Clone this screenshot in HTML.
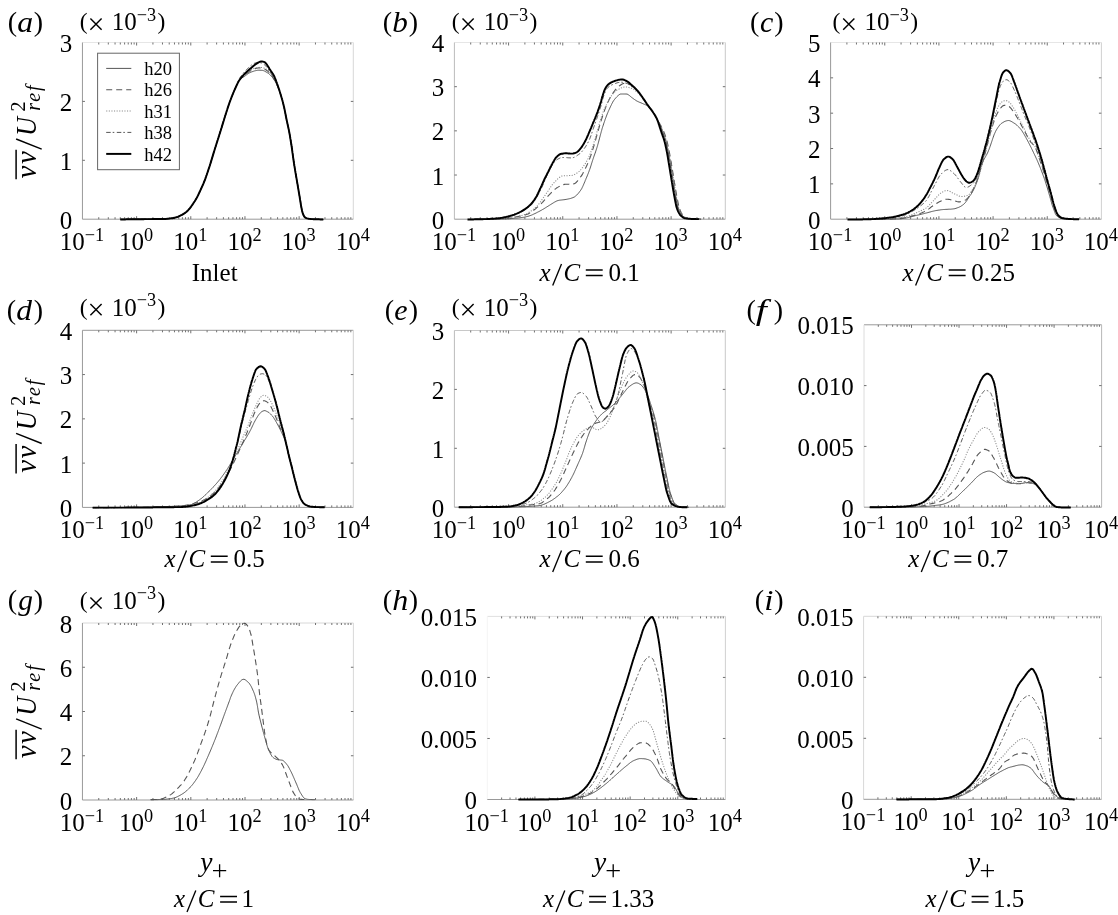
<!DOCTYPE html>
<html><head><meta charset="utf-8"><style>
html,body{margin:0;padding:0;background:#fff;width:1118px;height:915px;overflow:hidden}
svg{display:block;filter:grayscale(100%)}
</style></head><body>
<svg width="1118" height="915" viewBox="0 0 1118 915" font-family="Liberation Serif, serif">
<rect width="1118" height="915" fill="#fff"/>
<line x1="82.45" y1="42.5" x2="353.3" y2="42.5" stroke="#e6e6e6" stroke-width="1"/>
<line x1="353.3" y1="42.5" x2="353.3" y2="219.2" stroke="#d8d8d8" stroke-width="1"/>
<line x1="82.45" y1="42.5" x2="82.45" y2="219.2" stroke="#999" stroke-width="1"/>
<line x1="82.45" y1="219.2" x2="353.3" y2="219.2" stroke="#999" stroke-width="1"/>
<path d="M98.76 219.20v-2.0M98.76 42.50v2.0M108.30 219.20v-2.0M108.30 42.50v2.0M115.06 219.20v-2.0M115.06 42.50v2.0M120.31 219.20v-2.0M120.31 42.50v2.0M124.60 219.20v-2.0M124.60 42.50v2.0M128.23 219.20v-2.0M128.23 42.50v2.0M131.37 219.20v-2.0M131.37 42.50v2.0M134.14 219.20v-2.0M134.14 42.50v2.0M136.62 219.20v-3.0M136.62 42.50v3.0M152.93 219.20v-2.0M152.93 42.50v2.0M162.47 219.20v-2.0M162.47 42.50v2.0M169.23 219.20v-2.0M169.23 42.50v2.0M174.48 219.20v-2.0M174.48 42.50v2.0M178.77 219.20v-2.0M178.77 42.50v2.0M182.40 219.20v-2.0M182.40 42.50v2.0M185.54 219.20v-2.0M185.54 42.50v2.0M188.31 219.20v-2.0M188.31 42.50v2.0M190.79 219.20v-3.0M190.79 42.50v3.0M207.10 219.20v-2.0M207.10 42.50v2.0M216.64 219.20v-2.0M216.64 42.50v2.0M223.40 219.20v-2.0M223.40 42.50v2.0M228.65 219.20v-2.0M228.65 42.50v2.0M232.94 219.20v-2.0M232.94 42.50v2.0M236.57 219.20v-2.0M236.57 42.50v2.0M239.71 219.20v-2.0M239.71 42.50v2.0M242.48 219.20v-2.0M242.48 42.50v2.0M244.96 219.20v-3.0M244.96 42.50v3.0M261.27 219.20v-2.0M261.27 42.50v2.0M270.81 219.20v-2.0M270.81 42.50v2.0M277.57 219.20v-2.0M277.57 42.50v2.0M282.82 219.20v-2.0M282.82 42.50v2.0M287.11 219.20v-2.0M287.11 42.50v2.0M290.74 219.20v-2.0M290.74 42.50v2.0M293.88 219.20v-2.0M293.88 42.50v2.0M296.65 219.20v-2.0M296.65 42.50v2.0M299.13 219.20v-3.0M299.13 42.50v3.0M315.44 219.20v-2.0M315.44 42.50v2.0M324.98 219.20v-2.0M324.98 42.50v2.0M331.74 219.20v-2.0M331.74 42.50v2.0M336.99 219.20v-2.0M336.99 42.50v2.0M341.28 219.20v-2.0M341.28 42.50v2.0M344.91 219.20v-2.0M344.91 42.50v2.0M348.05 219.20v-2.0M348.05 42.50v2.0M350.82 219.20v-2.0M350.82 42.50v2.0M82.45 160.30h2.5M353.30 160.30h-2.5M82.45 101.40h2.5M353.30 101.40h-2.5" stroke="#707070" stroke-width="1" fill="none"/>
<line x1="454.4" y1="42.5" x2="725.3" y2="42.5" stroke="#e6e6e6" stroke-width="1"/>
<line x1="725.3" y1="42.5" x2="725.3" y2="219.2" stroke="#c8c8c8" stroke-width="1"/>
<line x1="454.4" y1="42.5" x2="454.4" y2="219.2" stroke="#bbb" stroke-width="1"/>
<line x1="454.4" y1="219.2" x2="725.3" y2="219.2" stroke="#999" stroke-width="1"/>
<path d="M470.71 219.20v-2.0M470.71 42.50v2.0M480.25 219.20v-2.0M480.25 42.50v2.0M487.02 219.20v-2.0M487.02 42.50v2.0M492.27 219.20v-2.0M492.27 42.50v2.0M496.56 219.20v-2.0M496.56 42.50v2.0M500.19 219.20v-2.0M500.19 42.50v2.0M503.33 219.20v-2.0M503.33 42.50v2.0M506.10 219.20v-2.0M506.10 42.50v2.0M508.58 219.20v-3.0M508.58 42.50v3.0M524.89 219.20v-2.0M524.89 42.50v2.0M534.43 219.20v-2.0M534.43 42.50v2.0M541.20 219.20v-2.0M541.20 42.50v2.0M546.45 219.20v-2.0M546.45 42.50v2.0M550.74 219.20v-2.0M550.74 42.50v2.0M554.37 219.20v-2.0M554.37 42.50v2.0M557.51 219.20v-2.0M557.51 42.50v2.0M560.28 219.20v-2.0M560.28 42.50v2.0M562.76 219.20v-3.0M562.76 42.50v3.0M579.07 219.20v-2.0M579.07 42.50v2.0M588.61 219.20v-2.0M588.61 42.50v2.0M595.38 219.20v-2.0M595.38 42.50v2.0M600.63 219.20v-2.0M600.63 42.50v2.0M604.92 219.20v-2.0M604.92 42.50v2.0M608.55 219.20v-2.0M608.55 42.50v2.0M611.69 219.20v-2.0M611.69 42.50v2.0M614.46 219.20v-2.0M614.46 42.50v2.0M616.94 219.20v-3.0M616.94 42.50v3.0M633.25 219.20v-2.0M633.25 42.50v2.0M642.79 219.20v-2.0M642.79 42.50v2.0M649.56 219.20v-2.0M649.56 42.50v2.0M654.81 219.20v-2.0M654.81 42.50v2.0M659.10 219.20v-2.0M659.10 42.50v2.0M662.73 219.20v-2.0M662.73 42.50v2.0M665.87 219.20v-2.0M665.87 42.50v2.0M668.64 219.20v-2.0M668.64 42.50v2.0M671.12 219.20v-3.0M671.12 42.50v3.0M687.43 219.20v-2.0M687.43 42.50v2.0M696.97 219.20v-2.0M696.97 42.50v2.0M703.74 219.20v-2.0M703.74 42.50v2.0M708.99 219.20v-2.0M708.99 42.50v2.0M713.28 219.20v-2.0M713.28 42.50v2.0M716.91 219.20v-2.0M716.91 42.50v2.0M720.05 219.20v-2.0M720.05 42.50v2.0M722.82 219.20v-2.0M722.82 42.50v2.0M454.40 175.02h2.5M725.30 175.02h-2.5M454.40 130.85h2.5M725.30 130.85h-2.5M454.40 86.68h2.5M725.30 86.68h-2.5" stroke="#707070" stroke-width="1" fill="none"/>
<line x1="830.6" y1="42.5" x2="1101.4" y2="42.5" stroke="#e6e6e6" stroke-width="1"/>
<line x1="1101.4" y1="42.5" x2="1101.4" y2="219.2" stroke="#d0d0d0" stroke-width="1"/>
<line x1="830.6" y1="42.5" x2="830.6" y2="219.2" stroke="#999" stroke-width="1"/>
<line x1="830.6" y1="219.2" x2="1101.4" y2="219.2" stroke="#999" stroke-width="1"/>
<path d="M846.90 219.20v-2.0M846.90 42.50v2.0M856.44 219.20v-2.0M856.44 42.50v2.0M863.21 219.20v-2.0M863.21 42.50v2.0M868.46 219.20v-2.0M868.46 42.50v2.0M872.74 219.20v-2.0M872.74 42.50v2.0M876.37 219.20v-2.0M876.37 42.50v2.0M879.51 219.20v-2.0M879.51 42.50v2.0M882.28 219.20v-2.0M882.28 42.50v2.0M884.76 219.20v-3.0M884.76 42.50v3.0M901.06 219.20v-2.0M901.06 42.50v2.0M910.60 219.20v-2.0M910.60 42.50v2.0M917.37 219.20v-2.0M917.37 42.50v2.0M922.62 219.20v-2.0M922.62 42.50v2.0M926.90 219.20v-2.0M926.90 42.50v2.0M930.53 219.20v-2.0M930.53 42.50v2.0M933.67 219.20v-2.0M933.67 42.50v2.0M936.44 219.20v-2.0M936.44 42.50v2.0M938.92 219.20v-3.0M938.92 42.50v3.0M955.22 219.20v-2.0M955.22 42.50v2.0M964.76 219.20v-2.0M964.76 42.50v2.0M971.53 219.20v-2.0M971.53 42.50v2.0M976.78 219.20v-2.0M976.78 42.50v2.0M981.06 219.20v-2.0M981.06 42.50v2.0M984.69 219.20v-2.0M984.69 42.50v2.0M987.83 219.20v-2.0M987.83 42.50v2.0M990.60 219.20v-2.0M990.60 42.50v2.0M993.08 219.20v-3.0M993.08 42.50v3.0M1009.38 219.20v-2.0M1009.38 42.50v2.0M1018.92 219.20v-2.0M1018.92 42.50v2.0M1025.69 219.20v-2.0M1025.69 42.50v2.0M1030.94 219.20v-2.0M1030.94 42.50v2.0M1035.22 219.20v-2.0M1035.22 42.50v2.0M1038.85 219.20v-2.0M1038.85 42.50v2.0M1041.99 219.20v-2.0M1041.99 42.50v2.0M1044.76 219.20v-2.0M1044.76 42.50v2.0M1047.24 219.20v-3.0M1047.24 42.50v3.0M1063.54 219.20v-2.0M1063.54 42.50v2.0M1073.08 219.20v-2.0M1073.08 42.50v2.0M1079.85 219.20v-2.0M1079.85 42.50v2.0M1085.10 219.20v-2.0M1085.10 42.50v2.0M1089.38 219.20v-2.0M1089.38 42.50v2.0M1093.01 219.20v-2.0M1093.01 42.50v2.0M1096.15 219.20v-2.0M1096.15 42.50v2.0M1098.92 219.20v-2.0M1098.92 42.50v2.0M830.60 183.86h2.5M1101.40 183.86h-2.5M830.60 148.52h2.5M1101.40 148.52h-2.5M830.60 113.18h2.5M1101.40 113.18h-2.5M830.60 77.84h2.5M1101.40 77.84h-2.5" stroke="#707070" stroke-width="1" fill="none"/>
<line x1="82.45" y1="330.3" x2="353.3" y2="330.3" stroke="#999" stroke-width="1"/>
<line x1="353.3" y1="330.3" x2="353.3" y2="507.4" stroke="#d0d0d0" stroke-width="1"/>
<line x1="82.45" y1="330.3" x2="82.45" y2="507.4" stroke="#999" stroke-width="1"/>
<line x1="82.45" y1="507.4" x2="353.3" y2="507.4" stroke="#999" stroke-width="1"/>
<path d="M98.76 507.40v-2.0M98.76 330.30v2.0M108.30 507.40v-2.0M108.30 330.30v2.0M115.06 507.40v-2.0M115.06 330.30v2.0M120.31 507.40v-2.0M120.31 330.30v2.0M124.60 507.40v-2.0M124.60 330.30v2.0M128.23 507.40v-2.0M128.23 330.30v2.0M131.37 507.40v-2.0M131.37 330.30v2.0M134.14 507.40v-2.0M134.14 330.30v2.0M136.62 507.40v-3.0M136.62 330.30v3.0M152.93 507.40v-2.0M152.93 330.30v2.0M162.47 507.40v-2.0M162.47 330.30v2.0M169.23 507.40v-2.0M169.23 330.30v2.0M174.48 507.40v-2.0M174.48 330.30v2.0M178.77 507.40v-2.0M178.77 330.30v2.0M182.40 507.40v-2.0M182.40 330.30v2.0M185.54 507.40v-2.0M185.54 330.30v2.0M188.31 507.40v-2.0M188.31 330.30v2.0M190.79 507.40v-3.0M190.79 330.30v3.0M207.10 507.40v-2.0M207.10 330.30v2.0M216.64 507.40v-2.0M216.64 330.30v2.0M223.40 507.40v-2.0M223.40 330.30v2.0M228.65 507.40v-2.0M228.65 330.30v2.0M232.94 507.40v-2.0M232.94 330.30v2.0M236.57 507.40v-2.0M236.57 330.30v2.0M239.71 507.40v-2.0M239.71 330.30v2.0M242.48 507.40v-2.0M242.48 330.30v2.0M244.96 507.40v-3.0M244.96 330.30v3.0M261.27 507.40v-2.0M261.27 330.30v2.0M270.81 507.40v-2.0M270.81 330.30v2.0M277.57 507.40v-2.0M277.57 330.30v2.0M282.82 507.40v-2.0M282.82 330.30v2.0M287.11 507.40v-2.0M287.11 330.30v2.0M290.74 507.40v-2.0M290.74 330.30v2.0M293.88 507.40v-2.0M293.88 330.30v2.0M296.65 507.40v-2.0M296.65 330.30v2.0M299.13 507.40v-3.0M299.13 330.30v3.0M315.44 507.40v-2.0M315.44 330.30v2.0M324.98 507.40v-2.0M324.98 330.30v2.0M331.74 507.40v-2.0M331.74 330.30v2.0M336.99 507.40v-2.0M336.99 330.30v2.0M341.28 507.40v-2.0M341.28 330.30v2.0M344.91 507.40v-2.0M344.91 330.30v2.0M348.05 507.40v-2.0M348.05 330.30v2.0M350.82 507.40v-2.0M350.82 330.30v2.0M82.45 463.12h2.5M353.30 463.12h-2.5M82.45 418.85h2.5M353.30 418.85h-2.5M82.45 374.57h2.5M353.30 374.57h-2.5" stroke="#707070" stroke-width="1" fill="none"/>
<line x1="454.4" y1="330.5" x2="725.3" y2="330.5" stroke="#c8c8c8" stroke-width="1"/>
<line x1="725.3" y1="330.5" x2="725.3" y2="507.2" stroke="#c8c8c8" stroke-width="1"/>
<line x1="454.4" y1="330.5" x2="454.4" y2="507.2" stroke="#bbb" stroke-width="1"/>
<line x1="454.4" y1="507.2" x2="725.3" y2="507.2" stroke="#999" stroke-width="1"/>
<path d="M470.71 507.20v-2.0M470.71 330.50v2.0M480.25 507.20v-2.0M480.25 330.50v2.0M487.02 507.20v-2.0M487.02 330.50v2.0M492.27 507.20v-2.0M492.27 330.50v2.0M496.56 507.20v-2.0M496.56 330.50v2.0M500.19 507.20v-2.0M500.19 330.50v2.0M503.33 507.20v-2.0M503.33 330.50v2.0M506.10 507.20v-2.0M506.10 330.50v2.0M508.58 507.20v-3.0M508.58 330.50v3.0M524.89 507.20v-2.0M524.89 330.50v2.0M534.43 507.20v-2.0M534.43 330.50v2.0M541.20 507.20v-2.0M541.20 330.50v2.0M546.45 507.20v-2.0M546.45 330.50v2.0M550.74 507.20v-2.0M550.74 330.50v2.0M554.37 507.20v-2.0M554.37 330.50v2.0M557.51 507.20v-2.0M557.51 330.50v2.0M560.28 507.20v-2.0M560.28 330.50v2.0M562.76 507.20v-3.0M562.76 330.50v3.0M579.07 507.20v-2.0M579.07 330.50v2.0M588.61 507.20v-2.0M588.61 330.50v2.0M595.38 507.20v-2.0M595.38 330.50v2.0M600.63 507.20v-2.0M600.63 330.50v2.0M604.92 507.20v-2.0M604.92 330.50v2.0M608.55 507.20v-2.0M608.55 330.50v2.0M611.69 507.20v-2.0M611.69 330.50v2.0M614.46 507.20v-2.0M614.46 330.50v2.0M616.94 507.20v-3.0M616.94 330.50v3.0M633.25 507.20v-2.0M633.25 330.50v2.0M642.79 507.20v-2.0M642.79 330.50v2.0M649.56 507.20v-2.0M649.56 330.50v2.0M654.81 507.20v-2.0M654.81 330.50v2.0M659.10 507.20v-2.0M659.10 330.50v2.0M662.73 507.20v-2.0M662.73 330.50v2.0M665.87 507.20v-2.0M665.87 330.50v2.0M668.64 507.20v-2.0M668.64 330.50v2.0M671.12 507.20v-3.0M671.12 330.50v3.0M687.43 507.20v-2.0M687.43 330.50v2.0M696.97 507.20v-2.0M696.97 330.50v2.0M703.74 507.20v-2.0M703.74 330.50v2.0M708.99 507.20v-2.0M708.99 330.50v2.0M713.28 507.20v-2.0M713.28 330.50v2.0M716.91 507.20v-2.0M716.91 330.50v2.0M720.05 507.20v-2.0M720.05 330.50v2.0M722.82 507.20v-2.0M722.82 330.50v2.0M454.40 448.30h2.5M725.30 448.30h-2.5M454.40 389.40h2.5M725.30 389.40h-2.5" stroke="#707070" stroke-width="1" fill="none"/>
<line x1="864.0" y1="324.8" x2="1101.6" y2="324.8" stroke="#999" stroke-width="1"/>
<line x1="1101.6" y1="324.8" x2="1101.6" y2="507.2" stroke="#b8b8b8" stroke-width="1"/>
<line x1="864.0" y1="324.8" x2="864.0" y2="507.2" stroke="#dcdcdc" stroke-width="1"/>
<line x1="864.0" y1="507.2" x2="1101.6" y2="507.2" stroke="#999" stroke-width="1"/>
<path d="M878.30 507.20v-2.0M878.30 324.80v2.0M886.67 507.20v-2.0M886.67 324.80v2.0M892.61 507.20v-2.0M892.61 324.80v2.0M897.22 507.20v-2.0M897.22 324.80v2.0M900.98 507.20v-2.0M900.98 324.80v2.0M904.16 507.20v-2.0M904.16 324.80v2.0M906.91 507.20v-2.0M906.91 324.80v2.0M909.35 507.20v-2.0M909.35 324.80v2.0M911.52 507.20v-3.0M911.52 324.80v3.0M925.82 507.20v-2.0M925.82 324.80v2.0M934.19 507.20v-2.0M934.19 324.80v2.0M940.13 507.20v-2.0M940.13 324.80v2.0M944.74 507.20v-2.0M944.74 324.80v2.0M948.50 507.20v-2.0M948.50 324.80v2.0M951.68 507.20v-2.0M951.68 324.80v2.0M954.43 507.20v-2.0M954.43 324.80v2.0M956.87 507.20v-2.0M956.87 324.80v2.0M959.04 507.20v-3.0M959.04 324.80v3.0M973.34 507.20v-2.0M973.34 324.80v2.0M981.71 507.20v-2.0M981.71 324.80v2.0M987.65 507.20v-2.0M987.65 324.80v2.0M992.26 507.20v-2.0M992.26 324.80v2.0M996.02 507.20v-2.0M996.02 324.80v2.0M999.20 507.20v-2.0M999.20 324.80v2.0M1001.95 507.20v-2.0M1001.95 324.80v2.0M1004.39 507.20v-2.0M1004.39 324.80v2.0M1006.56 507.20v-3.0M1006.56 324.80v3.0M1020.86 507.20v-2.0M1020.86 324.80v2.0M1029.23 507.20v-2.0M1029.23 324.80v2.0M1035.17 507.20v-2.0M1035.17 324.80v2.0M1039.78 507.20v-2.0M1039.78 324.80v2.0M1043.54 507.20v-2.0M1043.54 324.80v2.0M1046.72 507.20v-2.0M1046.72 324.80v2.0M1049.47 507.20v-2.0M1049.47 324.80v2.0M1051.91 507.20v-2.0M1051.91 324.80v2.0M1054.08 507.20v-3.0M1054.08 324.80v3.0M1068.38 507.20v-2.0M1068.38 324.80v2.0M1076.75 507.20v-2.0M1076.75 324.80v2.0M1082.69 507.20v-2.0M1082.69 324.80v2.0M1087.30 507.20v-2.0M1087.30 324.80v2.0M1091.06 507.20v-2.0M1091.06 324.80v2.0M1094.24 507.20v-2.0M1094.24 324.80v2.0M1096.99 507.20v-2.0M1096.99 324.80v2.0M1099.43 507.20v-2.0M1099.43 324.80v2.0M864.00 446.40h2.5M1101.60 446.40h-2.5M864.00 385.60h2.5M1101.60 385.60h-2.5" stroke="#707070" stroke-width="1" fill="none"/>
<line x1="82.45" y1="623.0" x2="353.4" y2="623.0" stroke="#d8d8d8" stroke-width="1"/>
<line x1="353.4" y1="623.0" x2="353.4" y2="800.0" stroke="#d8d8d8" stroke-width="1"/>
<line x1="82.45" y1="623.0" x2="82.45" y2="800.0" stroke="#999" stroke-width="1"/>
<line x1="82.45" y1="800.0" x2="353.4" y2="800.0" stroke="#999" stroke-width="1"/>
<path d="M98.76 800.00v-2.0M98.76 623.00v2.0M108.31 800.00v-2.0M108.31 623.00v2.0M115.08 800.00v-2.0M115.08 623.00v2.0M120.33 800.00v-2.0M120.33 623.00v2.0M124.62 800.00v-2.0M124.62 623.00v2.0M128.25 800.00v-2.0M128.25 623.00v2.0M131.39 800.00v-2.0M131.39 623.00v2.0M134.16 800.00v-2.0M134.16 623.00v2.0M136.64 800.00v-3.0M136.64 623.00v3.0M152.95 800.00v-2.0M152.95 623.00v2.0M162.50 800.00v-2.0M162.50 623.00v2.0M169.27 800.00v-2.0M169.27 623.00v2.0M174.52 800.00v-2.0M174.52 623.00v2.0M178.81 800.00v-2.0M178.81 623.00v2.0M182.44 800.00v-2.0M182.44 623.00v2.0M185.58 800.00v-2.0M185.58 623.00v2.0M188.35 800.00v-2.0M188.35 623.00v2.0M190.83 800.00v-3.0M190.83 623.00v3.0M207.14 800.00v-2.0M207.14 623.00v2.0M216.69 800.00v-2.0M216.69 623.00v2.0M223.46 800.00v-2.0M223.46 623.00v2.0M228.71 800.00v-2.0M228.71 623.00v2.0M233.00 800.00v-2.0M233.00 623.00v2.0M236.63 800.00v-2.0M236.63 623.00v2.0M239.77 800.00v-2.0M239.77 623.00v2.0M242.54 800.00v-2.0M242.54 623.00v2.0M245.02 800.00v-3.0M245.02 623.00v3.0M261.33 800.00v-2.0M261.33 623.00v2.0M270.88 800.00v-2.0M270.88 623.00v2.0M277.65 800.00v-2.0M277.65 623.00v2.0M282.90 800.00v-2.0M282.90 623.00v2.0M287.19 800.00v-2.0M287.19 623.00v2.0M290.82 800.00v-2.0M290.82 623.00v2.0M293.96 800.00v-2.0M293.96 623.00v2.0M296.73 800.00v-2.0M296.73 623.00v2.0M299.21 800.00v-3.0M299.21 623.00v3.0M315.52 800.00v-2.0M315.52 623.00v2.0M325.07 800.00v-2.0M325.07 623.00v2.0M331.84 800.00v-2.0M331.84 623.00v2.0M337.09 800.00v-2.0M337.09 623.00v2.0M341.38 800.00v-2.0M341.38 623.00v2.0M345.01 800.00v-2.0M345.01 623.00v2.0M348.15 800.00v-2.0M348.15 623.00v2.0M350.92 800.00v-2.0M350.92 623.00v2.0M82.45 755.75h2.5M353.40 755.75h-2.5M82.45 711.50h2.5M353.40 711.50h-2.5M82.45 667.25h2.5M353.40 667.25h-2.5" stroke="#707070" stroke-width="1" fill="none"/>
<line x1="487.3" y1="616.4" x2="725.4" y2="616.4" stroke="#e0e0e0" stroke-width="1"/>
<line x1="725.4" y1="616.4" x2="725.4" y2="799.5" stroke="#d0d0d0" stroke-width="1"/>
<line x1="487.3" y1="616.4" x2="487.3" y2="799.5" stroke="#f4f4f4" stroke-width="1"/>
<line x1="487.3" y1="799.5" x2="725.4" y2="799.5" stroke="#999" stroke-width="1"/>
<path d="M501.64 799.50v-2.0M501.64 616.40v2.0M510.02 799.50v-2.0M510.02 616.40v2.0M515.97 799.50v-2.0M515.97 616.40v2.0M520.58 799.50v-2.0M520.58 616.40v2.0M524.36 799.50v-2.0M524.36 616.40v2.0M527.54 799.50v-2.0M527.54 616.40v2.0M530.31 799.50v-2.0M530.31 616.40v2.0M532.74 799.50v-2.0M532.74 616.40v2.0M534.92 799.50v-3.0M534.92 616.40v3.0M549.26 799.50v-2.0M549.26 616.40v2.0M557.64 799.50v-2.0M557.64 616.40v2.0M563.59 799.50v-2.0M563.59 616.40v2.0M568.20 799.50v-2.0M568.20 616.40v2.0M571.98 799.50v-2.0M571.98 616.40v2.0M575.16 799.50v-2.0M575.16 616.40v2.0M577.93 799.50v-2.0M577.93 616.40v2.0M580.36 799.50v-2.0M580.36 616.40v2.0M582.54 799.50v-3.0M582.54 616.40v3.0M596.88 799.50v-2.0M596.88 616.40v2.0M605.26 799.50v-2.0M605.26 616.40v2.0M611.21 799.50v-2.0M611.21 616.40v2.0M615.82 799.50v-2.0M615.82 616.40v2.0M619.60 799.50v-2.0M619.60 616.40v2.0M622.78 799.50v-2.0M622.78 616.40v2.0M625.55 799.50v-2.0M625.55 616.40v2.0M627.98 799.50v-2.0M627.98 616.40v2.0M630.16 799.50v-3.0M630.16 616.40v3.0M644.50 799.50v-2.0M644.50 616.40v2.0M652.88 799.50v-2.0M652.88 616.40v2.0M658.83 799.50v-2.0M658.83 616.40v2.0M663.44 799.50v-2.0M663.44 616.40v2.0M667.22 799.50v-2.0M667.22 616.40v2.0M670.40 799.50v-2.0M670.40 616.40v2.0M673.17 799.50v-2.0M673.17 616.40v2.0M675.60 799.50v-2.0M675.60 616.40v2.0M677.78 799.50v-3.0M677.78 616.40v3.0M692.12 799.50v-2.0M692.12 616.40v2.0M700.50 799.50v-2.0M700.50 616.40v2.0M706.45 799.50v-2.0M706.45 616.40v2.0M711.06 799.50v-2.0M711.06 616.40v2.0M714.84 799.50v-2.0M714.84 616.40v2.0M718.02 799.50v-2.0M718.02 616.40v2.0M720.79 799.50v-2.0M720.79 616.40v2.0M723.22 799.50v-2.0M723.22 616.40v2.0M487.30 738.47h2.5M725.40 738.47h-2.5M487.30 677.43h2.5M725.40 677.43h-2.5" stroke="#707070" stroke-width="1" fill="none"/>
<line x1="863.6" y1="616.3" x2="1101.5" y2="616.3" stroke="#d8d8d8" stroke-width="1"/>
<line x1="1101.5" y1="616.3" x2="1101.5" y2="799.3" stroke="#d0d0d0" stroke-width="1"/>
<line x1="863.6" y1="616.3" x2="863.6" y2="799.3" stroke="#d8d8d8" stroke-width="1"/>
<line x1="863.6" y1="799.3" x2="1101.5" y2="799.3" stroke="#999" stroke-width="1"/>
<path d="M877.92 799.30v-2.0M877.92 616.30v2.0M886.30 799.30v-2.0M886.30 616.30v2.0M892.25 799.30v-2.0M892.25 616.30v2.0M896.86 799.30v-2.0M896.86 616.30v2.0M900.62 799.30v-2.0M900.62 616.30v2.0M903.81 799.30v-2.0M903.81 616.30v2.0M906.57 799.30v-2.0M906.57 616.30v2.0M909.00 799.30v-2.0M909.00 616.30v2.0M911.18 799.30v-3.0M911.18 616.30v3.0M925.50 799.30v-2.0M925.50 616.30v2.0M933.88 799.30v-2.0M933.88 616.30v2.0M939.83 799.30v-2.0M939.83 616.30v2.0M944.44 799.30v-2.0M944.44 616.30v2.0M948.20 799.30v-2.0M948.20 616.30v2.0M951.39 799.30v-2.0M951.39 616.30v2.0M954.15 799.30v-2.0M954.15 616.30v2.0M956.58 799.30v-2.0M956.58 616.30v2.0M958.76 799.30v-3.0M958.76 616.30v3.0M973.08 799.30v-2.0M973.08 616.30v2.0M981.46 799.30v-2.0M981.46 616.30v2.0M987.41 799.30v-2.0M987.41 616.30v2.0M992.02 799.30v-2.0M992.02 616.30v2.0M995.78 799.30v-2.0M995.78 616.30v2.0M998.97 799.30v-2.0M998.97 616.30v2.0M1001.73 799.30v-2.0M1001.73 616.30v2.0M1004.16 799.30v-2.0M1004.16 616.30v2.0M1006.34 799.30v-3.0M1006.34 616.30v3.0M1020.66 799.30v-2.0M1020.66 616.30v2.0M1029.04 799.30v-2.0M1029.04 616.30v2.0M1034.99 799.30v-2.0M1034.99 616.30v2.0M1039.60 799.30v-2.0M1039.60 616.30v2.0M1043.36 799.30v-2.0M1043.36 616.30v2.0M1046.55 799.30v-2.0M1046.55 616.30v2.0M1049.31 799.30v-2.0M1049.31 616.30v2.0M1051.74 799.30v-2.0M1051.74 616.30v2.0M1053.92 799.30v-3.0M1053.92 616.30v3.0M1068.24 799.30v-2.0M1068.24 616.30v2.0M1076.62 799.30v-2.0M1076.62 616.30v2.0M1082.57 799.30v-2.0M1082.57 616.30v2.0M1087.18 799.30v-2.0M1087.18 616.30v2.0M1090.94 799.30v-2.0M1090.94 616.30v2.0M1094.13 799.30v-2.0M1094.13 616.30v2.0M1096.89 799.30v-2.0M1096.89 616.30v2.0M1099.32 799.30v-2.0M1099.32 616.30v2.0M863.60 738.30h2.5M1101.50 738.30h-2.5M863.60 677.30h2.5M1101.50 677.30h-2.5" stroke="#707070" stroke-width="1" fill="none"/>
<path d="M120.3 219.4L121.2 219.4L122.1 219.4L123.0 219.4L123.9 219.4L124.8 219.4L125.7 219.4L126.6 219.3L127.5 219.3L128.4 219.3L129.3 219.3L130.2 219.3L131.1 219.3L132.0 219.3L132.9 219.3L133.8 219.3L134.7 219.3L135.6 219.2L136.5 219.2L137.4 219.2L138.3 219.2L139.2 219.2L140.1 219.2L141.0 219.2L141.9 219.2L142.8 219.2L143.7 219.2L144.6 219.1L145.5 219.1L146.4 219.1L147.3 219.1L148.2 219.1L149.1 219.1L150.0 219.1L150.9 219.1L151.8 219.1L152.7 219.0L153.6 219.0L154.5 219.0L155.4 219.0L156.3 219.0L157.2 219.0L158.1 219.0L159.0 219.0L159.9 219.0L160.8 219.0L161.7 218.9L162.6 218.9L163.5 218.9L164.4 218.9L165.3 218.9L166.2 218.9L167.1 218.8L168.0 218.7L168.9 218.6L169.8 218.5L170.7 218.4L171.6 218.3L172.5 218.2L173.4 218.0L174.3 217.8L175.2 217.6L176.1 217.3L177.0 217.1L177.9 216.8L178.7 216.4L179.6 216.0L180.4 215.6L181.2 215.2L182.0 214.8L182.8 214.3L183.6 213.8L184.4 213.3L185.2 212.8L185.9 212.2L186.6 211.7L187.3 211.0L188.0 210.4L188.6 209.7L189.2 209.0L189.8 208.3L190.4 207.5L191.0 206.8L191.5 206.0L192.1 205.2L192.6 204.4L193.2 203.6L193.7 202.8L194.2 202.0L194.7 201.3L195.2 200.5L195.7 199.6L196.2 198.9L196.6 198.1L197.1 197.2L197.5 196.4L198.0 195.5L198.4 194.6L198.8 193.8L199.2 192.9L199.6 192.0L200.0 191.2L200.4 190.3L200.8 189.4L201.2 188.5L201.6 187.6L202.0 186.8L202.4 185.9L202.8 185.0L203.2 184.1L203.6 183.1L204.0 182.3L204.3 181.4L204.7 180.5L205.0 179.6L205.4 178.6L205.7 177.6L206.0 176.8L206.3 175.9L206.6 175.1L206.9 174.2L207.2 173.3L207.5 172.5L207.8 171.6L208.1 170.7L208.4 169.8L208.7 168.9L209.0 168.0L209.3 167.1L209.6 166.2L209.9 165.3L210.2 164.3L210.5 163.4L210.8 162.4L211.1 161.4L211.4 160.4L211.7 159.4L212.0 158.4L212.3 157.4L212.6 156.4L212.9 155.4L213.2 154.4L213.5 153.4L213.8 152.4L214.1 151.4L214.4 150.5L214.7 149.5L215.0 148.5L215.3 147.5L215.6 146.6L215.9 145.6L216.2 144.7L216.5 143.7L216.8 142.8L217.1 141.9L217.4 140.9L217.7 140.0L218.0 139.0L218.3 138.1L218.6 137.1L218.9 136.2L219.2 135.3L219.5 134.3L219.8 133.4L220.1 132.4L220.4 131.4L220.7 130.5L221.0 129.5L221.3 128.5L221.6 127.6L221.9 126.6L222.2 125.6L222.5 124.6L222.8 123.6L223.1 122.6L223.4 121.6L223.7 120.7L224.0 119.7L224.3 118.7L224.6 117.7L224.9 116.8L225.2 115.8L225.5 114.9L225.8 113.9L226.1 113.0L226.4 112.0L226.7 111.1L227.0 110.2L227.3 109.3L227.6 108.3L227.9 107.4L228.2 106.5L228.5 105.6L228.8 104.7L229.1 103.9L229.4 103.0L229.7 102.1L230.1 101.2L230.4 100.2L230.8 99.3L231.1 98.3L231.5 97.4L231.8 96.5L232.2 95.6L232.5 94.7L232.9 93.9L233.2 93.0L233.6 92.2L234.0 91.2L234.4 90.3L234.8 89.4L235.2 88.5L235.6 87.6L236.0 86.6L236.4 85.7L236.8 84.8L237.2 83.9L237.6 83.1L238.0 82.2L238.5 81.5L239.0 80.7L239.6 80.0L240.2 79.3L240.9 78.7L241.7 78.2L242.4 77.6L243.2 77.1L244.0 76.6L244.8 76.1L245.5 75.6L246.3 75.0L247.0 74.4L247.8 73.9L248.6 73.4L249.4 72.9L250.2 72.5L251.1 72.1L251.9 71.8L252.8 71.5L253.7 71.2L254.6 70.9L255.5 70.7L256.4 70.5L257.3 70.3L258.2 70.2L259.1 70.2L260.0 70.2L260.9 70.3L261.8 70.3L262.7 70.4L263.6 70.7L264.4 71.0L265.2 71.5L266.0 71.9L266.8 72.4L267.6 72.9L268.4 73.4L269.1 74.0L269.8 74.6L270.5 75.2L271.2 75.9L271.8 76.6L272.4 77.3L273.0 78.1L273.5 78.8L274.1 79.6L274.6 80.4L275.1 81.3L275.5 82.1L276.0 82.9L276.4 83.8L276.9 84.7L277.3 85.5L277.7 86.4L278.1 87.4L278.4 88.2L278.8 89.1L279.1 90.0L279.5 90.9L279.8 91.9L280.1 92.8L280.4 93.6L280.7 94.6L281.0 95.5L281.3 96.5L281.6 97.6L281.9 98.5L282.1 99.4L282.4 100.3L282.6 101.3L282.9 102.3L283.1 103.2L283.4 104.3L283.6 105.3L283.9 106.4L284.1 107.2L284.3 108.2L284.5 109.1L284.7 110.1L284.9 111.1L285.1 112.1L285.3 113.1L285.5 114.2L285.7 115.2L285.9 116.2L286.1 117.2L286.3 118.2L286.5 119.2L286.7 120.2L286.9 121.1L287.1 122.0L287.3 122.9L287.5 123.9L287.7 124.8L287.9 125.7L288.1 126.6L288.3 127.5L288.5 128.5L288.7 129.4L288.9 130.4L289.1 131.4L289.3 132.5L289.5 133.5L289.7 134.6L289.9 135.7L290.1 136.9L290.3 138.1L290.4 138.9L290.6 139.8L290.7 140.8L290.9 141.7L291.0 142.6L291.2 143.6L291.3 144.5L291.5 145.5L291.6 146.5L291.8 147.5L291.9 148.5L292.1 149.6L292.2 150.6L292.4 151.8L292.5 152.9L292.7 154.0L292.8 155.1L293.0 156.2L293.1 157.3L293.3 158.4L293.4 159.5L293.6 160.5L293.7 161.5L293.9 162.5L294.0 163.4L294.2 164.4L294.3 165.4L294.5 166.3L294.6 167.2L294.8 168.1L294.9 169.1L295.1 170.0L295.2 170.9L295.4 171.8L295.5 172.7L295.7 173.6L295.8 174.5L296.0 175.4L296.1 176.3L296.3 177.2L296.5 178.4L296.7 179.5L296.9 180.7L297.1 181.9L297.3 183.1L297.5 184.2L297.7 185.4L297.9 186.6L298.1 187.8L298.3 188.9L298.5 190.1L298.7 191.3L298.9 192.5L299.1 193.7L299.3 194.8L299.5 196.0L299.7 197.2L299.8 198.1L300.0 199.0L300.1 199.9L300.3 200.9L300.4 201.8L300.6 202.7L300.7 203.6L300.9 204.8L301.1 205.9L301.3 207.0L301.5 208.0L301.7 209.0L301.9 210.0L302.1 210.9L302.4 212.0L302.6 212.9L303.0 213.8L303.3 214.7L303.7 215.5L304.2 216.4L304.7 217.1L305.5 217.7L306.3 218.1L307.2 218.4L308.1 218.6L309.0 218.8L309.9 218.9L310.8 219.0L311.7 219.1L312.6 219.1L313.5 219.2L314.4 219.2L315.3 219.2L316.2 219.3L317.1 219.3L318.0 219.3L318.9 219.3L319.8 219.4L320.7 219.4L321.6 219.4L322.5 219.4L323.3 219.4" fill="none" stroke="#555" stroke-width="1" stroke-linejoin="round"/>
<path d="M120.3 219.4L121.2 219.4L122.1 219.4L123.0 219.4L123.9 219.4L124.8 219.4L125.7 219.4L126.6 219.3L127.5 219.3L128.4 219.3L129.3 219.3L130.2 219.3L131.1 219.3L132.0 219.3L132.9 219.3L133.8 219.3L134.7 219.3L135.6 219.2L136.5 219.2L137.4 219.2L138.3 219.2L139.2 219.2L140.1 219.2L141.0 219.2L141.9 219.2L142.8 219.2L143.7 219.2L144.6 219.1L145.5 219.1L146.4 219.1L147.3 219.1L148.2 219.1L149.1 219.1L150.0 219.1L150.9 219.1L151.8 219.1L152.7 219.0L153.6 219.0L154.5 219.0L155.4 219.0L156.3 219.0L157.2 219.0L158.1 219.0L159.0 219.0L159.9 219.0L160.8 219.0L161.7 218.9L162.6 218.9L163.5 218.9L164.4 218.9L165.3 218.9L166.2 218.9L167.1 218.8L168.0 218.7L168.9 218.6L169.8 218.5L170.7 218.4L171.6 218.3L172.5 218.2L173.4 218.0L174.3 217.8L175.2 217.6L176.1 217.3L177.0 217.1L177.9 216.8L178.7 216.4L179.6 216.0L180.4 215.6L181.2 215.2L182.0 214.8L182.8 214.3L183.6 213.8L184.4 213.3L185.2 212.8L185.9 212.2L186.6 211.7L187.3 211.0L188.0 210.4L188.6 209.7L189.2 209.0L189.8 208.3L190.4 207.5L191.0 206.8L191.5 206.0L192.1 205.2L192.6 204.4L193.2 203.6L193.7 202.8L194.2 202.0L194.7 201.3L195.2 200.5L195.7 199.6L196.2 198.9L196.6 198.1L197.1 197.2L197.5 196.4L198.0 195.5L198.4 194.6L198.8 193.8L199.2 192.9L199.6 192.0L200.0 191.2L200.4 190.3L200.8 189.4L201.2 188.5L201.6 187.6L202.0 186.8L202.4 185.9L202.8 185.0L203.2 184.1L203.6 183.1L204.0 182.3L204.3 181.4L204.7 180.5L205.0 179.6L205.4 178.6L205.7 177.6L206.0 176.8L206.3 175.9L206.6 175.1L206.9 174.2L207.2 173.3L207.5 172.5L207.8 171.6L208.1 170.7L208.4 169.8L208.7 168.9L209.0 168.0L209.3 167.1L209.6 166.2L209.9 165.3L210.2 164.3L210.5 163.4L210.8 162.4L211.1 161.4L211.4 160.4L211.7 159.4L212.0 158.4L212.3 157.4L212.6 156.4L212.9 155.4L213.2 154.4L213.5 153.4L213.8 152.4L214.1 151.4L214.4 150.5L214.7 149.5L215.0 148.5L215.3 147.5L215.6 146.6L215.9 145.6L216.2 144.7L216.5 143.7L216.8 142.8L217.1 141.9L217.4 140.9L217.7 140.0L218.0 139.0L218.3 138.1L218.6 137.1L218.9 136.2L219.2 135.3L219.5 134.3L219.8 133.4L220.1 132.4L220.4 131.4L220.7 130.5L221.0 129.5L221.3 128.5L221.6 127.6L221.9 126.6L222.2 125.6L222.5 124.6L222.8 123.6L223.1 122.6L223.4 121.6L223.7 120.7L224.0 119.7L224.3 118.7L224.6 117.7L224.9 116.8L225.2 115.8L225.5 114.9L225.8 113.9L226.1 113.0L226.4 112.0L226.7 111.1L227.0 110.2L227.3 109.3L227.6 108.3L227.9 107.4L228.2 106.5L228.5 105.6L228.8 104.7L229.1 103.9L229.4 103.0L229.7 102.1L230.1 101.2L230.4 100.2L230.8 99.3L231.1 98.3L231.5 97.4L231.8 96.5L232.2 95.6L232.5 94.7L232.9 93.9L233.2 93.0L233.6 92.2L234.0 91.2L234.4 90.3L234.8 89.4L235.2 88.5L235.6 87.6L236.0 86.7L236.4 85.8L236.8 84.9L237.2 84.0L237.6 83.2L238.0 82.3L238.5 81.5L239.0 80.7L239.5 80.0L240.1 79.3L240.8 78.6L241.5 78.0L242.2 77.4L242.9 76.8L243.7 76.2L244.4 75.6L245.1 75.0L245.8 74.4L246.5 73.8L247.2 73.2L247.9 72.6L248.7 72.1L249.4 71.5L250.2 71.0L251.0 70.5L251.8 70.1L252.6 69.6L253.5 69.2L254.3 68.9L255.2 68.6L256.1 68.4L257.0 68.1L257.9 68.0L258.8 67.9L259.7 67.9L260.6 68.0L261.5 68.1L262.4 68.3L263.3 68.5L264.2 68.8L265.0 69.2L265.8 69.8L266.5 70.3L267.3 70.8L268.0 71.4L268.7 72.0L269.3 72.7L270.0 73.4L270.6 74.1L271.2 74.9L271.7 75.6L272.3 76.4L272.8 77.2L273.3 78.0L273.8 78.9L274.3 79.7L274.7 80.5L275.2 81.4L275.6 82.2L276.1 83.1L276.5 83.9L276.9 84.8L277.3 85.7L277.7 86.5L278.1 87.5L278.5 88.4L278.8 89.3L279.2 90.2L279.5 91.1L279.9 92.0L280.2 92.9L280.5 93.8L280.8 94.7L281.1 95.7L281.4 96.7L281.6 97.6L281.9 98.5L282.1 99.4L282.4 100.3L282.6 101.3L282.9 102.3L283.1 103.2L283.4 104.3L283.6 105.3L283.9 106.4L284.1 107.2L284.3 108.2L284.5 109.1L284.7 110.1L284.9 111.1L285.1 112.1L285.3 113.1L285.5 114.2L285.7 115.2L285.9 116.2L286.1 117.2L286.3 118.2L286.5 119.2L286.7 120.2L286.9 121.1L287.1 122.0L287.3 122.9L287.5 123.9L287.7 124.8L287.9 125.7L288.1 126.6L288.3 127.5L288.5 128.5L288.7 129.4L288.9 130.4L289.1 131.4L289.3 132.5L289.5 133.5L289.7 134.6L289.9 135.7L290.1 136.9L290.3 138.1L290.4 138.9L290.6 139.8L290.7 140.8L290.9 141.7L291.0 142.6L291.2 143.6L291.3 144.5L291.5 145.5L291.6 146.5L291.8 147.5L291.9 148.5L292.1 149.6L292.2 150.6L292.4 151.8L292.5 152.9L292.7 154.0L292.8 155.1L293.0 156.2L293.1 157.3L293.3 158.4L293.4 159.5L293.6 160.5L293.7 161.5L293.9 162.5L294.0 163.4L294.2 164.4L294.3 165.4L294.5 166.3L294.6 167.2L294.8 168.1L294.9 169.1L295.1 170.0L295.2 170.9L295.4 171.8L295.5 172.7L295.7 173.6L295.8 174.5L296.0 175.4L296.1 176.3L296.3 177.2L296.5 178.4L296.7 179.5L296.9 180.7L297.1 181.9L297.3 183.1L297.5 184.2L297.7 185.4L297.9 186.6L298.1 187.8L298.3 188.9L298.5 190.1L298.7 191.3L298.9 192.5L299.1 193.7L299.3 194.8L299.5 196.0L299.7 197.2L299.8 198.1L300.0 199.0L300.1 199.9L300.3 200.9L300.4 201.8L300.6 202.7L300.7 203.6L300.9 204.8L301.1 205.9L301.3 207.0L301.5 208.0L301.7 209.0L301.9 210.0L302.1 210.9L302.4 212.0L302.6 212.9L303.0 213.8L303.3 214.7L303.7 215.5L304.2 216.4L304.7 217.1L305.5 217.7L306.3 218.1L307.2 218.4L308.1 218.6L309.0 218.8L309.9 218.9L310.8 219.0L311.7 219.1L312.6 219.1L313.5 219.2L314.4 219.2L315.3 219.2L316.2 219.3L317.1 219.3L318.0 219.3L318.9 219.3L319.8 219.4L320.7 219.4L321.6 219.4L322.5 219.4L323.3 219.4" fill="none" stroke="#555" stroke-width="1.1" stroke-dasharray="6 4" stroke-linejoin="round"/>
<path d="M120.3 219.4L121.2 219.4L122.1 219.4L123.0 219.4L123.9 219.4L124.8 219.4L125.7 219.4L126.6 219.3L127.5 219.3L128.4 219.3L129.3 219.3L130.2 219.3L131.1 219.3L132.0 219.3L132.9 219.3L133.8 219.3L134.7 219.3L135.6 219.2L136.5 219.2L137.4 219.2L138.3 219.2L139.2 219.2L140.1 219.2L141.0 219.2L141.9 219.2L142.8 219.2L143.7 219.2L144.6 219.1L145.5 219.1L146.4 219.1L147.3 219.1L148.2 219.1L149.1 219.1L150.0 219.1L150.9 219.1L151.8 219.1L152.7 219.0L153.6 219.0L154.5 219.0L155.4 219.0L156.3 219.0L157.2 219.0L158.1 219.0L159.0 219.0L159.9 219.0L160.8 219.0L161.7 218.9L162.6 218.9L163.5 218.9L164.4 218.9L165.3 218.9L166.2 218.9L167.1 218.8L168.0 218.7L168.9 218.6L169.8 218.5L170.7 218.4L171.6 218.3L172.5 218.2L173.4 218.0L174.3 217.8L175.2 217.6L176.1 217.3L177.0 217.1L177.9 216.8L178.7 216.4L179.6 216.0L180.4 215.6L181.2 215.2L182.0 214.8L182.8 214.3L183.6 213.8L184.4 213.3L185.2 212.8L185.9 212.2L186.6 211.7L187.3 211.0L188.0 210.4L188.6 209.7L189.2 209.0L189.8 208.3L190.4 207.5L191.0 206.8L191.5 206.0L192.1 205.2L192.6 204.4L193.2 203.6L193.7 202.8L194.2 202.0L194.7 201.3L195.2 200.5L195.7 199.6L196.2 198.9L196.6 198.1L197.1 197.2L197.5 196.4L198.0 195.5L198.4 194.6L198.8 193.8L199.2 192.9L199.6 192.0L200.0 191.2L200.4 190.3L200.8 189.4L201.2 188.5L201.6 187.6L202.0 186.8L202.4 185.9L202.8 185.0L203.2 184.1L203.6 183.1L204.0 182.3L204.3 181.4L204.7 180.5L205.0 179.6L205.4 178.6L205.7 177.6L206.0 176.8L206.3 175.9L206.6 175.1L206.9 174.2L207.2 173.3L207.5 172.5L207.8 171.6L208.1 170.7L208.4 169.8L208.7 168.9L209.0 168.0L209.3 167.1L209.6 166.2L209.9 165.3L210.2 164.3L210.5 163.4L210.8 162.4L211.1 161.4L211.4 160.4L211.7 159.4L212.0 158.4L212.3 157.4L212.6 156.4L212.9 155.4L213.2 154.4L213.5 153.4L213.8 152.4L214.1 151.4L214.4 150.5L214.7 149.5L215.0 148.5L215.3 147.5L215.6 146.6L215.9 145.6L216.2 144.7L216.5 143.7L216.8 142.8L217.1 141.9L217.4 140.9L217.7 140.0L218.0 139.0L218.3 138.1L218.6 137.1L218.9 136.2L219.2 135.3L219.5 134.3L219.8 133.4L220.1 132.4L220.4 131.4L220.7 130.5L221.0 129.5L221.3 128.5L221.6 127.6L221.9 126.6L222.2 125.6L222.5 124.6L222.8 123.6L223.1 122.6L223.4 121.6L223.7 120.7L224.0 119.7L224.3 118.7L224.6 117.7L224.9 116.8L225.2 115.8L225.5 114.9L225.8 113.9L226.1 113.0L226.4 112.0L226.7 111.1L227.0 110.2L227.3 109.3L227.6 108.3L227.9 107.4L228.2 106.5L228.5 105.6L228.8 104.7L229.1 103.9L229.4 103.0L229.7 102.1L230.1 101.2L230.4 100.2L230.8 99.3L231.1 98.3L231.5 97.4L231.8 96.5L232.2 95.6L232.5 94.7L232.9 93.9L233.2 93.0L233.6 92.2L234.0 91.2L234.4 90.3L234.8 89.4L235.2 88.5L235.6 87.6L236.0 86.7L236.4 85.8L236.8 84.9L237.2 84.1L237.6 83.2L238.0 82.4L238.5 81.6L239.0 80.8L239.5 80.0L240.1 79.3L240.8 78.6L241.4 77.9L242.1 77.3L242.8 76.7L243.5 76.1L244.2 75.5L244.9 74.9L245.6 74.2L246.3 73.6L247.0 73.0L247.7 72.4L248.4 71.8L249.2 71.2L249.9 70.7L250.7 70.2L251.5 69.7L252.3 69.2L253.1 68.8L254.0 68.4L254.9 68.1L255.8 67.9L256.7 67.7L257.6 67.5L258.5 67.4L259.4 67.3L260.3 67.3L261.2 67.4L262.1 67.6L263.0 67.8L263.9 68.0L264.8 68.3L265.6 68.7L266.3 69.2L267.1 69.8L267.8 70.4L268.5 71.0L269.2 71.7L269.8 72.4L270.4 73.1L270.9 73.9L271.5 74.6L272.0 75.4L272.6 76.1L273.1 76.9L273.6 77.7L274.1 78.5L274.5 79.3L275.0 80.1L275.4 81.0L275.8 81.8L276.2 82.6L276.6 83.5L277.0 84.4L277.4 85.4L277.8 86.2L278.1 87.1L278.5 88.0L278.8 89.0L279.2 89.9L279.5 90.8L279.8 91.7L280.1 92.6L280.4 93.5L280.7 94.5L281.0 95.5L281.3 96.5L281.6 97.5L281.8 98.4L282.1 99.3L282.3 100.2L282.6 101.1L282.8 102.1L283.1 103.1L283.3 104.1L283.6 105.1L283.8 106.1L284.0 107.0L284.2 107.9L284.4 108.9L284.6 109.9L284.8 110.9L285.0 111.9L285.2 112.9L285.4 113.9L285.6 114.9L285.8 116.0L286.0 117.0L286.2 118.0L286.4 119.0L286.6 119.9L286.8 120.9L287.0 121.8L287.2 122.7L287.4 123.6L287.6 124.5L287.8 125.5L288.0 126.4L288.2 127.3L288.4 128.2L288.6 129.2L288.8 130.2L289.0 131.2L289.2 132.2L289.4 133.3L289.6 134.4L289.8 135.5L290.0 136.6L290.2 137.8L290.4 138.9L290.6 139.8L290.7 140.8L290.9 141.7L291.0 142.6L291.2 143.6L291.3 144.5L291.5 145.5L291.6 146.5L291.8 147.5L291.9 148.5L292.1 149.6L292.2 150.6L292.4 151.8L292.5 152.9L292.7 154.0L292.8 155.1L293.0 156.2L293.1 157.3L293.3 158.4L293.4 159.5L293.6 160.5L293.7 161.5L293.9 162.5L294.0 163.4L294.2 164.4L294.3 165.4L294.5 166.3L294.6 167.2L294.8 168.1L294.9 169.1L295.1 170.0L295.2 170.9L295.4 171.8L295.5 172.7L295.7 173.6L295.8 174.5L296.0 175.4L296.1 176.3L296.3 177.2L296.5 178.4L296.7 179.5L296.9 180.7L297.1 181.9L297.3 183.1L297.5 184.2L297.7 185.4L297.9 186.6L298.1 187.8L298.3 188.9L298.5 190.1L298.7 191.3L298.9 192.5L299.1 193.7L299.3 194.8L299.5 196.0L299.7 197.2L299.8 198.1L300.0 199.0L300.1 199.9L300.3 200.9L300.4 201.8L300.6 202.7L300.7 203.6L300.9 204.8L301.1 205.9L301.3 207.0L301.5 208.0L301.7 209.0L301.9 210.0L302.1 210.9L302.4 212.0L302.6 212.9L303.0 213.8L303.3 214.7L303.7 215.5L304.2 216.4L304.7 217.1L305.5 217.7L306.3 218.1L307.2 218.4L308.1 218.6L309.0 218.8L309.9 218.9L310.8 219.0L311.7 219.1L312.6 219.1L313.5 219.2L314.4 219.2L315.3 219.2L316.2 219.3L317.1 219.3L318.0 219.3L318.9 219.3L319.8 219.4L320.7 219.4L321.6 219.4L322.5 219.4L323.3 219.4" fill="none" stroke="#888" stroke-width="1.05" stroke-dasharray="1.1 1.5" stroke-linejoin="round"/>
<path d="M120.3 219.4L121.2 219.4L122.1 219.4L123.0 219.4L123.9 219.4L124.8 219.4L125.7 219.4L126.6 219.3L127.5 219.3L128.4 219.3L129.3 219.3L130.2 219.3L131.1 219.3L132.0 219.3L132.9 219.3L133.8 219.3L134.7 219.3L135.6 219.2L136.5 219.2L137.4 219.2L138.3 219.2L139.2 219.2L140.1 219.2L141.0 219.2L141.9 219.2L142.8 219.2L143.7 219.2L144.6 219.1L145.5 219.1L146.4 219.1L147.3 219.1L148.2 219.1L149.1 219.1L150.0 219.1L150.9 219.1L151.8 219.1L152.7 219.0L153.6 219.0L154.5 219.0L155.4 219.0L156.3 219.0L157.2 219.0L158.1 219.0L159.0 219.0L159.9 219.0L160.8 219.0L161.7 218.9L162.6 218.9L163.5 218.9L164.4 218.9L165.3 218.9L166.2 218.9L167.1 218.8L168.0 218.7L168.9 218.6L169.8 218.5L170.7 218.4L171.6 218.3L172.5 218.2L173.4 218.0L174.3 217.8L175.2 217.6L176.1 217.3L177.0 217.1L177.9 216.8L178.7 216.4L179.6 216.0L180.4 215.6L181.2 215.2L182.0 214.8L182.8 214.3L183.6 213.8L184.4 213.3L185.2 212.8L185.9 212.2L186.6 211.7L187.3 211.0L188.0 210.4L188.6 209.7L189.2 209.0L189.8 208.3L190.4 207.5L191.0 206.8L191.5 206.0L192.1 205.2L192.6 204.4L193.2 203.6L193.7 202.8L194.2 202.0L194.7 201.3L195.2 200.5L195.7 199.6L196.2 198.9L196.6 198.1L197.1 197.2L197.5 196.4L198.0 195.5L198.4 194.6L198.8 193.8L199.2 192.9L199.6 192.0L200.0 191.2L200.4 190.3L200.8 189.4L201.2 188.5L201.6 187.6L202.0 186.8L202.4 185.9L202.8 185.0L203.2 184.1L203.6 183.1L204.0 182.3L204.3 181.4L204.7 180.5L205.0 179.6L205.4 178.6L205.7 177.6L206.0 176.8L206.3 175.9L206.6 175.1L206.9 174.2L207.2 173.3L207.5 172.5L207.8 171.6L208.1 170.7L208.4 169.8L208.7 168.9L209.0 168.0L209.3 167.1L209.6 166.2L209.9 165.3L210.2 164.3L210.5 163.4L210.8 162.4L211.1 161.4L211.4 160.4L211.7 159.4L212.0 158.4L212.3 157.4L212.6 156.4L212.9 155.4L213.2 154.4L213.5 153.4L213.8 152.4L214.1 151.4L214.4 150.5L214.7 149.5L215.0 148.5L215.3 147.5L215.6 146.6L215.9 145.6L216.2 144.7L216.5 143.7L216.8 142.8L217.1 141.9L217.4 140.9L217.7 140.0L218.0 139.0L218.3 138.1L218.6 137.1L218.9 136.2L219.2 135.3L219.5 134.3L219.8 133.4L220.1 132.4L220.4 131.4L220.7 130.5L221.0 129.5L221.3 128.5L221.6 127.6L221.9 126.6L222.2 125.6L222.5 124.6L222.8 123.6L223.1 122.6L223.4 121.6L223.7 120.7L224.0 119.7L224.3 118.7L224.6 117.7L224.9 116.8L225.2 115.8L225.5 114.9L225.8 113.9L226.1 113.0L226.4 112.0L226.7 111.1L227.0 110.2L227.3 109.3L227.6 108.3L227.9 107.4L228.2 106.5L228.5 105.6L228.8 104.7L229.1 103.9L229.4 103.0L229.7 102.1L230.1 101.2L230.4 100.2L230.8 99.3L231.1 98.4L231.5 97.5L231.8 96.6L232.2 95.7L232.5 94.9L232.9 94.0L233.2 93.1L233.6 92.3L233.9 91.5L234.3 90.6L234.6 89.8L235.0 88.9L235.3 88.0L235.7 87.1L236.0 86.2L236.4 85.3L236.7 84.4L237.1 83.6L237.4 82.7L237.8 81.9L238.2 81.0L238.6 80.1L239.0 79.3L239.5 78.4L240.0 77.6L240.5 76.9L241.1 76.1L241.6 75.4L242.2 74.6L242.8 73.9L243.4 73.1L244.0 72.4L244.6 71.7L245.2 71.1L245.9 70.4L246.5 69.7L247.2 69.0L247.8 68.4L248.5 67.7L249.2 67.1L249.9 66.4L250.6 65.8L251.3 65.2L252.0 64.6L252.8 64.1L253.6 63.6L254.4 63.3L255.3 63.0L256.2 62.7L257.1 62.5L258.0 62.4L258.9 62.5L259.8 62.6L260.7 62.8L261.6 63.1L262.4 63.4L263.2 63.8L264.0 64.4L264.7 65.0L265.4 65.6L266.0 66.2L266.7 66.9L267.3 67.7L267.8 68.4L268.4 69.2L268.9 70.0L269.4 70.8L269.9 71.5L270.4 72.3L270.9 73.1L271.4 74.0L271.9 74.7L272.3 75.5L272.8 76.3L273.2 77.1L273.7 78.0L274.1 78.8L274.6 79.6L275.0 80.3L275.5 81.1L275.9 82.0L276.4 82.8L276.8 83.6L277.2 84.5L277.6 85.4L277.9 86.3L278.3 87.3L278.6 88.2L278.9 89.1L279.2 90.0L279.5 90.9L279.8 91.8L280.1 92.7L280.4 93.7L280.7 94.7L281.0 95.6L281.3 96.7L281.6 97.7L281.9 98.6L282.1 99.5L282.4 100.4L282.6 101.3L282.9 102.3L283.1 103.3L283.4 104.3L283.6 105.3L283.9 106.4L284.1 107.2L284.3 108.2L284.5 109.1L284.7 110.1L284.9 111.1L285.1 112.1L285.3 113.1L285.5 114.2L285.7 115.2L285.9 116.2L286.1 117.2L286.3 118.2L286.5 119.2L286.7 120.2L286.9 121.1L287.1 122.0L287.3 122.9L287.5 123.9L287.7 124.8L287.9 125.7L288.1 126.6L288.3 127.5L288.5 128.5L288.7 129.4L288.9 130.4L289.1 131.4L289.3 132.5L289.5 133.5L289.7 134.6L289.9 135.7L290.1 136.9L290.3 138.1L290.4 138.9L290.6 139.8L290.7 140.8L290.9 141.7L291.0 142.6L291.2 143.6L291.3 144.5L291.5 145.5L291.6 146.5L291.8 147.5L291.9 148.5L292.1 149.6L292.2 150.6L292.4 151.8L292.5 152.9L292.7 154.0L292.8 155.1L293.0 156.2L293.1 157.3L293.3 158.4L293.4 159.5L293.6 160.5L293.7 161.5L293.9 162.5L294.0 163.4L294.2 164.4L294.3 165.4L294.5 166.3L294.6 167.2L294.8 168.1L294.9 169.1L295.1 170.0L295.2 170.9L295.4 171.8L295.5 172.7L295.7 173.6L295.8 174.5L296.0 175.4L296.1 176.3L296.3 177.2L296.5 178.4L296.7 179.5L296.9 180.7L297.1 181.9L297.3 183.1L297.5 184.2L297.7 185.4L297.9 186.6L298.1 187.8L298.3 188.9L298.5 190.1L298.7 191.3L298.9 192.5L299.1 193.7L299.3 194.8L299.5 196.0L299.7 197.2L299.8 198.1L300.0 199.0L300.1 199.9L300.3 200.9L300.4 201.8L300.6 202.7L300.7 203.6L300.9 204.8L301.1 205.9L301.3 207.0L301.5 208.0L301.7 209.0L301.9 210.0L302.1 210.9L302.4 212.0L302.6 212.9L303.0 213.8L303.3 214.7L303.7 215.5L304.2 216.4L304.7 217.1L305.5 217.7L306.3 218.1L307.2 218.4L308.1 218.6L309.0 218.8L309.9 218.9L310.8 219.0L311.7 219.1L312.6 219.1L313.5 219.2L314.4 219.2L315.3 219.2L316.2 219.3L317.1 219.3L318.0 219.3L318.9 219.3L319.8 219.4L320.7 219.4L321.6 219.4L322.5 219.4L323.3 219.4" fill="none" stroke="#555" stroke-width="1" stroke-dasharray="4.5 2 1.6 2.5" stroke-linejoin="round"/>
<path d="M120.3 219.4L121.2 219.4L122.1 219.4L123.0 219.4L123.9 219.4L124.8 219.4L125.7 219.4L126.6 219.3L127.5 219.3L128.4 219.3L129.3 219.3L130.2 219.3L131.1 219.3L132.0 219.3L132.9 219.3L133.8 219.3L134.7 219.3L135.6 219.2L136.5 219.2L137.4 219.2L138.3 219.2L139.2 219.2L140.1 219.2L141.0 219.2L141.9 219.2L142.8 219.2L143.7 219.2L144.6 219.1L145.5 219.1L146.4 219.1L147.3 219.1L148.2 219.1L149.1 219.1L150.0 219.1L150.9 219.1L151.8 219.1L152.7 219.0L153.6 219.0L154.5 219.0L155.4 219.0L156.3 219.0L157.2 219.0L158.1 219.0L159.0 219.0L159.9 219.0L160.8 219.0L161.7 218.9L162.6 218.9L163.5 218.9L164.4 218.9L165.3 218.9L166.2 218.9L167.1 218.8L168.0 218.7L168.9 218.6L169.8 218.5L170.7 218.4L171.6 218.3L172.5 218.2L173.4 218.0L174.3 217.8L175.2 217.6L176.1 217.3L177.0 217.1L177.9 216.8L178.7 216.4L179.6 216.0L180.4 215.6L181.2 215.2L182.0 214.8L182.8 214.3L183.6 213.8L184.4 213.3L185.2 212.8L185.9 212.2L186.6 211.7L187.3 211.0L188.0 210.4L188.6 209.7L189.2 209.0L189.8 208.3L190.4 207.5L191.0 206.8L191.5 206.0L192.1 205.2L192.6 204.4L193.2 203.6L193.7 202.8L194.2 202.0L194.7 201.3L195.2 200.5L195.7 199.6L196.2 198.9L196.6 198.1L197.1 197.2L197.5 196.4L198.0 195.5L198.4 194.6L198.8 193.8L199.2 192.9L199.6 192.0L200.0 191.2L200.4 190.3L200.8 189.4L201.2 188.5L201.6 187.6L202.0 186.8L202.4 185.9L202.8 185.0L203.2 184.1L203.6 183.1L204.0 182.3L204.3 181.4L204.7 180.5L205.0 179.6L205.4 178.6L205.7 177.6L206.0 176.8L206.3 175.9L206.6 175.1L206.9 174.2L207.2 173.3L207.5 172.5L207.8 171.6L208.1 170.7L208.4 169.8L208.7 168.9L209.0 168.0L209.3 167.1L209.6 166.2L209.9 165.3L210.2 164.3L210.5 163.4L210.8 162.4L211.1 161.4L211.4 160.4L211.7 159.4L212.0 158.4L212.3 157.4L212.6 156.4L212.9 155.4L213.2 154.4L213.5 153.4L213.8 152.4L214.1 151.4L214.4 150.5L214.7 149.5L215.0 148.5L215.3 147.5L215.6 146.6L215.9 145.6L216.2 144.7L216.5 143.7L216.8 142.8L217.1 141.9L217.4 140.9L217.7 140.0L218.0 139.0L218.3 138.1L218.6 137.1L218.9 136.2L219.2 135.3L219.5 134.3L219.8 133.4L220.1 132.4L220.4 131.4L220.7 130.5L221.0 129.5L221.3 128.5L221.6 127.6L221.9 126.6L222.2 125.6L222.5 124.6L222.8 123.6L223.1 122.6L223.4 121.6L223.7 120.7L224.0 119.7L224.3 118.7L224.6 117.7L224.9 116.8L225.2 115.8L225.5 114.9L225.8 113.9L226.1 113.0L226.4 112.0L226.7 111.1L227.0 110.2L227.3 109.3L227.6 108.3L227.9 107.4L228.2 106.5L228.5 105.6L228.8 104.7L229.1 103.9L229.4 103.0L229.7 102.1L230.1 101.2L230.4 100.2L230.8 99.3L231.1 98.3L231.5 97.4L231.8 96.5L232.2 95.6L232.5 94.7L232.9 93.9L233.2 93.0L233.6 92.2L234.0 91.2L234.4 90.3L234.8 89.4L235.2 88.5L235.6 87.6L236.0 86.7L236.4 85.9L236.8 85.0L237.2 84.2L237.6 83.3L238.1 82.4L238.5 81.6L239.0 80.8L239.5 80.0L240.1 79.2L240.6 78.4L241.2 77.7L241.8 77.0L242.4 76.3L243.0 75.6L243.6 74.9L244.3 74.2L244.9 73.5L245.6 72.9L246.3 72.2L247.0 71.6L247.7 70.9L248.4 70.3L249.1 69.7L249.8 69.1L250.5 68.5L251.2 67.9L251.9 67.3L252.6 66.7L253.3 66.1L254.0 65.5L254.7 64.9L255.4 64.3L256.2 63.8L257.0 63.4L257.8 62.9L258.6 62.4L259.4 62.0L260.2 61.6L261.1 61.4L262.0 61.4L262.9 61.6L263.8 61.9L264.7 62.2L265.4 62.8L266.0 63.5L266.5 64.2L267.1 64.9L267.6 65.7L268.1 66.5L268.6 67.3L269.1 68.1L269.6 69.0L270.1 69.8L270.6 70.6L271.2 71.4L271.7 72.2L272.3 73.0L272.8 73.7L273.3 74.5L273.7 75.3L274.2 76.2L274.6 77.1L274.9 77.9L275.3 78.8L275.6 79.7L276.0 80.7L276.3 81.6L276.7 82.5L277.0 83.5L277.4 84.5L277.7 85.4L278.0 86.3L278.3 87.2L278.6 88.1L278.9 89.0L279.2 89.9L279.5 90.8L279.8 91.8L280.1 92.7L280.4 93.7L280.7 94.7L281.0 95.7L281.3 96.7L281.6 97.7L281.9 98.6L282.1 99.5L282.4 100.4L282.6 101.3L282.9 102.3L283.1 103.3L283.4 104.3L283.6 105.3L283.9 106.4L284.1 107.2L284.3 108.2L284.5 109.1L284.7 110.1L284.9 111.1L285.1 112.1L285.3 113.1L285.5 114.2L285.7 115.2L285.9 116.2L286.1 117.2L286.3 118.2L286.5 119.2L286.7 120.2L286.9 121.1L287.1 122.0L287.3 122.9L287.5 123.9L287.7 124.8L287.9 125.7L288.1 126.6L288.3 127.5L288.5 128.5L288.7 129.4L288.9 130.4L289.1 131.4L289.3 132.5L289.5 133.5L289.7 134.6L289.9 135.7L290.1 136.9L290.3 138.1L290.4 138.9L290.6 139.8L290.7 140.8L290.9 141.7L291.0 142.6L291.2 143.6L291.3 144.5L291.5 145.5L291.6 146.5L291.8 147.5L291.9 148.5L292.1 149.6L292.2 150.6L292.4 151.8L292.5 152.9L292.7 154.0L292.8 155.1L293.0 156.2L293.1 157.3L293.3 158.4L293.4 159.5L293.6 160.5L293.7 161.5L293.9 162.5L294.0 163.4L294.2 164.4L294.3 165.4L294.5 166.3L294.6 167.2L294.8 168.1L294.9 169.1L295.1 170.0L295.2 170.9L295.4 171.8L295.5 172.7L295.7 173.6L295.8 174.5L296.0 175.4L296.1 176.3L296.3 177.2L296.5 178.4L296.7 179.5L296.9 180.7L297.1 181.9L297.3 183.1L297.5 184.2L297.7 185.4L297.9 186.6L298.1 187.8L298.3 188.9L298.5 190.1L298.7 191.3L298.9 192.5L299.1 193.7L299.3 194.8L299.5 196.0L299.7 197.2L299.8 198.1L300.0 199.0L300.1 199.9L300.3 200.9L300.4 201.8L300.6 202.7L300.7 203.6L300.9 204.8L301.1 205.9L301.3 207.0L301.5 208.0L301.7 209.0L301.9 210.0L302.1 210.9L302.4 212.0L302.6 212.9L303.0 213.8L303.3 214.7L303.7 215.5L304.2 216.4L304.7 217.1L305.5 217.7L306.3 218.1L307.2 218.4L308.1 218.6L309.0 218.8L309.9 218.9L310.8 219.0L311.7 219.1L312.6 219.1L313.5 219.2L314.4 219.2L315.3 219.2L316.2 219.3L317.1 219.3L318.0 219.3L318.9 219.3L319.8 219.4L320.7 219.4L321.6 219.4L322.5 219.4L323.3 219.4" fill="none" stroke="#000" stroke-width="1.95" stroke-linejoin="round"/>
<path d="M475.0 219.4L475.9 219.4L476.8 219.4L477.7 219.4L478.6 219.4L479.5 219.4L480.4 219.4L481.3 219.4L482.2 219.4L483.1 219.4L484.0 219.3L484.9 219.3L485.8 219.3L486.7 219.3L487.6 219.3L488.5 219.3L489.4 219.3L490.3 219.3L491.2 219.2L492.1 219.2L493.0 219.2L493.9 219.2L494.8 219.2L495.7 219.1L496.6 219.1L497.5 219.1L498.4 219.1L499.3 219.1L500.2 219.0L501.1 219.0L502.0 219.0L502.9 219.0L503.8 218.9L504.7 218.9L505.6 218.9L506.5 218.8L507.4 218.8L508.3 218.8L509.2 218.7L510.1 218.7L511.0 218.6L511.9 218.5L512.8 218.5L513.7 218.4L514.6 218.3L515.5 218.2L516.4 218.2L517.3 218.1L518.2 218.0L519.1 217.9L520.0 217.8L520.9 217.7L521.8 217.5L522.7 217.4L523.6 217.3L524.5 217.1L525.4 216.9L526.3 216.7L527.2 216.5L528.1 216.3L529.0 216.0L529.9 215.7L530.8 215.4L531.6 215.1L532.5 214.7L533.3 214.3L534.2 213.9L535.0 213.5L535.9 213.1L536.7 212.7L537.6 212.2L538.4 211.8L539.2 211.4L540.0 211.0L540.8 210.5L541.6 210.1L542.4 209.6L543.2 209.2L544.0 208.7L544.8 208.2L545.6 207.7L546.4 207.2L547.2 206.7L548.0 206.2L548.8 205.7L549.6 205.2L550.4 204.7L551.2 204.2L552.0 203.7L552.8 203.2L553.6 202.7L554.4 202.2L555.2 201.8L556.1 201.3L556.9 200.9L557.8 200.6L558.7 200.4L559.6 200.2L560.5 200.1L561.4 200.0L562.3 199.9L563.2 199.8L564.1 199.7L565.0 199.6L565.9 199.4L566.8 199.3L567.7 199.1L568.6 198.9L569.5 198.7L570.4 198.5L571.3 198.2L572.2 197.9L573.0 197.6L573.9 197.2L574.7 196.8L575.4 196.2L576.1 195.6L576.8 195.0L577.5 194.3L578.1 193.6L578.7 192.9L579.3 192.1L579.8 191.4L580.4 190.7L580.9 189.9L581.4 189.1L581.9 188.3L582.3 187.4L582.7 186.6L583.1 185.7L583.5 184.8L583.9 183.8L584.3 183.0L584.6 182.1L585.0 181.3L585.3 180.4L585.7 179.6L586.0 178.7L586.4 177.8L586.8 177.0L587.1 176.1L587.5 175.2L587.8 174.4L588.2 173.5L588.5 172.6L588.9 171.7L589.2 170.7L589.6 169.7L589.9 168.9L590.2 168.0L590.5 167.1L590.8 166.1L591.1 165.2L591.4 164.2L591.7 163.2L592.0 162.3L592.3 161.3L592.6 160.4L592.9 159.5L593.2 158.6L593.5 157.7L593.8 156.8L594.1 155.9L594.5 154.9L594.8 153.9L595.2 153.0L595.5 152.0L595.8 151.1L596.1 150.2L596.4 149.3L596.7 148.4L597.0 147.4L597.3 146.4L597.6 145.5L597.8 144.6L598.1 143.7L598.3 142.8L598.6 141.9L598.8 140.9L599.1 140.0L599.3 139.0L599.6 138.1L599.8 137.1L600.1 136.2L600.3 135.2L600.6 134.3L600.8 133.4L601.1 132.4L601.3 131.5L601.6 130.6L601.8 129.8L602.1 128.7L602.4 127.7L602.7 126.8L603.0 125.9L603.3 125.0L603.6 124.0L603.9 123.1L604.2 122.3L604.5 121.4L604.8 120.5L605.1 119.6L605.4 118.8L605.8 117.8L606.1 116.9L606.5 115.9L606.8 115.0L607.2 114.1L607.5 113.2L607.9 112.4L608.3 111.4L608.7 110.5L609.1 109.7L609.5 108.8L609.9 107.9L610.3 107.0L610.7 106.2L611.1 105.4L611.5 104.5L611.9 103.7L612.4 102.8L612.8 102.0L613.3 101.1L613.8 100.4L614.4 99.6L615.0 98.9L615.6 98.1L616.3 97.4L616.9 96.7L617.6 96.0L618.3 95.4L619.0 94.8L619.8 94.3L620.7 94.0L621.6 94.0L622.5 94.0L623.4 94.0L624.3 94.0L625.2 94.0L626.1 94.0L627.0 94.1L627.9 94.4L628.7 95.0L629.4 95.5L630.1 96.1L630.8 96.7L631.5 97.3L632.3 97.9L633.0 98.4L633.8 99.0L634.5 99.5L635.3 100.0L636.0 100.5L636.8 101.0L637.6 101.4L638.5 101.8L639.3 102.2L640.2 102.5L641.0 102.9L641.9 103.2L642.7 103.6L643.6 104.0L644.4 104.3L645.3 104.7L646.1 105.0L647.0 105.4L647.8 105.9L648.5 106.4L649.2 107.1L649.8 107.8L650.4 108.5L651.0 109.3L651.5 110.1L652.0 110.9L652.5 111.6L653.0 112.4L653.5 113.2L654.0 113.9L654.5 114.7L655.0 115.6L655.5 116.4L655.9 117.2L656.4 118.0L656.8 118.8L657.3 119.7L657.7 120.5L658.2 121.4L658.6 122.3L659.0 123.1L659.4 123.9L659.8 124.8L660.2 125.6L660.6 126.5L661.0 127.4L661.4 128.4L661.8 129.2L662.1 130.1L662.5 130.9L662.8 131.8L663.2 132.7L663.5 133.7L663.9 134.6L664.2 135.5L664.5 136.4L664.8 137.3L665.1 138.2L665.4 139.2L665.7 140.2L665.9 141.1L666.2 142.0L666.4 143.0L666.7 144.0L666.9 145.1L667.1 146.0L667.3 146.9L667.5 147.9L667.7 148.8L667.9 149.8L668.1 150.8L668.3 151.9L668.5 152.9L668.7 154.0L668.9 155.0L669.1 156.2L669.3 157.3L669.5 158.5L669.7 159.4L669.8 160.3L670.0 161.2L670.1 162.1L670.3 163.0L670.4 163.9L670.6 164.8L670.7 165.7L670.9 166.6L671.0 167.5L671.2 168.4L671.3 169.4L671.5 170.3L671.6 171.2L671.8 172.1L671.9 173.1L672.1 174.0L672.2 174.9L672.4 175.8L672.5 176.7L672.7 177.7L672.8 178.6L673.0 179.5L673.1 180.4L673.3 181.4L673.4 182.3L673.6 183.2L673.7 184.1L673.9 185.0L674.0 185.9L674.2 186.8L674.3 187.7L674.5 188.6L674.6 189.5L674.8 190.4L674.9 191.3L675.1 192.5L675.3 193.6L675.5 194.8L675.7 195.8L675.9 196.9L676.1 197.9L676.3 199.0L676.5 200.1L676.7 201.1L676.9 202.1L677.1 203.1L677.3 204.1L677.5 205.0L677.8 206.1L678.0 207.0L678.3 208.0L678.7 209.0L679.0 209.9L679.4 210.8L679.8 211.7L680.2 212.5L680.6 213.4L681.1 214.2L681.7 214.9L682.3 215.6L683.0 216.2L683.7 216.8L684.5 217.4L685.3 217.8L686.1 218.2L687.0 218.4L687.9 218.5L688.8 218.6L689.7 218.7L690.6 218.8L691.5 218.8L692.4 218.9L693.3 218.9L694.2 219.0L695.1 219.0L696.0 219.0L696.9 219.0L697.8 219.1L698.7 219.1L699.6 219.1L700.4 219.1" fill="none" stroke="#555" stroke-width="1" stroke-linejoin="round"/>
<path d="M475.0 219.4L475.9 219.4L476.8 219.4L477.7 219.4L478.6 219.4L479.5 219.4L480.4 219.4L481.3 219.4L482.2 219.4L483.1 219.3L484.0 219.3L484.9 219.3L485.8 219.3L486.7 219.3L487.6 219.3L488.5 219.2L489.4 219.2L490.3 219.2L491.2 219.2L492.1 219.1L493.0 219.1L493.9 219.1L494.8 219.0L495.7 219.0L496.6 219.0L497.5 218.9L498.4 218.9L499.3 218.9L500.2 218.8L501.1 218.8L502.0 218.7L502.9 218.7L503.8 218.7L504.7 218.6L505.6 218.6L506.5 218.5L507.4 218.4L508.3 218.3L509.2 218.2L510.1 218.0L511.0 217.9L511.9 217.7L512.8 217.5L513.7 217.4L514.6 217.2L515.5 217.0L516.4 216.8L517.3 216.6L518.2 216.5L519.1 216.3L520.0 216.1L520.9 215.9L521.8 215.8L522.7 215.6L523.6 215.4L524.5 215.1L525.4 214.9L526.3 214.6L527.2 214.3L528.1 213.9L528.9 213.5L529.7 213.1L530.5 212.6L531.3 212.1L532.1 211.5L532.8 211.0L533.6 210.4L534.3 209.8L535.0 209.3L535.7 208.7L536.4 208.0L537.1 207.4L537.8 206.8L538.5 206.2L539.2 205.5L539.9 204.9L540.6 204.3L541.3 203.6L541.9 202.9L542.6 202.3L543.2 201.5L543.8 200.9L544.4 200.2L545.0 199.5L545.6 198.8L546.2 198.1L546.8 197.4L547.4 196.7L548.1 196.0L548.7 195.3L549.4 194.7L550.0 194.0L550.7 193.4L551.3 192.7L552.0 192.1L552.6 191.4L553.3 190.8L554.0 190.1L554.7 189.5L555.4 188.9L556.1 188.4L556.9 187.8L557.7 187.4L558.5 186.9L559.3 186.4L560.1 186.0L560.9 185.5L561.8 185.2L562.6 184.8L563.5 184.6L564.4 184.4L565.3 184.3L566.2 184.3L567.1 184.2L568.0 184.2L568.9 184.2L569.8 184.1L570.7 184.1L571.6 184.1L572.5 184.0L573.4 183.9L574.3 183.7L575.1 183.3L575.9 182.7L576.6 182.0L577.2 181.3L577.8 180.6L578.4 179.8L579.0 179.1L579.5 178.4L580.1 177.7L580.6 176.9L581.2 176.2L581.7 175.4L582.2 174.6L582.7 173.8L583.1 172.9L583.6 172.1L584.0 171.2L584.5 170.3L584.9 169.5L585.3 168.7L585.7 167.8L586.1 167.0L586.5 166.2L586.9 165.3L587.3 164.4L587.7 163.5L588.1 162.6L588.5 161.7L588.8 160.8L589.2 160.0L589.5 159.1L589.9 158.1L590.2 157.2L590.6 156.2L590.9 155.3L591.2 154.4L591.5 153.5L591.8 152.6L592.1 151.7L592.4 150.7L592.7 149.7L593.0 148.8L593.3 147.8L593.6 146.8L593.9 145.8L594.2 144.8L594.5 143.8L594.7 142.9L595.0 142.0L595.2 141.2L595.5 140.3L595.7 139.4L596.0 138.5L596.2 137.6L596.5 136.7L596.7 135.8L597.0 134.9L597.2 134.0L597.5 133.0L597.8 132.0L598.1 130.9L598.4 129.9L598.7 128.9L599.0 127.8L599.3 126.8L599.6 125.8L599.9 124.8L600.2 123.8L600.5 122.8L600.8 121.8L601.1 120.8L601.4 119.9L601.7 118.9L602.0 118.0L602.3 117.1L602.6 116.2L602.9 115.3L603.2 114.3L603.5 113.4L603.8 112.5L604.1 111.7L604.4 110.8L604.7 109.9L605.1 108.9L605.4 108.0L605.8 107.0L606.1 106.1L606.5 105.3L606.9 104.3L607.3 103.4L607.7 102.6L608.1 101.7L608.5 100.9L608.9 100.0L609.4 99.1L609.8 98.3L610.3 97.4L610.7 96.7L611.2 95.8L611.7 95.0L612.2 94.2L612.7 93.4L613.3 92.6L613.8 91.9L614.4 91.1L614.9 90.4L615.5 89.6L616.1 88.9L616.7 88.2L617.3 87.5L618.0 86.9L618.8 86.3L619.5 85.8L620.3 85.2L621.0 84.7L621.8 84.2L622.7 83.8L623.5 83.5L624.4 83.3L625.3 83.3L626.2 83.4L627.1 83.6L628.0 83.9L628.9 84.1L629.8 84.4L630.7 84.8L631.5 85.3L632.2 85.8L632.9 86.4L633.6 87.1L634.3 87.7L634.9 88.4L635.6 89.0L636.2 89.7L636.9 90.4L637.5 91.1L638.1 91.8L638.7 92.6L639.3 93.3L639.8 94.1L640.4 94.8L640.9 95.5L641.5 96.3L642.0 97.0L642.6 97.7L643.1 98.5L643.7 99.3L644.2 100.1L644.8 100.9L645.3 101.7L645.9 102.4L646.4 103.2L647.0 104.0L647.5 104.8L648.1 105.6L648.6 106.3L649.2 107.1L649.8 107.8L650.4 108.6L651.0 109.4L651.5 110.1L652.1 110.8L652.6 111.6L653.2 112.4L653.7 113.2L654.2 114.0L654.6 114.8L655.1 115.6L655.5 116.4L656.0 117.3L656.4 118.1L656.9 118.9L657.3 119.7L657.8 120.6L658.3 121.4L658.8 122.2L659.3 123.1L659.8 123.9L660.3 124.7L660.8 125.5L661.2 126.3L661.7 127.2L662.1 128.0L662.5 128.8L662.9 129.7L663.3 130.6L663.7 131.5L664.1 132.4L664.4 133.3L664.8 134.2L665.1 135.1L665.4 136.0L665.7 136.9L666.0 137.8L666.3 138.8L666.6 139.8L666.8 140.7L667.1 141.6L667.3 142.6L667.6 143.6L667.8 144.6L668.0 145.5L668.2 146.4L668.4 147.4L668.6 148.3L668.8 149.3L669.0 150.3L669.2 151.4L669.4 152.4L669.6 153.4L669.8 154.5L670.0 155.6L670.2 156.8L670.4 157.9L670.6 159.1L670.8 160.0L670.9 160.9L671.1 161.8L671.2 162.7L671.4 163.6L671.5 164.5L671.7 165.4L671.8 166.3L672.0 167.2L672.1 168.1L672.3 169.1L672.4 170.0L672.6 170.9L672.7 171.8L672.9 172.8L673.0 173.7L673.2 174.6L673.3 175.5L673.5 176.4L673.6 177.4L673.8 178.3L673.9 179.2L674.1 180.1L674.2 181.1L674.4 182.0L674.5 182.9L674.7 183.8L674.8 184.7L675.0 185.6L675.1 186.5L675.3 187.4L675.4 188.3L675.6 189.2L675.7 190.1L675.9 191.0L676.1 192.2L676.3 193.3L676.5 194.5L676.7 195.6L676.9 196.6L677.1 197.7L677.3 198.7L677.5 199.8L677.7 200.8L677.9 201.9L678.1 202.9L678.3 203.9L678.5 204.8L678.7 205.9L679.0 206.9L679.3 207.9L679.6 208.8L680.0 209.8L680.3 210.6L680.7 211.6L681.1 212.4L681.6 213.3L682.1 214.1L682.6 214.9L683.3 215.5L684.0 216.2L684.7 216.8L685.4 217.3L686.2 217.8L687.1 218.2L688.0 218.4L688.9 218.5L689.8 218.6L690.7 218.7L691.6 218.8L692.5 218.8L693.4 218.9L694.3 218.9L695.2 219.0L696.1 219.0L697.0 219.0L697.9 219.0L698.8 219.1L699.7 219.1L700.6 219.1L701.4 219.1" fill="none" stroke="#555" stroke-width="1.1" stroke-dasharray="6 4" stroke-linejoin="round"/>
<path d="M475.0 219.4L475.9 219.4L476.8 219.4L477.7 219.4L478.6 219.4L479.5 219.4L480.4 219.4L481.3 219.3L482.2 219.3L483.1 219.3L484.0 219.3L484.9 219.3L485.8 219.3L486.7 219.2L487.6 219.2L488.5 219.2L489.4 219.1L490.3 219.1L491.2 219.1L492.1 219.0L493.0 219.0L493.9 219.0L494.8 218.9L495.7 218.9L496.6 218.9L497.5 218.8L498.4 218.8L499.3 218.7L500.2 218.7L501.1 218.6L502.0 218.6L502.9 218.5L503.8 218.5L504.7 218.4L505.6 218.4L506.5 218.3L507.4 218.2L508.3 218.1L509.2 218.0L510.1 217.8L511.0 217.7L511.9 217.5L512.8 217.4L513.7 217.2L514.6 217.1L515.5 216.9L516.4 216.7L517.3 216.6L518.2 216.4L519.1 216.2L520.0 216.0L520.9 215.7L521.8 215.5L522.7 215.2L523.6 214.9L524.4 214.6L525.3 214.2L526.1 213.8L527.0 213.4L527.8 213.0L528.6 212.5L529.4 212.0L530.2 211.5L531.0 211.0L531.7 210.5L532.5 209.9L533.2 209.4L534.0 208.8L534.7 208.2L535.4 207.6L536.1 207.0L536.8 206.4L537.5 205.7L538.1 205.0L538.7 204.2L539.3 203.5L539.8 202.7L540.4 202.0L540.9 201.2L541.5 200.4L542.0 199.6L542.6 198.8L543.1 198.0L543.7 197.2L544.2 196.4L544.8 195.7L545.3 194.9L545.9 194.1L546.4 193.3L547.0 192.5L547.5 191.7L548.0 191.0L548.5 190.2L549.0 189.5L549.5 188.7L550.0 187.9L550.6 187.1L551.1 186.3L551.7 185.6L552.2 184.8L552.8 184.1L553.4 183.4L554.1 182.7L554.7 182.1L555.4 181.4L556.0 180.7L556.7 180.0L557.3 179.3L558.0 178.7L558.7 178.1L559.4 177.5L560.1 177.0L560.9 176.5L561.8 176.1L562.7 175.9L563.6 175.8L564.5 175.8L565.4 175.7L566.3 175.7L567.2 175.7L568.1 175.6L569.0 175.6L569.9 175.5L570.8 175.5L571.7 175.4L572.6 175.2L573.5 175.0L574.3 174.6L575.1 174.2L575.9 173.7L576.7 173.2L577.5 172.7L578.2 172.2L579.0 171.6L579.7 170.9L580.3 170.2L581.0 169.5L581.6 168.8L582.2 168.0L582.7 167.3L583.3 166.6L583.8 165.8L584.4 165.0L584.9 164.2L585.4 163.4L585.9 162.6L586.4 161.8L586.8 161.0L587.3 160.2L587.7 159.3L588.1 158.5L588.5 157.6L588.9 156.8L589.3 155.9L589.7 155.0L590.1 154.1L590.4 153.2L590.8 152.3L591.1 151.3L591.4 150.5L591.7 149.6L592.0 148.7L592.3 147.8L592.6 146.8L592.9 145.9L593.2 144.9L593.5 144.0L593.8 143.0L594.1 142.0L594.4 141.0L594.7 140.2L594.9 139.3L595.2 138.4L595.4 137.5L595.7 136.6L595.9 135.7L596.2 134.8L596.4 133.9L596.7 133.0L596.9 132.1L597.2 131.2L597.4 130.3L597.7 129.3L598.0 128.4L598.2 127.6L598.5 126.7L598.7 125.8L599.0 124.9L599.2 124.1L599.5 123.2L599.7 122.3L600.0 121.3L600.3 120.3L600.6 119.3L600.9 118.3L601.2 117.4L601.5 116.4L601.8 115.6L602.2 114.6L602.5 113.6L602.9 112.7L603.2 111.8L603.6 110.9L603.9 110.1L604.3 109.2L604.7 108.3L605.1 107.4L605.5 106.6L605.9 105.7L606.3 104.9L606.7 104.0L607.2 103.1L607.6 102.2L608.1 101.3L608.5 100.5L609.0 99.7L609.4 98.9L609.9 98.0L610.4 97.2L610.9 96.5L611.5 95.7L612.1 94.9L612.7 94.2L613.3 93.5L613.9 92.8L614.6 92.2L615.2 91.5L615.9 90.9L616.7 90.3L617.4 89.8L618.2 89.4L619.1 89.0L619.9 88.6L620.8 88.2L621.6 87.8L622.5 87.5L623.4 87.3L624.3 87.1L625.2 87.0L626.1 87.0L627.0 87.1L627.9 87.3L628.8 87.5L629.7 87.7L630.6 88.0L631.5 88.3L632.3 88.6L633.2 89.0L634.0 89.5L634.7 90.1L635.4 90.7L636.1 91.3L636.8 91.9L637.5 92.5L638.2 93.2L638.9 93.8L639.5 94.5L640.1 95.2L640.7 96.0L641.3 96.7L641.9 97.5L642.5 98.2L643.1 99.0L643.7 99.8L644.3 100.5L644.9 101.3L645.4 102.0L646.0 102.7L646.5 103.5L647.1 104.2L647.6 105.0L648.2 105.7L648.7 106.5L649.3 107.2L649.9 107.9L650.5 108.7L651.0 109.4L651.6 110.2L652.1 110.9L652.7 111.7L653.2 112.5L653.7 113.3L654.2 114.1L654.7 115.0L655.2 115.8L655.6 116.6L656.1 117.4L656.5 118.3L657.0 119.1L657.4 119.9L657.9 120.7L658.3 121.6L658.8 122.4L659.2 123.2L659.7 124.0L660.1 124.9L660.6 125.7L661.0 126.6L661.4 127.4L661.8 128.3L662.2 129.2L662.6 130.1L663.0 130.9L663.3 131.8L663.7 132.7L664.0 133.6L664.4 134.6L664.7 135.4L665.0 136.3L665.3 137.2L665.6 138.2L665.9 139.2L666.2 140.2L666.4 141.1L666.7 142.0L666.9 143.0L667.2 144.0L667.4 145.1L667.6 146.0L667.8 146.9L668.0 147.9L668.2 148.8L668.4 149.8L668.6 150.8L668.8 151.9L669.0 152.9L669.2 154.0L669.4 155.0L669.6 156.2L669.8 157.3L670.0 158.5L670.2 159.4L670.3 160.3L670.5 161.2L670.6 162.1L670.8 163.0L670.9 163.9L671.1 164.8L671.2 165.7L671.4 166.6L671.5 167.5L671.7 168.4L671.8 169.4L672.0 170.3L672.1 171.2L672.3 172.1L672.4 173.1L672.6 174.0L672.7 174.9L672.9 175.8L673.0 176.7L673.2 177.7L673.3 178.6L673.5 179.5L673.6 180.4L673.8 181.4L673.9 182.3L674.1 183.2L674.2 184.1L674.4 185.0L674.5 185.9L674.7 186.8L674.8 187.7L675.0 188.6L675.1 189.5L675.3 190.4L675.4 191.3L675.6 192.5L675.8 193.6L676.0 194.8L676.2 195.8L676.4 196.9L676.6 197.9L676.8 199.0L677.0 200.1L677.2 201.1L677.4 202.1L677.6 203.1L677.8 204.1L678.0 205.0L678.3 206.1L678.5 207.0L678.8 208.0L679.2 209.0L679.5 209.9L679.9 210.8L680.3 211.7L680.7 212.5L681.1 213.4L681.6 214.2L682.2 214.9L682.8 215.6L683.5 216.2L684.2 216.8L685.0 217.4L685.8 217.8L686.6 218.2L687.5 218.4L688.4 218.5L689.3 218.6L690.2 218.7L691.1 218.8L692.0 218.8L692.9 218.9L693.8 218.9L694.7 219.0L695.6 219.0L696.5 219.0L697.4 219.0L698.3 219.1L699.2 219.1L700.1 219.1L700.9 219.1" fill="none" stroke="#888" stroke-width="1.05" stroke-dasharray="1.1 1.5" stroke-linejoin="round"/>
<path d="M470.0 219.4L470.9 219.4L471.8 219.4L472.7 219.4L473.6 219.4L474.5 219.4L475.4 219.4L476.3 219.3L477.2 219.3L478.1 219.3L479.0 219.3L479.9 219.3L480.8 219.2L481.7 219.2L482.6 219.2L483.5 219.2L484.4 219.1L485.3 219.1L486.2 219.1L487.1 219.0L488.0 219.0L488.9 218.9L489.8 218.9L490.7 218.9L491.6 218.8L492.5 218.8L493.4 218.7L494.3 218.7L495.2 218.6L496.1 218.6L497.0 218.5L497.9 218.4L498.8 218.4L499.7 218.3L500.6 218.3L501.5 218.2L502.4 218.1L503.3 217.9L504.2 217.8L505.1 217.6L506.0 217.5L506.9 217.3L507.8 217.1L508.7 216.9L509.6 216.6L510.5 216.4L511.4 216.2L512.3 215.9L513.2 215.6L514.1 215.3L514.9 215.0L515.8 214.7L516.6 214.3L517.5 213.9L518.3 213.5L519.2 213.0L520.0 212.6L520.8 212.2L521.6 211.7L522.4 211.3L523.2 210.9L524.0 210.4L524.8 209.9L525.6 209.4L526.4 208.9L527.1 208.4L527.9 207.8L528.6 207.3L529.3 206.7L530.0 206.1L530.7 205.5L531.4 204.8L532.0 204.2L532.6 203.5L533.2 202.7L533.8 201.9L534.3 201.1L534.8 200.3L535.3 199.5L535.8 198.7L536.3 197.8L536.8 197.1L537.2 196.3L537.7 195.4L538.1 194.6L538.6 193.8L539.0 192.9L539.5 192.1L539.9 191.2L540.4 190.4L540.8 189.5L541.2 188.7L541.6 187.9L542.0 187.0L542.4 186.1L542.8 185.2L543.2 184.3L543.6 183.3L544.0 182.5L544.3 181.7L544.7 180.8L545.0 180.0L545.4 179.1L545.7 178.3L546.1 177.5L546.5 176.5L546.9 175.6L547.3 174.7L547.7 173.8L548.1 173.0L548.5 172.1L548.9 171.2L549.4 170.4L549.8 169.6L550.3 168.7L550.7 167.9L551.2 167.0L551.6 166.2L552.1 165.4L552.5 164.6L553.0 163.7L553.5 163.0L554.1 162.2L554.7 161.5L555.3 160.8L556.1 160.3L556.8 159.8L557.6 159.3L558.4 158.8L559.3 158.4L560.1 158.0L561.0 157.7L561.9 157.6L562.8 157.5L563.7 157.5L564.6 157.5L565.5 157.6L566.4 157.6L567.3 157.7L568.2 157.8L569.1 157.8L570.0 157.9L570.9 157.9L571.8 157.9L572.7 157.8L573.6 157.5L574.5 157.2L575.3 156.8L576.1 156.3L576.9 155.7L577.6 155.2L578.4 154.7L579.1 154.2L579.9 153.6L580.6 152.9L581.2 152.3L581.9 151.6L582.5 150.8L583.1 150.1L583.7 149.3L584.2 148.6L584.8 147.8L585.3 147.1L585.8 146.3L586.3 145.5L586.8 144.6L587.3 143.8L587.7 143.0L588.2 142.1L588.6 141.3L589.0 140.4L589.4 139.6L589.8 138.7L590.1 137.8L590.5 136.9L590.8 136.0L591.2 135.0L591.5 134.1L591.8 133.2L592.1 132.3L592.4 131.4L592.7 130.5L593.0 129.6L593.3 128.7L593.6 127.8L593.9 126.9L594.2 126.1L594.5 125.2L594.8 124.4L595.1 123.5L595.4 122.7L595.7 121.8L596.0 121.0L596.3 120.1L596.6 119.3L596.9 118.4L597.2 117.5L597.5 116.6L597.8 115.7L598.1 114.8L598.4 113.9L598.7 113.0L599.0 112.1L599.3 111.2L599.6 110.3L599.9 109.3L600.2 108.4L600.5 107.4L600.8 106.5L601.1 105.5L601.4 104.5L601.7 103.5L601.9 102.6L602.2 101.6L602.4 100.7L602.7 99.7L602.9 98.7L603.2 97.8L603.4 96.9L603.7 95.9L604.0 95.0L604.4 94.1L604.7 93.1L605.1 92.2L605.4 91.4L605.8 90.5L606.3 89.6L606.8 88.8L607.4 88.1L608.0 87.4L608.7 86.8L609.5 86.2L610.2 85.7L611.0 85.3L611.9 84.9L612.7 84.5L613.6 84.1L614.4 83.8L615.3 83.5L616.1 83.2L617.0 82.9L617.9 82.6L618.8 82.4L619.7 82.3L620.6 82.2L621.5 82.2L622.4 82.3L623.3 82.4L624.2 82.6L625.1 82.9L626.0 83.2L626.9 83.5L627.8 83.8L628.6 84.2L629.4 84.8L630.1 85.3L630.9 85.9L631.6 86.5L632.4 87.0L633.1 87.6L633.9 88.1L634.6 88.6L635.4 89.1L636.1 89.6L636.9 90.2L637.6 90.9L638.2 91.5L638.8 92.2L639.4 93.0L640.0 93.7L640.5 94.5L641.1 95.3L641.6 96.1L642.2 96.9L642.7 97.7L643.3 98.5L643.8 99.3L644.4 100.1L644.9 100.9L645.4 101.7L645.9 102.4L646.4 103.2L647.0 104.0L647.5 104.8L648.1 105.6L648.6 106.4L649.2 107.1L649.7 107.8L650.3 108.6L650.9 109.3L651.5 110.1L652.0 110.8L652.6 111.5L653.1 112.3L653.6 113.1L654.1 113.9L654.6 114.7L655.1 115.6L655.6 116.4L656.0 117.2L656.5 118.1L656.9 119.0L657.3 119.8L657.7 120.7L658.1 121.5L658.5 122.4L658.9 123.3L659.3 124.3L659.7 125.1L660.0 125.9L660.4 126.8L660.7 127.7L661.1 128.6L661.4 129.5L661.8 130.4L662.1 131.3L662.5 132.3L662.8 133.2L663.2 134.1L663.5 135.1L663.8 136.0L664.1 136.8L664.4 137.8L664.7 138.7L665.0 139.7L665.3 140.7L665.6 141.6L665.8 142.6L666.1 143.6L666.3 144.6L666.5 145.5L666.7 146.4L666.9 147.4L667.1 148.3L667.3 149.3L667.5 150.3L667.7 151.4L667.9 152.4L668.1 153.4L668.3 154.5L668.5 155.6L668.7 156.8L668.9 157.9L669.1 159.1L669.3 160.0L669.4 160.9L669.6 161.8L669.7 162.7L669.9 163.6L670.0 164.5L670.2 165.4L670.3 166.3L670.5 167.2L670.6 168.1L670.8 169.1L670.9 170.0L671.1 170.9L671.2 171.8L671.4 172.8L671.5 173.7L671.7 174.6L671.8 175.5L672.0 176.4L672.1 177.4L672.3 178.3L672.4 179.2L672.6 180.1L672.7 181.1L672.9 182.0L673.0 182.9L673.2 183.8L673.3 184.7L673.5 185.6L673.6 186.5L673.8 187.4L673.9 188.3L674.1 189.2L674.2 190.1L674.4 191.0L674.6 192.2L674.8 193.3L675.0 194.5L675.2 195.6L675.4 196.6L675.6 197.7L675.8 198.7L676.0 199.8L676.2 200.8L676.4 201.9L676.6 202.9L676.8 203.9L677.0 204.8L677.2 205.9L677.5 206.9L677.8 207.9L678.1 208.8L678.5 209.8L678.8 210.6L679.2 211.6L679.6 212.4L680.1 213.3L680.6 214.1L681.1 214.9L681.8 215.5L682.5 216.2L683.2 216.8L683.9 217.3L684.7 217.8L685.6 218.2L686.5 218.4L687.4 218.5L688.3 218.6L689.2 218.7L690.1 218.8L691.0 218.8L691.9 218.9L692.8 218.9L693.7 219.0L694.6 219.0L695.5 219.0L696.4 219.0L697.3 219.1L698.2 219.1L699.1 219.1L699.9 219.1" fill="none" stroke="#555" stroke-width="1" stroke-dasharray="4.5 2 1.6 2.5" stroke-linejoin="round"/>
<path d="M467.5 219.4L468.4 219.4L469.3 219.4L470.2 219.4L471.1 219.4L472.0 219.4L472.9 219.4L473.8 219.4L474.7 219.3L475.6 219.3L476.5 219.3L477.4 219.3L478.3 219.3L479.2 219.2L480.1 219.2L481.0 219.2L481.9 219.2L482.8 219.2L483.7 219.1L484.6 219.1L485.5 219.1L486.4 219.1L487.3 219.0L488.2 219.0L489.1 218.9L490.0 218.9L490.9 218.8L491.8 218.8L492.7 218.7L493.6 218.7L494.5 218.6L495.4 218.5L496.3 218.5L497.2 218.4L498.1 218.3L499.0 218.2L499.9 218.1L500.8 218.0L501.7 217.9L502.6 217.7L503.5 217.5L504.4 217.3L505.3 217.1L506.2 216.9L507.1 216.7L508.0 216.5L508.9 216.2L509.8 216.0L510.7 215.7L511.6 215.5L512.5 215.2L513.4 214.9L514.3 214.6L515.1 214.2L516.0 213.9L516.8 213.6L517.7 213.2L518.5 212.8L519.4 212.4L520.2 212.0L521.0 211.6L521.8 211.1L522.6 210.6L523.4 210.1L524.2 209.6L525.0 209.1L525.7 208.6L526.5 208.0L527.2 207.5L528.0 206.9L528.7 206.3L529.4 205.6L530.1 205.0L530.7 204.3L531.4 203.7L532.0 202.9L532.6 202.2L533.2 201.4L533.8 200.7L534.3 199.9L534.8 199.1L535.3 198.4L535.8 197.6L536.3 196.7L536.8 195.9L537.2 195.0L537.6 194.2L538.0 193.4L538.4 192.5L538.8 191.7L539.2 190.8L539.6 189.9L540.0 189.0L540.4 188.2L540.8 187.3L541.2 186.4L541.6 185.6L542.0 184.7L542.4 183.8L542.8 182.9L543.2 182.0L543.6 181.1L544.0 180.2L544.4 179.3L544.8 178.5L545.2 177.7L545.7 176.8L546.1 175.9L546.6 175.0L547.0 174.1L547.5 173.3L547.9 172.4L548.4 171.5L548.8 170.6L549.2 169.8L549.6 169.0L550.0 168.1L550.4 167.3L550.8 166.5L551.3 165.6L551.7 164.7L552.2 163.9L552.6 163.1L553.1 162.3L553.5 161.5L554.0 160.7L554.5 159.8L555.0 159.0L555.5 158.2L556.1 157.4L556.8 156.8L557.5 156.1L558.2 155.5L558.9 154.9L559.7 154.4L560.6 154.0L561.5 153.8L562.4 153.7L563.3 153.5L564.2 153.4L565.1 153.3L566.0 153.3L566.9 153.3L567.8 153.4L568.7 153.4L569.6 153.5L570.5 153.6L571.4 153.6L572.3 153.6L573.2 153.5L574.1 153.2L575.0 153.0L575.8 152.7L576.7 152.3L577.4 151.8L578.1 151.2L578.8 150.5L579.4 149.8L580.0 149.1L580.6 148.4L581.2 147.7L581.8 146.9L582.3 146.1L582.8 145.3L583.3 144.4L583.8 143.7L584.2 142.9L584.7 142.0L585.1 141.2L585.6 140.3L586.0 139.5L586.4 138.7L586.8 137.8L587.2 136.9L587.6 136.0L588.0 135.1L588.4 134.1L588.8 133.2L589.2 132.2L589.6 131.3L590.0 130.4L590.4 129.5L590.8 128.5L591.2 127.6L591.5 126.7L591.9 125.9L592.2 125.1L592.6 124.2L592.9 123.4L593.3 122.5L593.6 121.7L594.0 120.8L594.3 120.0L594.7 119.1L595.0 118.3L595.4 117.4L595.7 116.6L596.1 115.7L596.4 114.9L596.8 114.0L597.1 113.1L597.5 112.1L597.8 111.2L598.2 110.2L598.5 109.2L598.8 108.4L599.1 107.5L599.4 106.6L599.7 105.7L600.0 104.8L600.3 103.8L600.6 102.9L600.9 102.0L601.1 101.1L601.4 100.2L601.6 99.2L601.9 98.3L602.1 97.3L602.4 96.4L602.7 95.5L603.0 94.5L603.3 93.6L603.6 92.7L603.9 91.8L604.2 90.9L604.6 90.0L605.0 89.1L605.4 88.2L605.9 87.4L606.4 86.6L607.0 85.9L607.6 85.2L608.2 84.5L608.9 83.9L609.7 83.4L610.5 82.9L611.3 82.4L612.1 82.0L613.0 81.6L613.8 81.3L614.7 81.0L615.6 80.7L616.5 80.4L617.4 80.2L618.3 79.9L619.2 79.7L620.1 79.6L621.0 79.4L621.9 79.4L622.8 79.5L623.7 79.7L624.6 80.1L625.4 80.5L626.3 80.9L627.1 81.3L627.9 81.8L628.6 82.4L629.3 82.9L630.0 83.5L630.7 84.2L631.4 84.8L632.1 85.4L632.8 86.1L633.5 86.7L634.2 87.3L634.9 88.0L635.5 88.6L636.2 89.3L636.8 90.0L637.5 90.7L638.1 91.4L638.7 92.1L639.3 92.9L639.8 93.6L640.4 94.4L640.9 95.2L641.5 95.9L642.0 96.7L642.6 97.5L643.1 98.3L643.7 99.1L644.2 99.9L644.8 100.7L645.3 101.4L645.8 102.2L646.3 103.0L646.8 103.8L647.4 104.6L647.9 105.4L648.5 106.1L649.0 106.9L649.6 107.6L650.2 108.4L650.8 109.1L651.4 109.9L651.9 110.6L652.5 111.4L653.0 112.2L653.5 113.0L654.0 113.7L654.5 114.5L655.0 115.4L655.5 116.1L655.9 117.0L656.4 117.8L656.8 118.7L657.2 119.6L657.5 120.4L657.9 121.4L658.2 122.2L658.5 123.1L658.8 124.1L659.1 125.0L659.4 125.9L659.7 126.9L660.0 127.9L660.3 128.8L660.6 129.7L660.9 130.7L661.2 131.5L661.5 132.4L661.8 133.4L662.2 134.3L662.5 135.3L662.9 136.3L663.2 137.1L663.5 138.0L663.8 138.9L664.1 139.9L664.4 140.9L664.6 141.8L664.9 142.8L665.1 143.8L665.4 144.8L665.6 145.7L665.8 146.7L666.0 147.6L666.2 148.6L666.4 149.6L666.6 150.6L666.8 151.6L667.0 152.6L667.2 153.7L667.4 154.8L667.6 155.9L667.8 157.0L668.0 158.2L668.1 159.1L668.3 160.0L668.4 160.9L668.6 161.8L668.7 162.7L668.9 163.6L669.0 164.5L669.2 165.4L669.3 166.3L669.5 167.2L669.6 168.1L669.8 169.1L669.9 170.0L670.1 170.9L670.2 171.8L670.4 172.8L670.5 173.7L670.7 174.6L670.8 175.5L671.0 176.4L671.1 177.4L671.3 178.3L671.4 179.2L671.6 180.1L671.7 181.1L671.9 182.0L672.0 182.9L672.2 183.8L672.3 184.7L672.5 185.6L672.6 186.5L672.8 187.4L672.9 188.3L673.1 189.2L673.2 190.1L673.4 191.0L673.6 192.2L673.8 193.3L674.0 194.5L674.2 195.6L674.4 196.6L674.6 197.7L674.8 198.7L675.0 199.8L675.2 200.8L675.4 201.9L675.6 202.9L675.8 203.9L676.0 204.8L676.2 205.9L676.5 206.9L676.8 207.9L677.1 208.8L677.5 209.8L677.8 210.6L678.2 211.6L678.6 212.4L679.1 213.3L679.6 214.1L680.1 214.9L680.8 215.5L681.5 216.2L682.2 216.8L682.9 217.3L683.7 217.8L684.6 218.2L685.5 218.4L686.4 218.5L687.3 218.6L688.2 218.7L689.1 218.8L690.0 218.8L690.9 218.9L691.8 218.9L692.7 219.0L693.6 219.0L694.5 219.0L695.4 219.0L696.3 219.1L697.2 219.1L698.1 219.1L698.9 219.1" fill="none" stroke="#000" stroke-width="1.95" stroke-linejoin="round"/>
<path d="M875.0 219.4L875.9 219.4L876.8 219.4L877.7 219.4L878.6 219.4L879.5 219.4L880.4 219.4L881.3 219.4L882.2 219.3L883.1 219.3L884.0 219.3L884.9 219.3L885.8 219.3L886.7 219.3L887.6 219.2L888.5 219.2L889.4 219.2L890.3 219.2L891.2 219.1L892.1 219.1L893.0 219.1L893.9 219.0L894.8 219.0L895.7 219.0L896.6 218.9L897.5 218.9L898.4 218.9L899.3 218.8L900.2 218.8L901.1 218.7L902.0 218.6L902.9 218.5L903.8 218.4L904.7 218.2L905.6 218.1L906.5 217.9L907.4 217.7L908.3 217.5L909.2 217.2L910.1 217.0L911.0 216.8L911.9 216.6L912.8 216.3L913.7 216.1L914.6 215.9L915.5 215.6L916.4 215.4L917.3 215.2L918.2 215.0L919.1 214.8L920.0 214.6L920.9 214.4L921.8 214.1L922.7 213.9L923.6 213.7L924.5 213.5L925.4 213.2L926.3 213.0L927.2 212.8L928.1 212.5L929.0 212.3L929.9 212.0L930.8 211.8L931.7 211.5L932.6 211.3L933.5 211.1L934.4 210.9L935.3 210.7L936.2 210.5L937.1 210.4L938.0 210.2L938.9 210.1L939.8 210.0L940.7 209.8L941.6 209.7L942.5 209.6L943.4 209.5L944.3 209.5L945.2 209.4L946.1 209.4L947.0 209.3L947.9 209.3L948.8 209.2L949.7 209.2L950.6 209.2L951.5 209.1L952.4 209.0L953.3 208.9L954.2 208.8L955.1 208.6L956.0 208.3L956.9 208.0L957.7 207.7L958.6 207.4L959.4 207.0L960.3 206.6L961.1 206.1L961.9 205.6L962.6 205.1L963.4 204.5L964.1 203.9L964.8 203.2L965.4 202.5L966.0 201.7L966.5 201.0L967.1 200.1L967.6 199.4L968.1 198.6L968.6 197.8L969.1 197.0L969.7 196.2L970.2 195.4L970.8 194.6L971.3 193.8L971.8 193.0L972.3 192.2L972.7 191.4L973.2 190.6L973.6 189.7L974.0 188.9L974.4 188.0L974.8 187.2L975.2 186.2L975.6 185.4L975.9 184.5L976.3 183.6L976.6 182.7L977.0 181.7L977.3 180.9L977.6 180.0L977.9 179.1L978.2 178.1L978.4 177.2L978.7 176.2L978.9 175.2L979.2 174.1L979.4 173.0L979.7 172.0L979.9 170.9L980.2 169.8L980.4 168.8L980.7 167.8L980.9 166.9L981.2 165.8L981.5 164.9L981.9 164.0L982.2 163.1L982.6 162.2L983.0 161.3L983.4 160.5L983.9 159.6L984.3 158.8L984.8 158.0L985.2 157.2L985.7 156.4L986.1 155.6L986.6 154.8L987.0 153.9L987.5 153.0L987.9 152.1L988.3 151.2L988.6 150.4L989.0 149.5L989.3 148.6L989.7 147.6L990.0 146.7L990.3 145.9L990.6 145.0L990.9 144.1L991.2 143.2L991.5 142.3L991.8 141.4L992.1 140.5L992.4 139.6L992.7 138.7L993.0 137.8L993.3 137.0L993.6 136.0L994.0 135.1L994.3 134.2L994.7 133.4L995.1 132.5L995.5 131.6L995.9 130.8L996.4 129.9L996.9 129.1L997.4 128.3L997.9 127.5L998.5 126.7L999.0 126.0L999.6 125.2L1000.2 124.5L1000.9 123.8L1001.6 123.3L1002.4 122.8L1003.2 122.3L1004.0 121.9L1004.8 121.4L1005.7 121.1L1006.6 120.8L1007.5 120.6L1008.4 120.5L1009.3 120.6L1010.2 120.9L1011.0 121.3L1011.8 121.7L1012.6 122.2L1013.4 122.7L1014.2 123.2L1015.0 123.7L1015.7 124.2L1016.4 124.8L1017.1 125.4L1017.8 126.1L1018.5 126.7L1019.1 127.4L1019.8 128.1L1020.4 128.8L1021.0 129.5L1021.6 130.3L1022.1 131.1L1022.6 131.9L1023.1 132.7L1023.6 133.5L1024.1 134.3L1024.5 135.1L1025.0 135.9L1025.4 136.7L1025.9 137.5L1026.3 138.4L1026.8 139.2L1027.2 140.0L1027.7 140.8L1028.1 141.7L1028.6 142.6L1029.0 143.4L1029.5 144.3L1029.9 145.2L1030.4 146.1L1030.8 146.9L1031.2 147.7L1031.6 148.6L1032.0 149.4L1032.4 150.2L1032.8 151.0L1033.2 151.9L1033.6 152.7L1034.0 153.6L1034.4 154.4L1034.8 155.2L1035.2 156.1L1035.6 156.9L1036.0 157.8L1036.4 158.7L1036.8 159.5L1037.2 160.4L1037.6 161.3L1038.0 162.3L1038.4 163.2L1038.8 164.1L1039.1 165.0L1039.5 165.8L1039.8 166.7L1040.2 167.5L1040.5 168.4L1040.9 169.3L1041.2 170.2L1041.6 171.1L1041.9 172.0L1042.3 173.0L1042.6 173.9L1043.0 174.9L1043.3 175.8L1043.7 176.8L1044.0 177.7L1044.3 178.5L1044.6 179.4L1044.9 180.3L1045.2 181.2L1045.5 182.1L1045.8 183.1L1046.1 184.0L1046.4 185.0L1046.7 186.0L1047.0 186.9L1047.3 187.9L1047.6 188.9L1047.9 189.9L1048.2 190.9L1048.5 191.9L1048.8 192.9L1049.1 193.9L1049.4 195.0L1049.6 195.8L1049.9 196.7L1050.1 197.7L1050.4 198.6L1050.6 199.5L1050.9 200.4L1051.1 201.3L1051.4 202.2L1051.6 203.1L1051.9 204.1L1052.2 205.1L1052.5 206.0L1052.8 206.9L1053.2 207.8L1053.5 208.8L1053.8 209.7L1054.2 210.6L1054.5 211.6L1054.9 212.5L1055.2 213.3L1055.6 214.2L1056.1 215.0L1056.6 215.8L1057.3 216.3L1058.1 216.9L1058.9 217.4L1059.7 217.8L1060.5 218.1L1061.4 218.4L1062.3 218.5L1063.2 218.7L1064.1 218.8L1065.0 218.9L1065.9 218.9L1066.8 219.0L1067.7 219.0L1068.6 219.1L1069.5 219.1L1070.0 219.1" fill="none" stroke="#555" stroke-width="1" stroke-linejoin="round"/>
<path d="M870.0 219.4L870.9 219.4L871.8 219.4L872.7 219.4L873.6 219.4L874.5 219.4L875.4 219.4L876.3 219.4L877.2 219.3L878.1 219.3L879.0 219.3L879.9 219.3L880.8 219.3L881.7 219.2L882.6 219.2L883.5 219.2L884.4 219.2L885.3 219.1L886.2 219.1L887.1 219.1L888.0 219.0L888.9 219.0L889.8 219.0L890.7 218.9L891.6 218.9L892.5 218.8L893.4 218.8L894.3 218.7L895.2 218.7L896.1 218.6L897.0 218.6L897.9 218.5L898.8 218.5L899.7 218.4L900.6 218.4L901.5 218.3L902.4 218.1L903.3 218.0L904.2 217.8L905.1 217.7L906.0 217.5L906.9 217.3L907.8 217.1L908.7 216.8L909.6 216.6L910.5 216.4L911.4 216.1L912.3 215.9L913.2 215.7L914.1 215.4L915.0 215.2L915.9 214.9L916.8 214.6L917.7 214.3L918.6 214.0L919.4 213.7L920.3 213.4L921.1 213.1L922.0 212.7L922.8 212.3L923.7 211.9L924.5 211.5L925.3 211.1L926.1 210.7L926.9 210.2L927.7 209.6L928.5 209.1L929.2 208.6L930.0 208.0L930.7 207.4L931.5 206.8L932.2 206.3L933.0 205.7L933.7 205.2L934.5 204.7L935.3 204.2L936.1 203.7L936.9 203.2L937.7 202.7L938.5 202.3L939.3 201.8L940.1 201.4L941.0 201.0L941.8 200.7L942.7 200.3L943.5 199.9L944.4 199.6L945.3 199.3L946.2 199.2L947.1 199.2L948.0 199.3L948.9 199.4L949.8 199.5L950.7 199.7L951.6 199.9L952.5 200.1L953.4 200.3L954.3 200.6L955.1 200.9L956.0 201.2L956.8 201.5L957.7 201.8L958.6 201.9L959.5 201.9L960.4 201.8L961.3 201.6L962.2 201.3L963.1 201.0L963.9 200.7L964.8 200.3L965.6 199.9L966.4 199.4L967.1 198.7L967.7 198.0L968.3 197.3L968.8 196.5L969.4 195.7L969.9 194.9L970.5 194.1L971.0 193.3L971.5 192.5L971.9 191.7L972.4 190.9L972.8 190.0L973.2 189.2L973.6 188.4L974.0 187.5L974.4 186.6L974.8 185.7L975.2 184.8L975.6 184.0L975.9 183.1L976.3 182.3L976.6 181.3L977.0 180.4L977.3 179.4L977.6 178.6L977.9 177.7L978.2 176.8L978.5 175.9L978.8 174.9L979.1 174.0L979.4 173.0L979.7 172.1L980.0 171.1L980.3 170.1L980.6 169.1L980.9 168.2L981.2 167.2L981.5 166.2L981.8 165.1L982.1 164.3L982.3 163.4L982.6 162.5L982.8 161.6L983.1 160.7L983.3 159.8L983.6 158.9L983.8 158.0L984.1 157.1L984.3 156.1L984.6 155.2L984.8 154.3L985.1 153.3L985.3 152.4L985.6 151.5L985.8 150.6L986.1 149.6L986.3 148.7L986.6 147.7L986.8 146.8L987.1 145.8L987.3 144.8L987.6 143.8L987.8 142.9L988.1 141.9L988.3 140.9L988.6 139.9L988.8 138.9L989.1 137.9L989.3 137.0L989.6 136.0L989.8 135.1L990.1 134.2L990.3 133.3L990.6 132.4L990.9 131.3L991.2 130.3L991.5 129.3L991.8 128.3L992.1 127.3L992.4 126.3L992.7 125.3L993.0 124.4L993.3 123.4L993.6 122.5L993.9 121.5L994.2 120.7L994.5 119.8L994.8 118.8L995.2 117.9L995.5 117.0L995.9 116.1L996.3 115.2L996.7 114.4L997.2 113.5L997.6 112.7L998.1 111.9L998.6 111.1L999.1 110.3L999.6 109.5L1000.2 108.7L1000.7 108.0L1001.3 107.3L1001.9 106.6L1002.6 106.0L1003.4 105.6L1004.3 105.4L1005.2 105.2L1006.1 105.2L1007.0 105.5L1007.9 105.9L1008.7 106.3L1009.5 106.8L1010.2 107.5L1010.8 108.2L1011.4 108.9L1012.0 109.7L1012.5 110.4L1013.1 111.1L1013.6 111.9L1014.2 112.7L1014.7 113.5L1015.2 114.3L1015.7 115.1L1016.2 115.9L1016.7 116.8L1017.2 117.6L1017.7 118.5L1018.2 119.3L1018.6 120.1L1019.1 120.9L1019.5 121.7L1020.0 122.6L1020.4 123.4L1020.9 124.2L1021.3 125.1L1021.8 125.9L1022.2 126.7L1022.7 127.6L1023.1 128.4L1023.6 129.3L1024.0 130.1L1024.5 130.9L1024.9 131.8L1025.4 132.7L1025.8 133.5L1026.3 134.4L1026.7 135.3L1027.2 136.2L1027.6 137.0L1028.1 137.9L1028.5 138.7L1029.0 139.5L1029.5 140.3L1030.1 141.1L1030.6 141.9L1031.2 142.6L1031.9 143.2L1032.5 143.9L1033.2 144.6L1033.8 145.3L1034.3 146.0L1034.9 146.8L1035.3 147.6L1035.7 148.5L1036.1 149.4L1036.5 150.3L1036.8 151.3L1037.2 152.3L1037.5 153.1L1037.8 154.0L1038.1 154.9L1038.4 155.8L1038.7 156.6L1039.0 157.5L1039.3 158.5L1039.6 159.3L1039.9 160.2L1040.2 161.1L1040.5 162.0L1040.8 162.8L1041.1 163.7L1041.4 164.7L1041.7 165.6L1042.0 166.5L1042.3 167.4L1042.6 168.4L1042.9 169.3L1043.2 170.3L1043.5 171.3L1043.8 172.3L1044.1 173.3L1044.4 174.4L1044.7 175.2L1044.9 176.1L1045.2 177.0L1045.4 177.9L1045.7 178.7L1045.9 179.6L1046.2 180.5L1046.5 181.5L1046.8 182.5L1047.1 183.6L1047.4 184.6L1047.7 185.6L1048.0 186.6L1048.3 187.6L1048.6 188.7L1048.9 189.7L1049.2 190.7L1049.5 191.8L1049.7 192.6L1050.0 193.5L1050.2 194.4L1050.5 195.3L1050.7 196.2L1051.0 197.1L1051.2 198.1L1051.5 199.0L1051.7 199.9L1052.0 200.8L1052.2 201.7L1052.5 202.6L1052.8 203.6L1053.1 204.6L1053.4 205.5L1053.7 206.4L1054.0 207.3L1054.3 208.1L1054.6 209.0L1054.9 209.9L1055.2 210.9L1055.6 211.8L1055.9 212.6L1056.3 213.5L1056.8 214.3L1057.3 215.1L1058.0 215.7L1058.6 216.4L1059.3 217.0L1060.1 217.5L1060.9 217.9L1061.7 218.2L1062.6 218.4L1063.5 218.6L1064.4 218.7L1065.3 218.8L1066.2 218.9L1067.1 219.0L1068.0 219.0L1068.9 219.1L1069.8 219.1L1070.0 219.1" fill="none" stroke="#555" stroke-width="1.1" stroke-dasharray="6 4" stroke-linejoin="round"/>
<path d="M865.0 219.4L865.9 219.4L866.8 219.4L867.7 219.4L868.6 219.4L869.5 219.4L870.4 219.4L871.3 219.3L872.2 219.3L873.1 219.3L874.0 219.3L874.9 219.3L875.8 219.2L876.7 219.2L877.6 219.2L878.5 219.2L879.4 219.1L880.3 219.1L881.2 219.1L882.1 219.0L883.0 219.0L883.9 218.9L884.8 218.9L885.7 218.8L886.6 218.8L887.5 218.8L888.4 218.7L889.3 218.7L890.2 218.6L891.1 218.5L892.0 218.5L892.9 218.4L893.8 218.4L894.7 218.3L895.6 218.3L896.5 218.2L897.4 218.1L898.3 218.0L899.2 217.8L900.1 217.7L901.0 217.5L901.9 217.4L902.8 217.2L903.7 217.0L904.6 216.8L905.5 216.6L906.4 216.4L907.3 216.2L908.2 215.9L909.1 215.7L910.0 215.4L910.8 215.1L911.7 214.8L912.5 214.4L913.4 214.1L914.2 213.7L915.1 213.3L915.9 213.0L916.8 212.6L917.6 212.2L918.5 211.9L919.3 211.5L920.2 211.1L921.0 210.7L921.9 210.3L922.7 209.9L923.5 209.5L924.3 209.1L925.1 208.6L925.9 208.1L926.7 207.5L927.4 207.0L928.1 206.3L928.7 205.7L929.4 205.0L930.0 204.3L930.7 203.6L931.3 202.9L932.0 202.2L932.6 201.5L933.3 200.8L933.9 200.1L934.6 199.4L935.2 198.7L935.9 198.0L936.5 197.4L937.1 196.7L937.7 196.0L938.3 195.3L939.0 194.6L939.7 193.9L940.4 193.4L941.2 192.8L942.0 192.4L942.8 191.9L943.6 191.5L944.4 191.1L945.3 190.8L946.2 190.7L947.1 190.6L948.0 190.7L948.9 191.0L949.7 191.3L950.6 191.8L951.4 192.2L952.2 192.7L953.0 193.1L953.8 193.5L954.7 193.9L955.5 194.3L956.4 194.7L957.2 195.1L958.1 195.5L958.9 195.9L959.8 196.2L960.7 196.4L961.6 196.5L962.5 196.5L963.4 196.4L964.3 196.3L965.2 196.1L966.1 195.9L967.0 195.6L967.8 195.3L968.6 194.7L969.3 194.1L969.9 193.4L970.5 192.6L971.0 191.9L971.6 191.1L972.1 190.3L972.6 189.5L973.1 188.8L973.6 188.0L974.1 187.2L974.6 186.4L975.0 185.6L975.5 184.7L975.9 183.9L976.3 183.0L976.7 182.1L977.1 181.1L977.4 180.3L977.8 179.4L978.1 178.5L978.4 177.6L978.7 176.7L979.0 175.7L979.3 174.7L979.6 173.8L979.8 172.9L980.1 172.0L980.3 171.1L980.6 170.2L980.8 169.2L981.1 168.3L981.3 167.4L981.6 166.5L981.8 165.5L982.1 164.6L982.3 163.7L982.6 162.8L982.8 161.9L983.1 161.0L983.3 160.0L983.6 159.1L983.8 158.1L984.1 157.2L984.3 156.2L984.6 155.2L984.8 154.3L985.1 153.3L985.3 152.3L985.6 151.4L985.8 150.4L986.1 149.4L986.3 148.5L986.6 147.5L986.8 146.6L987.1 145.6L987.3 144.7L987.6 143.7L987.8 142.8L988.1 141.8L988.3 140.9L988.6 139.9L988.8 139.0L989.1 138.0L989.3 137.1L989.6 136.1L989.8 135.2L990.1 134.2L990.3 133.3L990.6 132.3L990.8 131.4L991.1 130.4L991.3 129.5L991.6 128.5L991.8 127.6L992.1 126.6L992.3 125.6L992.6 124.7L992.8 123.6L993.1 122.6L993.3 121.6L993.6 120.5L993.8 119.5L994.1 118.5L994.3 117.5L994.6 116.6L994.8 115.6L995.1 114.8L995.4 113.8L995.7 112.8L996.0 111.9L996.4 111.0L996.7 110.1L997.1 109.3L997.5 108.4L997.9 107.5L998.3 106.6L998.8 105.8L999.3 105.0L999.8 104.2L1000.4 103.4L1001.0 102.7L1001.7 102.1L1002.4 101.5L1003.3 101.1L1004.2 100.8L1005.1 100.6L1006.0 100.6L1006.9 100.8L1007.7 101.2L1008.5 101.7L1009.3 102.2L1010.0 102.9L1010.6 103.6L1011.1 104.3L1011.7 105.1L1012.2 105.9L1012.8 106.7L1013.3 107.5L1013.8 108.3L1014.3 109.2L1014.8 109.9L1015.2 110.8L1015.7 111.6L1016.1 112.4L1016.6 113.3L1017.0 114.2L1017.5 115.0L1017.9 115.9L1018.4 116.8L1018.8 117.7L1019.2 118.5L1019.6 119.3L1020.0 120.2L1020.4 121.0L1020.8 121.9L1021.2 122.7L1021.6 123.6L1022.0 124.4L1022.4 125.3L1022.8 126.1L1023.2 127.0L1023.6 127.8L1024.1 128.7L1024.5 129.5L1024.9 130.3L1025.3 131.1L1025.7 132.0L1026.1 132.8L1026.5 133.6L1026.9 134.5L1027.4 135.4L1027.8 136.3L1028.3 137.1L1028.7 137.9L1029.2 138.7L1029.7 139.5L1030.2 140.3L1030.7 141.1L1031.3 141.8L1031.9 142.5L1032.5 143.2L1033.1 143.9L1033.7 144.6L1034.3 145.4L1034.8 146.2L1035.2 147.0L1035.6 147.8L1036.0 148.7L1036.4 149.6L1036.7 150.5L1037.1 151.5L1037.4 152.4L1037.7 153.2L1038.0 154.1L1038.3 155.0L1038.6 155.9L1038.9 156.7L1039.2 157.7L1039.5 158.6L1039.8 159.4L1040.1 160.3L1040.4 161.2L1040.7 162.1L1041.0 163.0L1041.3 163.9L1041.6 164.8L1041.9 165.7L1042.2 166.7L1042.5 167.6L1042.8 168.5L1043.1 169.5L1043.4 170.4L1043.7 171.4L1044.0 172.3L1044.3 173.3L1044.6 174.3L1044.9 175.2L1045.2 176.2L1045.5 177.2L1045.8 178.2L1046.1 179.2L1046.4 180.2L1046.7 181.2L1047.0 182.2L1047.3 183.2L1047.6 184.2L1047.9 185.2L1048.2 186.2L1048.5 187.3L1048.8 188.3L1049.1 189.4L1049.4 190.2L1049.6 191.1L1049.9 192.0L1050.1 192.8L1050.4 193.7L1050.6 194.6L1050.9 195.5L1051.1 196.4L1051.4 197.4L1051.6 198.3L1051.9 199.2L1052.1 200.1L1052.4 201.0L1052.6 201.9L1052.9 202.9L1053.2 203.9L1053.5 204.9L1053.8 205.7L1054.1 206.6L1054.4 207.6L1054.7 208.5L1055.0 209.3L1055.3 210.2L1055.7 211.2L1056.0 212.1L1056.4 213.0L1056.8 213.8L1057.3 214.6L1057.9 215.3L1058.6 216.0L1059.3 216.7L1060.0 217.3L1060.8 217.8L1061.7 218.1L1062.6 218.3L1063.5 218.5L1064.4 218.6L1065.3 218.8L1066.2 218.9L1067.1 219.0L1068.0 219.0L1068.9 219.1L1069.8 219.1L1070.0 219.1" fill="none" stroke="#888" stroke-width="1.05" stroke-dasharray="1.1 1.5" stroke-linejoin="round"/>
<path d="M860.0 219.4L860.9 219.4L861.8 219.4L862.7 219.4L863.6 219.4L864.5 219.4L865.4 219.4L866.3 219.3L867.2 219.3L868.1 219.3L869.0 219.3L869.9 219.3L870.8 219.2L871.7 219.2L872.6 219.2L873.5 219.2L874.4 219.1L875.3 219.1L876.2 219.1L877.1 219.0L878.0 219.0L878.9 218.9L879.8 218.9L880.7 218.9L881.6 218.8L882.5 218.8L883.4 218.7L884.3 218.7L885.2 218.6L886.1 218.6L887.0 218.5L887.9 218.4L888.8 218.4L889.7 218.3L890.6 218.3L891.5 218.2L892.4 218.1L893.3 217.9L894.2 217.8L895.1 217.6L896.0 217.5L896.9 217.3L897.8 217.1L898.7 216.8L899.6 216.6L900.5 216.4L901.4 216.1L902.3 215.8L903.2 215.6L904.1 215.3L905.0 215.0L905.9 214.7L906.7 214.3L907.6 214.0L908.4 213.6L909.2 213.2L910.0 212.7L910.8 212.3L911.6 211.8L912.4 211.3L913.2 210.8L914.0 210.3L914.8 209.8L915.6 209.2L916.4 208.7L917.2 208.2L918.0 207.7L918.7 207.2L919.5 206.7L920.2 206.1L921.0 205.5L921.7 205.0L922.4 204.4L923.1 203.8L923.8 203.1L924.5 202.5L925.1 201.8L925.8 201.1L926.4 200.4L926.9 199.6L927.4 198.9L927.9 198.1L928.4 197.2L928.9 196.4L929.3 195.6L929.8 194.7L930.2 193.8L930.6 193.0L931.0 192.2L931.4 191.4L931.8 190.5L932.2 189.7L932.6 188.9L933.1 188.0L933.5 187.1L934.0 186.3L934.4 185.4L934.9 184.6L935.3 183.8L935.8 183.0L936.2 182.1L936.7 181.2L937.1 180.4L937.6 179.5L938.0 178.6L938.5 177.8L938.9 177.0L939.4 176.2L940.0 175.4L940.5 174.7L941.2 174.0L941.8 173.4L942.5 172.7L943.2 172.1L943.9 171.5L944.6 170.9L945.4 170.4L946.2 170.0L947.1 169.7L948.0 169.6L948.9 169.8L949.7 170.2L950.5 170.7L951.3 171.2L952.0 171.8L952.7 172.5L953.4 173.1L954.1 173.7L954.8 174.4L955.4 175.1L956.0 175.8L956.6 176.5L957.2 177.3L957.7 178.1L958.3 178.8L958.8 179.6L959.4 180.4L959.9 181.1L960.5 181.8L961.1 182.5L961.7 183.3L962.3 184.0L962.8 184.7L963.4 185.5L964.0 186.2L964.7 186.8L965.4 187.3L966.3 187.5L967.2 187.4L968.1 187.0L968.9 186.6L969.7 186.1L970.4 185.6L971.2 185.0L971.9 184.4L972.6 183.8L973.3 183.1L973.9 182.5L974.5 181.7L975.0 180.9L975.5 180.2L976.0 179.3L976.5 178.5L976.9 177.7L977.3 176.9L977.7 175.9L978.1 175.0L978.4 174.0L978.7 173.1L979.0 172.2L979.3 171.2L979.6 170.2L979.9 169.2L980.2 168.3L980.4 167.5L980.7 166.6L980.9 165.7L981.2 164.8L981.4 163.9L981.7 163.0L981.9 162.2L982.2 161.1L982.5 160.3L982.7 159.4L983.0 158.5L983.2 157.6L983.5 156.6L983.7 155.7L984.0 154.8L984.2 153.8L984.5 152.9L984.7 151.9L985.0 150.9L985.2 149.9L985.5 149.0L985.7 148.0L986.0 147.0L986.2 146.0L986.5 145.0L986.7 144.0L987.0 143.0L987.2 142.0L987.5 141.0L987.7 140.0L988.0 139.0L988.2 138.0L988.5 136.9L988.7 135.9L989.0 134.9L989.2 133.8L989.5 132.8L989.7 131.7L990.0 130.7L990.2 129.6L990.5 128.6L990.7 127.5L991.0 126.4L991.2 125.3L991.5 124.2L991.7 123.3L991.9 122.4L992.1 121.6L992.3 120.6L992.5 119.7L992.7 118.8L992.9 117.8L993.1 116.8L993.3 115.9L993.5 114.9L993.7 113.9L993.9 112.9L994.1 111.9L994.3 111.0L994.5 110.0L994.7 109.0L994.9 108.1L995.1 107.1L995.3 106.2L995.5 105.2L995.7 104.3L995.9 103.4L996.1 102.3L996.3 101.5L996.5 100.6L996.7 99.6L996.9 98.7L997.1 97.8L997.3 96.9L997.5 96.0L997.7 95.1L998.0 94.0L998.2 93.0L998.5 91.9L998.7 91.0L999.0 90.0L999.2 89.2L999.5 88.2L999.9 87.2L1000.2 86.4L1000.6 85.5L1001.0 84.6L1001.4 83.8L1001.9 83.0L1002.4 82.2L1003.0 81.4L1003.7 80.9L1004.5 80.3L1005.3 79.9L1006.2 79.7L1007.1 79.8L1008.0 80.3L1008.7 80.9L1009.4 81.5L1010.1 82.2L1010.7 82.9L1011.2 83.7L1011.7 84.6L1012.1 85.4L1012.5 86.2L1012.9 87.1L1013.3 88.0L1013.7 88.9L1014.1 89.7L1014.5 90.6L1014.9 91.5L1015.3 92.4L1015.7 93.3L1016.0 94.2L1016.4 95.0L1016.7 95.9L1017.1 96.7L1017.4 97.6L1017.8 98.5L1018.1 99.4L1018.5 100.2L1018.8 101.1L1019.2 102.0L1019.5 102.9L1019.9 103.8L1020.2 104.7L1020.6 105.6L1020.9 106.5L1021.3 107.5L1021.6 108.4L1022.0 109.3L1022.3 110.2L1022.7 111.2L1023.0 112.1L1023.4 113.0L1023.7 113.9L1024.1 114.7L1024.4 115.6L1024.8 116.5L1025.1 117.3L1025.5 118.1L1025.9 119.1L1026.3 120.0L1026.7 121.0L1027.1 121.9L1027.5 122.8L1027.8 123.7L1028.2 124.5L1028.5 125.4L1028.9 126.2L1029.2 127.1L1029.6 128.0L1029.9 128.9L1030.3 129.8L1030.6 130.7L1031.0 131.7L1031.3 132.6L1031.7 133.5L1032.0 134.4L1032.4 135.4L1032.7 136.3L1033.1 137.3L1033.4 138.2L1033.8 139.2L1034.1 140.1L1034.5 141.1L1034.8 142.1L1035.2 143.1L1035.5 144.0L1035.9 145.0L1036.2 145.9L1036.5 146.7L1036.8 147.6L1037.1 148.4L1037.4 149.3L1037.7 150.2L1038.0 151.1L1038.3 151.9L1038.6 152.8L1038.9 153.7L1039.2 154.6L1039.5 155.5L1039.8 156.4L1040.1 157.3L1040.4 158.2L1040.7 159.1L1041.0 160.0L1041.3 161.0L1041.6 161.9L1041.9 162.8L1042.2 163.8L1042.5 164.7L1042.8 165.7L1043.1 166.7L1043.4 167.7L1043.7 168.7L1044.0 169.7L1044.2 170.6L1044.5 171.5L1044.7 172.3L1045.0 173.2L1045.2 174.1L1045.5 175.1L1045.7 176.0L1046.0 176.9L1046.2 177.8L1046.5 178.7L1046.7 179.6L1047.0 180.5L1047.2 181.4L1047.5 182.3L1047.7 183.2L1048.0 184.1L1048.2 185.0L1048.5 185.8L1048.7 186.7L1049.0 187.6L1049.2 188.5L1049.5 189.4L1049.7 190.3L1050.0 191.2L1050.2 192.1L1050.5 193.0L1050.7 193.9L1051.0 194.8L1051.2 195.8L1051.5 196.7L1051.7 197.7L1052.0 198.7L1052.2 199.6L1052.5 200.6L1052.7 201.5L1053.0 202.4L1053.3 203.4L1053.6 204.4L1053.9 205.3L1054.2 206.2L1054.5 207.2L1054.8 208.1L1055.1 209.0L1055.4 209.9L1055.7 210.8L1056.0 211.7L1056.4 212.6L1056.8 213.5L1057.2 214.3L1057.8 215.0L1058.4 215.7L1059.0 216.4L1059.7 217.0L1060.5 217.6L1061.3 218.0L1062.2 218.2L1063.1 218.4L1064.0 218.6L1064.9 218.7L1065.8 218.8L1066.7 218.9L1067.6 219.0L1068.5 219.1L1069.4 219.1L1070.0 219.1" fill="none" stroke="#555" stroke-width="1" stroke-dasharray="4.5 2 1.6 2.5" stroke-linejoin="round"/>
<path d="M847.5 219.5L848.4 219.5L849.3 219.5L850.2 219.5L851.1 219.5L852.0 219.5L852.9 219.5L853.8 219.5L854.7 219.5L855.6 219.5L856.5 219.4L857.4 219.4L858.3 219.4L859.2 219.4L860.1 219.4L861.0 219.4L861.9 219.4L862.8 219.4L863.7 219.3L864.6 219.3L865.5 219.3L866.4 219.3L867.3 219.3L868.2 219.2L869.1 219.2L870.0 219.2L870.9 219.2L871.8 219.1L872.7 219.1L873.6 219.1L874.5 219.0L875.4 219.0L876.3 218.9L877.2 218.8L878.1 218.8L879.0 218.7L879.9 218.6L880.8 218.5L881.7 218.4L882.6 218.4L883.5 218.3L884.4 218.2L885.3 218.1L886.2 218.0L887.1 217.9L888.0 217.7L888.9 217.6L889.8 217.5L890.7 217.4L891.6 217.3L892.5 217.1L893.4 217.0L894.3 216.8L895.2 216.6L896.1 216.4L897.0 216.2L897.9 216.0L898.8 215.8L899.7 215.5L900.6 215.3L901.5 215.0L902.4 214.7L903.3 214.4L904.1 214.1L905.0 213.8L905.8 213.5L906.7 213.1L907.5 212.8L908.4 212.4L909.2 211.9L910.0 211.5L910.8 211.0L911.6 210.5L912.4 210.0L913.2 209.5L913.9 209.0L914.7 208.4L915.4 207.8L916.1 207.3L916.8 206.6L917.5 206.0L918.2 205.4L918.8 204.7L919.5 204.0L920.1 203.3L920.7 202.6L921.3 202.0L921.9 201.2L922.5 200.5L923.1 199.7L923.6 199.0L924.2 198.2L924.7 197.4L925.2 196.6L925.7 195.8L926.2 195.0L926.7 194.2L927.2 193.4L927.6 192.6L928.1 191.7L928.5 190.9L929.0 190.0L929.4 189.1L929.9 188.3L930.3 187.4L930.8 186.5L931.2 185.7L931.7 184.8L932.1 183.9L932.6 183.0L933.0 182.1L933.4 181.3L933.8 180.5L934.2 179.7L934.6 178.8L935.0 177.9L935.4 177.0L935.8 176.2L936.1 175.3L936.5 174.5L936.8 173.6L937.2 172.7L937.5 171.9L937.9 171.0L938.2 170.2L938.6 169.2L939.0 168.3L939.4 167.5L939.8 166.6L940.2 165.7L940.6 164.8L941.0 163.9L941.4 163.1L941.8 162.3L942.3 161.4L942.8 160.6L943.3 159.8L944.0 159.1L944.7 158.5L945.4 157.9L946.1 157.4L946.9 156.9L947.8 156.6L948.7 156.6L949.6 156.9L950.4 157.4L951.2 158.0L951.9 158.6L952.6 159.2L953.2 159.9L953.8 160.7L954.3 161.5L954.7 162.3L955.2 163.1L955.6 164.0L956.1 164.8L956.5 165.7L957.0 166.5L957.4 167.3L957.9 168.2L958.3 169.0L958.8 169.8L959.2 170.7L959.7 171.5L960.1 172.3L960.6 173.2L961.0 173.9L961.5 174.8L962.0 175.6L962.5 176.4L963.0 177.2L963.5 178.0L964.0 178.7L964.6 179.5L965.2 180.2L965.8 180.9L966.6 181.5L967.3 182.0L968.1 182.5L969.0 182.8L969.9 182.7L970.8 182.4L971.6 182.0L972.4 181.5L973.2 181.0L973.9 180.3L974.4 179.6L974.9 178.8L975.4 177.9L975.8 177.0L976.2 176.2L976.6 175.3L977.0 174.4L977.4 173.5L977.7 172.6L978.0 171.7L978.3 170.8L978.6 169.9L978.9 168.9L979.2 167.9L979.5 167.0L979.7 166.1L980.0 165.2L980.2 164.3L980.5 163.5L980.7 162.6L981.0 161.7L981.2 160.8L981.5 159.8L981.8 158.8L982.1 157.7L982.4 156.7L982.7 155.7L983.0 154.7L983.3 153.7L983.6 152.6L983.9 151.8L984.1 150.9L984.4 150.0L984.6 149.1L984.9 148.2L985.1 147.4L985.4 146.4L985.6 145.5L985.9 144.6L986.1 143.7L986.4 142.7L986.6 141.8L986.9 140.8L987.1 139.8L987.4 138.8L987.6 137.8L987.9 136.8L988.1 135.8L988.4 134.8L988.6 133.7L988.9 132.7L989.1 131.6L989.4 130.6L989.6 129.5L989.9 128.4L990.1 127.3L990.3 126.4L990.5 125.5L990.7 124.7L990.9 123.8L991.1 122.9L991.3 122.0L991.5 121.1L991.7 120.1L991.9 119.2L992.1 118.3L992.3 117.4L992.5 116.4L992.7 115.5L992.9 114.5L993.1 113.5L993.3 112.5L993.5 111.5L993.7 110.5L993.9 109.5L994.1 108.5L994.3 107.5L994.5 106.5L994.7 105.5L994.9 104.5L995.1 103.5L995.3 102.5L995.5 101.5L995.7 100.5L995.9 99.5L996.1 98.6L996.3 97.6L996.5 96.6L996.7 95.6L996.9 94.5L997.1 93.5L997.3 92.5L997.5 91.5L997.7 90.4L997.9 89.4L998.1 88.4L998.3 87.5L998.5 86.5L998.7 85.6L998.9 84.7L999.2 83.6L999.4 82.6L999.7 81.7L1000.0 80.7L1000.3 79.7L1000.6 78.7L1000.9 77.7L1001.2 76.8L1001.5 75.9L1001.8 75.0L1002.2 74.1L1002.6 73.3L1003.1 72.5L1003.7 71.8L1004.4 71.2L1005.1 70.6L1006.0 70.2L1006.9 70.3L1007.7 70.6L1008.5 71.2L1009.2 71.8L1009.8 72.5L1010.5 73.2L1011.0 74.0L1011.4 74.8L1011.8 75.7L1012.2 76.6L1012.5 77.5L1012.9 78.5L1013.2 79.5L1013.6 80.4L1013.9 81.4L1014.3 82.3L1014.6 83.2L1015.0 84.1L1015.3 85.1L1015.7 86.0L1016.0 87.0L1016.4 88.0L1016.7 88.9L1017.0 89.8L1017.3 90.6L1017.6 91.5L1017.9 92.4L1018.2 93.2L1018.6 94.2L1018.9 95.2L1019.3 96.1L1019.6 97.1L1020.0 98.1L1020.3 99.0L1020.7 100.0L1021.0 100.9L1021.4 101.9L1021.7 102.8L1022.1 103.8L1022.4 104.7L1022.8 105.7L1023.1 106.6L1023.5 107.6L1023.8 108.5L1024.2 109.5L1024.5 110.4L1024.9 111.4L1025.2 112.3L1025.6 113.2L1025.9 114.2L1026.3 115.1L1026.6 116.1L1027.0 117.0L1027.3 117.9L1027.7 118.9L1028.0 119.8L1028.4 120.7L1028.7 121.7L1029.1 122.6L1029.4 123.5L1029.8 124.5L1030.1 125.4L1030.5 126.3L1030.8 127.3L1031.2 128.2L1031.5 129.2L1031.9 130.1L1032.2 131.1L1032.6 132.0L1032.9 133.0L1033.3 133.9L1033.6 134.9L1034.0 135.8L1034.3 136.8L1034.7 137.7L1035.0 138.7L1035.4 139.7L1035.7 140.7L1036.0 141.5L1036.3 142.4L1036.6 143.3L1036.9 144.1L1037.2 145.0L1037.5 145.9L1037.8 146.9L1038.1 147.8L1038.4 148.7L1038.7 149.7L1039.0 150.6L1039.3 151.6L1039.6 152.5L1039.9 153.5L1040.2 154.5L1040.5 155.5L1040.8 156.6L1041.1 157.4L1041.3 158.3L1041.6 159.2L1041.8 160.1L1042.1 161.0L1042.3 161.9L1042.6 162.8L1042.8 163.8L1043.1 164.7L1043.3 165.6L1043.6 166.5L1043.8 167.5L1044.1 168.4L1044.3 169.3L1044.6 170.2L1044.8 171.1L1045.1 172.1L1045.3 173.0L1045.6 173.9L1045.8 174.8L1046.1 175.8L1046.3 176.7L1046.6 177.6L1046.8 178.5L1047.1 179.5L1047.3 180.4L1047.6 181.3L1047.8 182.2L1048.1 183.1L1048.3 184.0L1048.6 184.9L1048.8 185.8L1049.1 186.7L1049.3 187.6L1049.6 188.5L1049.8 189.4L1050.1 190.3L1050.3 191.2L1050.6 192.1L1050.8 193.1L1051.1 194.0L1051.3 195.0L1051.6 195.9L1051.8 196.9L1052.1 197.9L1052.3 198.9L1052.6 199.9L1052.8 200.8L1053.1 201.8L1053.3 202.7L1053.6 203.7L1053.9 204.6L1054.2 205.6L1054.5 206.5L1054.8 207.4L1055.1 208.4L1055.4 209.3L1055.7 210.2L1056.1 211.1L1056.4 212.1L1056.8 212.9L1057.2 213.7L1057.7 214.5L1058.3 215.3L1058.9 215.9L1059.6 216.6L1060.4 217.2L1061.2 217.7L1062.0 218.0L1062.9 218.2L1063.8 218.4L1064.7 218.5L1065.6 218.6L1066.5 218.7L1067.4 218.8L1068.3 218.9L1069.2 218.9L1070.1 219.0L1071.0 219.0L1071.9 219.1L1072.8 219.1L1073.7 219.2L1074.6 219.2L1075.5 219.2L1076.4 219.3L1077.3 219.3L1078.2 219.3L1079.1 219.3" fill="none" stroke="#000" stroke-width="1.95" stroke-linejoin="round"/>
<path d="M92.7 507.6L93.6 507.6L94.5 507.6L95.4 507.6L96.3 507.6L97.2 507.6L98.1 507.6L99.0 507.6L99.9 507.6L100.8 507.6L101.7 507.6L102.6 507.6L103.5 507.6L104.4 507.6L105.3 507.6L106.2 507.6L107.1 507.6L108.0 507.6L108.9 507.6L109.8 507.6L110.7 507.5L111.6 507.5L112.5 507.5L113.4 507.5L114.3 507.5L115.2 507.5L116.1 507.5L117.0 507.5L117.9 507.5L118.8 507.5L119.7 507.5L120.6 507.5L121.5 507.5L122.4 507.5L123.3 507.5L124.2 507.5L125.1 507.4L126.0 507.4L126.9 507.4L127.8 507.4L128.7 507.4L129.6 507.4L130.5 507.4L131.4 507.4L132.3 507.4L133.2 507.4L134.1 507.4L135.0 507.4L135.9 507.3L136.8 507.3L137.7 507.3L138.6 507.3L139.5 507.3L140.4 507.3L141.3 507.3L142.2 507.3L143.1 507.3L144.0 507.2L144.9 507.2L145.8 507.2L146.7 507.2L147.6 507.2L148.5 507.1L149.4 507.1L150.3 507.1L151.2 507.1L152.1 507.0L153.0 507.0L153.9 507.0L154.8 507.0L155.7 506.9L156.6 506.9L157.5 506.9L158.4 506.8L159.3 506.8L160.2 506.8L161.1 506.8L162.0 506.7L162.9 506.7L163.8 506.7L164.7 506.6L165.6 506.6L166.5 506.6L167.4 506.5L168.3 506.5L169.2 506.5L170.1 506.4L171.0 506.4L171.9 506.4L172.8 506.3L173.7 506.3L174.6 506.2L175.5 506.2L176.4 506.1L177.3 506.1L178.2 506.0L179.1 506.0L180.0 505.9L180.9 505.9L181.8 505.8L182.7 505.8L183.6 505.7L184.5 505.6L185.4 505.5L186.3 505.4L187.2 505.3L188.1 505.2L189.0 505.1L189.9 505.0L190.8 504.8L191.7 504.5L192.5 504.2L193.4 503.8L194.2 503.3L195.0 502.8L195.8 502.3L196.6 501.8L197.3 501.3L198.1 500.8L198.8 500.3L199.6 499.8L200.3 499.2L201.1 498.7L201.8 498.1L202.5 497.5L203.2 496.9L203.9 496.3L204.6 495.6L205.3 495.0L206.0 494.4L206.6 493.7L207.3 493.1L207.9 492.4L208.6 491.8L209.2 491.1L209.9 490.5L210.5 489.9L211.2 489.2L211.8 488.5L212.5 487.8L213.1 487.2L213.8 486.5L214.4 485.8L215.1 485.0L215.7 484.4L216.3 483.7L216.9 483.0L217.5 482.3L218.1 481.6L218.7 480.9L219.3 480.1L219.9 479.4L220.5 478.6L221.1 477.8L221.6 477.1L222.2 476.4L222.7 475.6L223.3 474.9L223.8 474.1L224.4 473.3L224.9 472.5L225.5 471.7L226.0 470.9L226.6 470.1L227.1 469.4L227.6 468.6L228.1 467.8L228.6 467.0L229.1 466.2L229.6 465.3L230.1 464.5L230.6 463.6L231.1 462.8L231.6 461.9L232.1 461.1L232.6 460.2L233.1 459.4L233.6 458.6L234.1 457.7L234.6 456.9L235.1 456.1L235.6 455.3L236.1 454.5L236.6 453.6L237.1 452.8L237.6 452.0L238.1 451.2L238.6 450.3L239.1 449.5L239.6 448.7L240.1 447.8L240.6 447.0L241.1 446.2L241.6 445.4L242.1 444.5L242.6 443.7L243.1 442.9L243.6 442.0L244.1 441.2L244.6 440.3L245.1 439.5L245.6 438.7L246.1 437.8L246.6 437.0L247.1 436.2L247.6 435.4L248.1 434.5L248.6 433.7L249.0 432.9L249.5 432.1L249.9 431.2L250.4 430.3L250.8 429.5L251.2 428.7L251.6 427.9L252.0 427.0L252.4 426.1L252.8 425.3L253.2 424.5L253.6 423.6L254.0 422.7L254.5 421.9L254.9 421.0L255.4 420.2L255.8 419.4L256.3 418.6L256.8 417.8L257.3 416.9L257.8 416.2L258.3 415.4L258.9 414.6L259.5 413.9L260.1 413.2L260.7 412.5L261.4 411.9L262.2 411.4L263.1 411.0L264.0 410.7L264.9 410.6L265.8 410.9L266.6 411.3L267.4 411.7L268.2 412.1L269.0 412.6L269.7 413.3L270.4 413.9L271.1 414.6L271.7 415.3L272.3 415.9L272.9 416.7L273.5 417.4L274.0 418.3L274.5 419.0L275.0 419.9L275.5 420.7L275.9 421.5L276.4 422.3L276.8 423.1L277.3 423.9L277.7 424.8L278.2 425.6L278.6 426.4L279.1 427.3L279.5 428.2L280.0 429.1L280.4 429.9L280.8 430.7L281.2 431.5L281.6 432.4L282.0 433.3L282.4 434.1L282.8 435.0L283.2 435.9L283.6 436.8L284.0 437.7L284.4 438.6L284.7 439.5L285.1 440.4L285.4 441.4L285.7 442.2L286.0 443.2L286.3 444.2L286.6 445.2L286.8 446.2L287.1 447.3L287.3 448.2L287.5 449.1L287.7 450.1L287.9 451.0L288.1 452.0L288.3 452.9L288.5 453.8L288.7 454.7L288.9 455.6L289.1 456.7L289.4 457.7L289.6 458.7L289.9 459.7L290.1 460.6L290.4 461.6L290.6 462.5L290.9 463.5L291.1 464.4L291.4 465.4L291.6 466.4L291.9 467.4L292.1 468.4L292.4 469.5L292.6 470.5L292.9 471.5L293.1 472.6L293.4 473.6L293.6 474.6L293.9 475.6L294.1 476.6L294.4 477.6L294.6 478.6L294.9 479.5L295.1 480.5L295.4 481.5L295.6 482.4L295.9 483.3L296.1 484.2L296.4 485.2L296.6 486.1L296.9 487.0L297.1 487.9L297.4 488.8L297.6 489.6L297.9 490.6L298.2 491.6L298.5 492.5L298.8 493.5L299.1 494.4L299.4 495.2L299.7 496.1L300.1 497.1L300.4 498.0L300.8 498.9L301.3 499.8L301.8 500.6L302.3 501.4L302.8 502.2L303.4 503.0L304.1 503.7L304.8 504.2L305.6 504.7L306.4 505.2L307.2 505.6L308.1 505.9L309.0 506.2L309.9 506.4L310.8 506.6L311.7 506.7L312.6 506.8L313.5 506.9L314.4 507.0L315.3 507.0L316.2 507.1L317.1 507.1L318.0 507.1L318.9 507.1L319.8 507.2L320.7 507.2L321.6 507.2L322.5 507.2L323.4 507.2L324.3 507.2L324.6 507.2" fill="none" stroke="#555" stroke-width="1" stroke-linejoin="round"/>
<path d="M92.7 507.6L93.6 507.6L94.5 507.6L95.4 507.6L96.3 507.6L97.2 507.6L98.1 507.6L99.0 507.6L99.9 507.6L100.8 507.6L101.7 507.6L102.6 507.6L103.5 507.6L104.4 507.6L105.3 507.6L106.2 507.6L107.1 507.6L108.0 507.6L108.9 507.6L109.8 507.6L110.7 507.6L111.6 507.6L112.5 507.6L113.4 507.6L114.3 507.6L115.2 507.5L116.1 507.5L117.0 507.5L117.9 507.5L118.8 507.5L119.7 507.5L120.6 507.5L121.5 507.5L122.4 507.5L123.3 507.5L124.2 507.5L125.1 507.5L126.0 507.5L126.9 507.5L127.8 507.5L128.7 507.5L129.6 507.5L130.5 507.5L131.4 507.5L132.3 507.5L133.2 507.4L134.1 507.4L135.0 507.4L135.9 507.4L136.8 507.4L137.7 507.4L138.6 507.4L139.5 507.4L140.4 507.4L141.3 507.4L142.2 507.4L143.1 507.4L144.0 507.4L144.9 507.4L145.8 507.3L146.7 507.3L147.6 507.3L148.5 507.3L149.4 507.3L150.3 507.3L151.2 507.3L152.1 507.2L153.0 507.2L153.9 507.2L154.8 507.2L155.7 507.2L156.6 507.1L157.5 507.1L158.4 507.1L159.3 507.1L160.2 507.0L161.1 507.0L162.0 507.0L162.9 507.0L163.8 506.9L164.7 506.9L165.6 506.9L166.5 506.8L167.4 506.8L168.3 506.8L169.2 506.7L170.1 506.7L171.0 506.6L171.9 506.6L172.8 506.5L173.7 506.5L174.6 506.4L175.5 506.4L176.4 506.3L177.3 506.2L178.2 506.2L179.1 506.1L180.0 506.0L180.9 505.9L181.8 505.8L182.7 505.7L183.6 505.6L184.5 505.5L185.4 505.3L186.3 505.2L187.2 505.0L188.1 504.9L189.0 504.7L189.9 504.5L190.8 504.3L191.7 504.1L192.6 503.9L193.5 503.6L194.4 503.3L195.3 503.0L196.2 502.7L197.1 502.4L197.9 502.1L198.8 501.8L199.6 501.5L200.5 501.2L201.4 500.9L202.3 500.6L203.1 500.3L204.0 499.9L204.8 499.6L205.7 499.1L206.5 498.7L207.3 498.2L208.1 497.7L208.8 497.2L209.6 496.6L210.3 496.0L211.0 495.5L211.7 494.9L212.4 494.3L213.1 493.7L213.8 493.0L214.5 492.4L215.2 491.7L215.8 491.0L216.5 490.3L217.1 489.7L217.7 489.0L218.3 488.3L218.9 487.5L219.5 486.8L220.0 486.1L220.6 485.3L221.1 484.5L221.7 483.7L222.2 483.0L222.7 482.2L223.2 481.4L223.7 480.7L224.2 479.9L224.7 479.1L225.2 478.3L225.7 477.5L226.2 476.6L226.7 475.8L227.2 475.0L227.7 474.1L228.1 473.3L228.6 472.5L229.0 471.7L229.5 470.9L229.9 470.1L230.4 469.3L230.8 468.4L231.3 467.5L231.7 466.6L232.2 465.8L232.6 464.9L233.0 464.0L233.4 463.2L233.8 462.4L234.2 461.6L234.6 460.7L235.0 459.9L235.4 459.1L235.8 458.2L236.2 457.3L236.6 456.5L237.0 455.6L237.4 454.7L237.8 453.8L238.2 452.9L238.6 452.0L239.0 451.1L239.4 450.2L239.8 449.3L240.2 448.4L240.6 447.5L241.0 446.6L241.4 445.7L241.8 444.8L242.2 443.9L242.6 443.0L243.0 442.1L243.4 441.2L243.8 440.2L244.2 439.3L244.6 438.3L245.0 437.5L245.3 436.7L245.7 435.8L246.0 435.0L246.4 434.1L246.7 433.2L247.1 432.4L247.4 431.5L247.8 430.6L248.1 429.7L248.5 428.8L248.8 428.0L249.2 427.1L249.5 426.2L249.9 425.3L250.2 424.3L250.6 423.4L250.9 422.5L251.3 421.5L251.6 420.5L252.0 419.5L252.3 418.6L252.7 417.6L253.0 416.6L253.4 415.7L253.7 414.8L254.1 413.9L254.5 413.0L254.9 412.1L255.3 411.2L255.7 410.3L256.1 409.4L256.5 408.6L256.9 407.8L257.3 406.9L257.8 406.1L258.3 405.3L258.8 404.5L259.4 403.7L259.9 403.0L260.5 402.3L261.2 401.6L262.1 401.2L262.9 400.9L263.8 400.7L264.7 400.8L265.6 401.2L266.4 401.6L267.2 402.1L267.9 402.7L268.5 403.4L269.1 404.1L269.7 404.9L270.2 405.6L270.8 406.5L271.3 407.3L271.7 408.2L272.1 409.0L272.5 409.8L272.9 410.7L273.3 411.6L273.7 412.5L274.1 413.3L274.5 414.2L274.9 415.1L275.3 416.0L275.7 416.9L276.1 417.8L276.5 418.8L276.9 419.7L277.3 420.6L277.7 421.5L278.0 422.4L278.4 423.3L278.7 424.3L279.1 425.3L279.4 426.3L279.8 427.2L280.2 428.1L280.6 429.0L281.2 429.7L281.9 430.3L282.6 430.9L283.2 431.6L283.6 432.5L283.9 433.5L284.2 434.5L284.4 435.6L284.6 436.5L284.8 437.5L285.0 438.5L285.2 439.5L285.4 440.5L285.6 441.4L285.8 442.3L286.1 443.4L286.3 444.5L286.6 445.6L286.8 446.5L287.0 447.3L287.2 448.2L287.4 449.1L287.6 450.0L287.8 450.9L288.0 451.8L288.2 452.7L288.4 453.7L288.7 454.8L288.9 455.9L289.2 456.9L289.4 457.9L289.7 458.9L289.9 459.9L290.2 460.8L290.4 461.8L290.7 462.7L290.9 463.7L291.2 464.6L291.4 465.6L291.7 466.6L291.9 467.6L292.2 468.6L292.4 469.7L292.7 470.7L292.9 471.7L293.2 472.8L293.4 473.8L293.7 474.8L293.9 475.8L294.2 476.8L294.4 477.8L294.7 478.8L294.9 479.7L295.2 480.7L295.4 481.6L295.7 482.6L295.9 483.5L296.2 484.4L296.4 485.3L296.7 486.3L296.9 487.2L297.2 488.1L297.4 488.9L297.7 490.0L298.0 491.0L298.3 491.9L298.6 492.8L298.9 493.8L299.2 494.7L299.5 495.5L299.8 496.4L300.2 497.4L300.5 498.2L300.9 499.1L301.4 500.0L301.9 500.8L302.4 501.6L302.9 502.3L303.5 503.1L304.2 503.8L304.9 504.3L305.7 504.8L306.5 505.2L307.4 505.6L308.2 506.0L309.1 506.3L310.0 506.5L310.9 506.6L311.8 506.7L312.7 506.8L313.6 506.9L314.5 507.0L315.4 507.0L316.3 507.1L317.2 507.1L318.1 507.1L319.0 507.1L319.9 507.2L320.8 507.2L321.7 507.2L322.6 507.2L323.5 507.2L324.4 507.2L324.6 507.2" fill="none" stroke="#555" stroke-width="1.1" stroke-dasharray="6 4" stroke-linejoin="round"/>
<path d="M92.7 507.6L93.6 507.6L94.5 507.6L95.4 507.6L96.3 507.6L97.2 507.6L98.1 507.6L99.0 507.6L99.9 507.6L100.8 507.6L101.7 507.6L102.6 507.6L103.5 507.6L104.4 507.6L105.3 507.6L106.2 507.6L107.1 507.6L108.0 507.6L108.9 507.6L109.8 507.6L110.7 507.6L111.6 507.6L112.5 507.6L113.4 507.6L114.3 507.6L115.2 507.5L116.1 507.5L117.0 507.5L117.9 507.5L118.8 507.5L119.7 507.5L120.6 507.5L121.5 507.5L122.4 507.5L123.3 507.5L124.2 507.5L125.1 507.5L126.0 507.5L126.9 507.5L127.8 507.5L128.7 507.5L129.6 507.5L130.5 507.5L131.4 507.5L132.3 507.5L133.2 507.4L134.1 507.4L135.0 507.4L135.9 507.4L136.8 507.4L137.7 507.4L138.6 507.4L139.5 507.4L140.4 507.4L141.3 507.4L142.2 507.4L143.1 507.4L144.0 507.4L144.9 507.4L145.8 507.3L146.7 507.3L147.6 507.3L148.5 507.3L149.4 507.3L150.3 507.3L151.2 507.3L152.1 507.3L153.0 507.2L153.9 507.2L154.8 507.2L155.7 507.2L156.6 507.2L157.5 507.2L158.4 507.1L159.3 507.1L160.2 507.1L161.1 507.1L162.0 507.1L162.9 507.1L163.8 507.0L164.7 507.0L165.6 507.0L166.5 507.0L167.4 506.9L168.3 506.9L169.2 506.9L170.1 506.8L171.0 506.8L171.9 506.8L172.8 506.7L173.7 506.7L174.6 506.6L175.5 506.6L176.4 506.5L177.3 506.5L178.2 506.4L179.1 506.4L180.0 506.3L180.9 506.2L181.8 506.2L182.7 506.1L183.6 506.0L184.5 505.9L185.4 505.7L186.3 505.6L187.2 505.5L188.1 505.3L189.0 505.2L189.9 505.0L190.8 504.8L191.7 504.7L192.6 504.5L193.5 504.2L194.4 504.0L195.3 503.7L196.2 503.4L197.1 503.2L198.0 502.8L198.8 502.5L199.7 502.2L200.5 501.8L201.4 501.4L202.2 501.0L203.0 500.5L203.8 500.1L204.6 499.5L205.4 499.0L206.1 498.5L206.9 498.0L207.6 497.5L208.4 496.9L209.1 496.4L209.9 495.8L210.6 495.2L211.3 494.6L212.0 494.0L212.7 493.4L213.4 492.7L214.1 492.1L214.7 491.4L215.4 490.7L216.0 490.0L216.6 489.3L217.2 488.5L217.7 487.8L218.3 487.0L218.8 486.3L219.4 485.5L219.9 484.7L220.4 483.9L220.9 483.2L221.4 482.4L221.9 481.5L222.4 480.7L222.9 479.9L223.4 479.0L223.9 478.2L224.3 477.4L224.8 476.6L225.2 475.8L225.7 475.0L226.1 474.1L226.6 473.2L227.0 472.4L227.5 471.5L227.9 470.6L228.4 469.7L228.8 468.8L229.2 468.0L229.6 467.2L230.0 466.3L230.4 465.5L230.8 464.6L231.2 463.8L231.6 462.9L232.0 462.0L232.4 461.2L232.8 460.3L233.2 459.5L233.6 458.6L234.0 457.7L234.4 456.9L234.8 456.0L235.2 455.1L235.6 454.3L236.0 453.4L236.4 452.5L236.8 451.6L237.2 450.7L237.6 449.8L238.0 448.9L238.4 448.0L238.8 447.0L239.2 446.2L239.5 445.3L239.9 444.5L240.2 443.6L240.6 442.8L240.9 441.9L241.3 441.1L241.6 440.2L242.0 439.4L242.3 438.5L242.7 437.7L243.1 436.8L243.5 435.8L243.9 434.9L244.3 434.0L244.7 433.1L245.1 432.2L245.5 431.3L245.9 430.4L246.3 429.5L246.7 428.6L247.1 427.6L247.5 426.7L247.8 425.9L248.2 425.0L248.5 424.1L248.9 423.3L249.2 422.4L249.6 421.5L249.9 420.6L250.3 419.6L250.6 418.7L251.0 417.8L251.3 416.9L251.7 416.0L252.0 415.1L252.4 414.2L252.7 413.4L253.1 412.5L253.4 411.6L253.8 410.8L254.1 409.9L254.5 409.1L254.8 408.2L255.2 407.3L255.6 406.4L256.0 405.5L256.4 404.6L256.8 403.8L257.2 402.9L257.6 402.1L258.0 401.2L258.5 400.3L258.9 399.5L259.4 398.7L260.0 397.9L260.7 397.2L261.3 396.5L262.0 395.9L262.8 395.4L263.7 395.3L264.6 395.5L265.5 395.8L266.3 396.2L267.1 396.6L267.8 397.2L268.4 397.9L269.0 398.7L269.5 399.4L270.0 400.2L270.5 401.0L271.0 401.8L271.4 402.6L271.9 403.5L272.3 404.4L272.7 405.2L273.1 406.1L273.5 407.0L273.9 407.9L274.3 408.8L274.7 409.7L275.0 410.5L275.4 411.5L275.7 412.4L276.1 413.3L276.4 414.2L276.8 415.2L277.1 416.1L277.5 417.0L277.8 417.9L278.2 418.8L278.5 419.6L278.9 420.5L279.2 421.4L279.6 422.2L279.9 423.1L280.3 424.0L280.6 424.9L281.0 425.7L281.3 426.6L281.7 427.4L282.0 428.3L282.4 429.2L282.7 430.1L283.0 431.0L283.3 432.0L283.6 432.9L283.8 433.8L284.1 434.8L284.3 435.8L284.6 436.9L284.8 438.0L285.0 438.9L285.2 439.7L285.4 440.6L285.7 441.7L285.9 442.8L286.2 443.9L286.4 444.9L286.7 446.0L286.9 446.9L287.1 447.8L287.3 448.7L287.5 449.6L287.7 450.4L287.9 451.3L288.1 452.2L288.3 453.3L288.6 454.4L288.8 455.4L289.1 456.5L289.3 457.5L289.6 458.5L289.8 459.5L290.1 460.4L290.3 461.4L290.6 462.3L290.8 463.3L291.1 464.2L291.3 465.2L291.6 466.2L291.8 467.2L292.1 468.2L292.3 469.3L292.6 470.3L292.8 471.3L293.1 472.4L293.3 473.4L293.6 474.4L293.8 475.4L294.1 476.4L294.3 477.4L294.6 478.4L294.8 479.3L295.1 480.3L295.3 481.3L295.6 482.2L295.8 483.1L296.1 484.1L296.3 485.0L296.6 485.9L296.8 486.8L297.1 487.7L297.3 488.6L297.6 489.5L297.9 490.5L298.2 491.5L298.5 492.4L298.8 493.3L299.1 494.2L299.4 495.1L299.7 496.0L300.0 497.0L300.4 497.9L300.7 498.7L301.1 499.5L301.6 500.4L302.1 501.2L302.7 502.0L303.2 502.7L303.8 503.4L304.5 504.1L305.3 504.6L306.1 505.0L307.0 505.5L307.8 505.8L308.7 506.1L309.6 506.4L310.5 506.5L311.4 506.6L312.3 506.8L313.2 506.8L314.1 506.9L315.0 507.0L315.9 507.0L316.8 507.1L317.7 507.1L318.6 507.1L319.5 507.1L320.4 507.2L321.3 507.2L322.2 507.2L323.1 507.2L324.0 507.2L324.6 507.2" fill="none" stroke="#888" stroke-width="1.05" stroke-dasharray="1.1 1.5" stroke-linejoin="round"/>
<path d="M92.7 507.6L93.6 507.6L94.5 507.6L95.4 507.6L96.3 507.6L97.2 507.6L98.1 507.6L99.0 507.6L99.9 507.6L100.8 507.6L101.7 507.6L102.6 507.6L103.5 507.6L104.4 507.6L105.3 507.6L106.2 507.6L107.1 507.6L108.0 507.6L108.9 507.6L109.8 507.6L110.7 507.6L111.6 507.6L112.5 507.6L113.4 507.6L114.3 507.6L115.2 507.6L116.1 507.6L117.0 507.6L117.9 507.6L118.8 507.6L119.7 507.6L120.6 507.6L121.5 507.6L122.4 507.6L123.3 507.6L124.2 507.6L125.1 507.6L126.0 507.5L126.9 507.5L127.8 507.5L128.7 507.5L129.6 507.5L130.5 507.5L131.4 507.5L132.3 507.5L133.2 507.5L134.1 507.5L135.0 507.5L135.9 507.5L136.8 507.5L137.7 507.5L138.6 507.5L139.5 507.5L140.4 507.5L141.3 507.5L142.2 507.5L143.1 507.5L144.0 507.5L144.9 507.5L145.8 507.5L146.7 507.4L147.6 507.4L148.5 507.4L149.4 507.4L150.3 507.4L151.2 507.4L152.1 507.4L153.0 507.3L153.9 507.3L154.8 507.3L155.7 507.3L156.6 507.3L157.5 507.2L158.4 507.2L159.3 507.2L160.2 507.2L161.1 507.2L162.0 507.2L162.9 507.1L163.8 507.1L164.7 507.1L165.6 507.1L166.5 507.1L167.4 507.1L168.3 507.0L169.2 507.0L170.1 507.0L171.0 507.0L171.9 507.0L172.8 507.0L173.7 507.0L174.6 506.9L175.5 506.9L176.4 506.9L177.3 506.9L178.2 506.9L179.1 506.8L180.0 506.8L180.9 506.8L181.8 506.7L182.7 506.6L183.6 506.5L184.5 506.4L185.4 506.3L186.3 506.2L187.2 506.1L188.1 505.9L189.0 505.8L189.9 505.6L190.8 505.5L191.7 505.3L192.6 505.1L193.5 504.9L194.4 504.7L195.3 504.4L196.2 504.2L197.1 503.9L198.0 503.6L198.9 503.3L199.7 503.0L200.6 502.7L201.4 502.3L202.3 501.9L203.1 501.4L203.9 501.0L204.7 500.5L205.5 500.1L206.3 499.6L207.1 499.1L207.9 498.6L208.7 498.1L209.5 497.5L210.2 497.0L211.0 496.5L211.7 495.9L212.5 495.3L213.2 494.7L213.9 494.1L214.6 493.4L215.2 492.8L215.9 492.1L216.5 491.4L217.1 490.7L217.7 489.9L218.3 489.2L218.8 488.4L219.4 487.7L219.9 486.9L220.5 486.1L221.0 485.4L221.5 484.6L222.0 483.8L222.5 482.9L223.0 482.1L223.5 481.2L223.9 480.4L224.4 479.6L224.8 478.8L225.3 478.0L225.7 477.2L226.2 476.3L226.6 475.4L227.1 474.5L227.5 473.7L227.9 472.8L228.3 472.0L228.7 471.0L229.0 470.2L229.4 469.3L229.7 468.4L230.1 467.5L230.4 466.5L230.8 465.5L231.1 464.7L231.4 463.8L231.7 462.9L232.0 462.0L232.3 461.1L232.6 460.1L232.9 459.2L233.2 458.2L233.5 457.2L233.8 456.2L234.1 455.1L234.3 454.3L234.6 453.4L234.8 452.5L235.1 451.7L235.3 450.8L235.6 449.9L235.8 449.0L236.1 448.1L236.3 447.2L236.6 446.3L236.8 445.4L237.1 444.4L237.3 443.5L237.6 442.5L237.8 441.6L238.1 440.6L238.3 439.6L238.6 438.6L238.8 437.6L239.1 436.5L239.3 435.5L239.6 434.4L239.8 433.4L240.1 432.3L240.3 431.2L240.6 430.2L240.8 429.1L241.1 428.1L241.3 427.0L241.6 426.0L241.8 424.9L242.1 423.8L242.3 422.8L242.6 421.7L242.8 420.7L243.1 419.6L243.3 418.6L243.6 417.6L243.8 416.6L244.1 415.6L244.3 414.7L244.6 413.8L244.8 412.8L245.1 412.0L245.3 411.1L245.6 410.2L245.8 409.3L246.1 408.5L246.3 407.6L246.6 406.7L246.8 405.8L247.1 404.9L247.3 404.0L247.6 403.2L247.8 402.3L248.1 401.4L248.3 400.5L248.6 399.6L248.8 398.7L249.1 397.9L249.4 396.8L249.7 395.8L250.0 394.8L250.3 393.9L250.6 392.9L250.9 391.9L251.2 390.9L251.5 390.0L251.8 389.0L252.1 388.2L252.4 387.3L252.7 386.4L253.1 385.5L253.4 384.6L253.8 383.7L254.1 382.8L254.5 382.0L254.9 381.0L255.3 380.2L255.7 379.3L256.2 378.5L256.7 377.7L257.2 376.9L257.7 376.2L258.3 375.4L259.0 374.8L259.8 374.4L260.7 374.0L261.6 373.8L262.5 373.7L263.4 373.9L264.2 374.2L265.0 374.7L265.8 375.3L266.4 376.0L266.9 376.8L267.3 377.7L267.8 378.6L268.2 379.4L268.6 380.2L269.0 381.1L269.4 382.0L269.7 382.8L270.1 383.7L270.4 384.6L270.8 385.6L271.1 386.5L271.4 387.4L271.7 388.3L272.0 389.1L272.3 390.1L272.6 391.0L272.9 392.0L273.2 393.0L273.5 394.0L273.8 394.9L274.0 395.8L274.3 396.7L274.5 397.6L274.8 398.5L275.0 399.4L275.3 400.4L275.5 401.3L275.8 402.2L276.0 403.2L276.3 404.2L276.5 405.1L276.8 406.2L277.0 407.2L277.3 408.2L277.5 409.3L277.8 410.3L278.0 411.4L278.3 412.5L278.5 413.5L278.8 414.6L279.0 415.6L279.3 416.7L279.5 417.7L279.8 418.7L280.0 419.7L280.3 420.7L280.5 421.6L280.8 422.6L281.0 423.5L281.3 424.4L281.5 425.3L281.8 426.2L282.0 427.2L282.3 428.1L282.5 429.0L282.8 430.0L283.0 430.9L283.3 431.9L283.5 432.9L283.8 433.9L284.0 434.9L284.3 435.9L284.5 436.9L284.8 438.0L285.0 439.0L285.3 440.1L285.5 441.1L285.8 442.2L286.0 443.2L286.3 444.3L286.5 445.4L286.8 446.5L287.0 447.3L287.2 448.2L287.4 449.1L287.6 450.0L287.8 450.9L288.0 451.8L288.2 452.7L288.4 453.7L288.7 454.8L288.9 455.9L289.2 456.9L289.4 457.9L289.7 458.9L289.9 459.9L290.2 460.8L290.4 461.8L290.7 462.7L290.9 463.7L291.2 464.6L291.4 465.6L291.7 466.6L291.9 467.6L292.2 468.6L292.4 469.7L292.7 470.7L292.9 471.7L293.2 472.8L293.4 473.8L293.7 474.8L293.9 475.8L294.2 476.8L294.4 477.8L294.7 478.8L294.9 479.7L295.2 480.7L295.4 481.6L295.7 482.6L295.9 483.5L296.2 484.4L296.4 485.3L296.7 486.3L296.9 487.2L297.2 488.1L297.4 488.9L297.7 490.0L298.0 491.0L298.3 491.9L298.6 492.8L298.9 493.8L299.2 494.7L299.5 495.5L299.8 496.4L300.2 497.4L300.5 498.2L300.9 499.1L301.4 500.0L301.9 500.8L302.4 501.6L302.9 502.3L303.5 503.1L304.2 503.8L304.9 504.3L305.7 504.8L306.5 505.2L307.4 505.6L308.2 506.0L309.1 506.3L310.0 506.5L310.9 506.6L311.8 506.7L312.7 506.8L313.6 506.9L314.5 507.0L315.4 507.0L316.3 507.1L317.2 507.1L318.1 507.1L319.0 507.1L319.9 507.2L320.8 507.2L321.7 507.2L322.6 507.2L323.5 507.2L324.4 507.2L324.6 507.2" fill="none" stroke="#555" stroke-width="1" stroke-dasharray="4.5 2 1.6 2.5" stroke-linejoin="round"/>
<path d="M92.7 507.6L93.6 507.6L94.5 507.6L95.4 507.6L96.3 507.6L97.2 507.6L98.1 507.6L99.0 507.6L99.9 507.6L100.8 507.6L101.7 507.6L102.6 507.6L103.5 507.6L104.4 507.6L105.3 507.6L106.2 507.6L107.1 507.6L108.0 507.6L108.9 507.6L109.8 507.6L110.7 507.6L111.6 507.6L112.5 507.6L113.4 507.6L114.3 507.6L115.2 507.6L116.1 507.6L117.0 507.6L117.9 507.6L118.8 507.6L119.7 507.6L120.6 507.6L121.5 507.6L122.4 507.6L123.3 507.6L124.2 507.6L125.1 507.6L126.0 507.5L126.9 507.5L127.8 507.5L128.7 507.5L129.6 507.5L130.5 507.5L131.4 507.5L132.3 507.5L133.2 507.5L134.1 507.5L135.0 507.5L135.9 507.5L136.8 507.5L137.7 507.5L138.6 507.5L139.5 507.5L140.4 507.5L141.3 507.5L142.2 507.5L143.1 507.5L144.0 507.5L144.9 507.5L145.8 507.5L146.7 507.4L147.6 507.4L148.5 507.4L149.4 507.4L150.3 507.4L151.2 507.4L152.1 507.4L153.0 507.4L153.9 507.3L154.8 507.3L155.7 507.3L156.6 507.3L157.5 507.3L158.4 507.3L159.3 507.3L160.2 507.3L161.1 507.2L162.0 507.2L162.9 507.2L163.8 507.2L164.7 507.2L165.6 507.2L166.5 507.2L167.4 507.2L168.3 507.2L169.2 507.2L170.1 507.2L171.0 507.2L171.9 507.2L172.8 507.2L173.7 507.2L174.6 507.1L175.5 507.1L176.4 507.1L177.3 507.1L178.2 507.1L179.1 507.1L180.0 507.1L180.9 507.1L181.8 507.0L182.7 507.0L183.6 506.9L184.5 506.8L185.4 506.7L186.3 506.6L187.2 506.5L188.1 506.3L189.0 506.2L189.9 506.1L190.8 505.9L191.7 505.8L192.6 505.6L193.5 505.4L194.4 505.2L195.3 505.0L196.2 504.8L197.1 504.5L198.0 504.2L198.9 504.0L199.8 503.7L200.6 503.4L201.5 503.0L202.3 502.6L203.2 502.2L204.0 501.8L204.8 501.3L205.6 500.9L206.4 500.4L207.2 499.9L208.0 499.5L208.8 499.0L209.6 498.5L210.4 497.9L211.1 497.4L211.9 496.9L212.6 496.3L213.3 495.7L214.0 495.1L214.7 494.5L215.4 493.8L216.0 493.1L216.6 492.4L217.2 491.7L217.8 491.0L218.4 490.2L218.9 489.5L219.5 488.8L220.0 488.0L220.6 487.2L221.1 486.4L221.6 485.6L222.1 484.8L222.6 484.0L223.1 483.1L223.5 482.3L224.0 481.5L224.4 480.7L224.9 479.9L225.3 479.1L225.8 478.2L226.2 477.3L226.6 476.5L227.0 475.6L227.4 474.8L227.8 473.9L228.2 473.0L228.6 472.0L229.0 471.2L229.3 470.3L229.7 469.4L230.0 468.5L230.4 467.6L230.7 466.6L231.0 465.7L231.3 464.9L231.6 464.0L231.9 463.0L232.2 462.0L232.5 461.1L232.8 460.0L233.1 459.2L233.3 458.3L233.6 457.4L233.8 456.5L234.1 455.5L234.3 454.5L234.6 453.5L234.8 452.5L235.1 451.5L235.3 450.5L235.6 449.5L235.8 448.5L236.1 447.6L236.3 446.6L236.6 445.7L236.8 444.7L237.1 443.7L237.3 442.7L237.6 441.7L237.8 440.6L238.0 439.7L238.2 438.8L238.4 437.8L238.6 436.9L238.8 435.9L239.0 434.9L239.2 434.0L239.4 433.0L239.6 432.1L239.8 431.2L240.0 430.2L240.2 429.3L240.4 428.4L240.6 427.4L240.8 426.5L241.0 425.6L241.2 424.7L241.5 423.6L241.7 422.6L242.0 421.5L242.2 420.5L242.5 419.5L242.7 418.5L243.0 417.5L243.2 416.4L243.5 415.4L243.7 414.4L244.0 413.4L244.2 412.4L244.5 411.4L244.7 410.3L245.0 409.2L245.2 408.1L245.4 407.3L245.6 406.4L245.8 405.4L246.0 404.5L246.2 403.6L246.4 402.7L246.6 401.8L246.8 400.9L247.0 399.9L247.2 399.0L247.4 398.1L247.6 397.2L247.8 396.4L248.1 395.3L248.3 394.2L248.6 393.2L248.8 392.2L249.1 391.2L249.3 390.3L249.6 389.3L249.8 388.3L250.1 387.4L250.3 386.5L250.6 385.6L250.8 384.7L251.1 383.8L251.3 382.9L251.6 381.9L251.9 380.9L252.2 380.0L252.5 379.0L252.8 378.2L253.1 377.2L253.4 376.3L253.7 375.4L254.0 374.5L254.3 373.6L254.6 372.7L255.0 371.8L255.3 370.9L255.7 370.1L256.2 369.3L256.8 368.6L257.5 368.0L258.2 367.4L258.9 366.9L259.8 366.5L260.7 366.3L261.6 366.5L262.4 366.9L263.1 367.5L263.8 368.1L264.5 368.8L265.0 369.5L265.5 370.3L265.9 371.1L266.3 372.1L266.6 372.9L267.0 373.8L267.3 374.8L267.7 375.7L268.0 376.7L268.4 377.6L268.7 378.6L269.0 379.4L269.3 380.3L269.6 381.2L269.9 382.2L270.2 383.1L270.5 384.1L270.8 385.1L271.1 386.2L271.4 387.2L271.7 388.2L272.0 389.2L272.3 390.2L272.6 391.2L272.9 392.3L273.2 393.3L273.5 394.3L273.8 395.2L274.0 396.0L274.3 396.9L274.5 397.8L274.8 398.7L275.0 399.6L275.3 400.5L275.5 401.4L275.8 402.3L276.0 403.3L276.3 404.2L276.5 405.2L276.8 406.1L277.0 407.1L277.3 408.1L277.5 409.1L277.8 410.1L278.0 411.1L278.3 412.2L278.5 413.2L278.8 414.2L279.0 415.3L279.3 416.3L279.5 417.3L279.8 418.3L280.0 419.3L280.3 420.3L280.5 421.3L280.8 422.2L281.0 423.2L281.3 424.2L281.5 425.1L281.8 426.1L282.0 427.0L282.3 428.0L282.5 428.9L282.8 429.9L283.0 430.9L283.3 431.9L283.5 432.9L283.8 433.9L284.0 434.9L284.3 435.9L284.5 437.0L284.8 438.0L285.0 439.0L285.3 440.1L285.5 441.1L285.8 442.2L286.0 443.2L286.3 444.3L286.5 445.4L286.8 446.5L287.0 447.3L287.2 448.2L287.4 449.1L287.6 450.0L287.8 450.9L288.0 451.8L288.2 452.7L288.4 453.7L288.7 454.8L288.9 455.9L289.2 456.9L289.4 457.9L289.7 458.9L289.9 459.9L290.2 460.8L290.4 461.8L290.7 462.7L290.9 463.7L291.2 464.6L291.4 465.6L291.7 466.6L291.9 467.6L292.2 468.6L292.4 469.7L292.7 470.7L292.9 471.7L293.2 472.8L293.4 473.8L293.7 474.8L293.9 475.8L294.2 476.8L294.4 477.8L294.7 478.8L294.9 479.7L295.2 480.7L295.4 481.6L295.7 482.6L295.9 483.5L296.2 484.4L296.4 485.3L296.7 486.3L296.9 487.2L297.2 488.1L297.4 488.9L297.7 490.0L298.0 491.0L298.3 491.9L298.6 492.8L298.9 493.8L299.2 494.7L299.5 495.5L299.8 496.4L300.2 497.4L300.5 498.2L300.9 499.1L301.4 500.0L301.9 500.8L302.4 501.6L302.9 502.3L303.5 503.1L304.2 503.8L304.9 504.3L305.7 504.8L306.5 505.2L307.4 505.6L308.2 506.0L309.1 506.3L310.0 506.5L310.9 506.6L311.8 506.7L312.7 506.8L313.6 506.9L314.5 507.0L315.4 507.0L316.3 507.1L317.2 507.1L318.1 507.1L319.0 507.1L319.9 507.2L320.8 507.2L321.7 507.2L322.6 507.2L323.5 507.2L324.4 507.2L324.6 507.2" fill="none" stroke="#000" stroke-width="1.95" stroke-linejoin="round"/>
<path d="M458.8 507.2L459.7 507.2L460.6 507.2L461.5 507.2L462.4 507.2L463.3 507.2L464.2 507.2L465.1 507.2L466.0 507.2L466.9 507.2L467.8 507.2L468.7 507.2L469.6 507.2L470.5 507.2L471.4 507.2L472.3 507.2L473.2 507.2L474.1 507.2L475.0 507.2L475.9 507.2L476.8 507.2L477.7 507.2L478.6 507.2L479.5 507.2L480.4 507.2L481.3 507.2L482.2 507.2L483.1 507.2L484.0 507.2L484.9 507.1L485.8 507.1L486.7 507.1L487.6 507.1L488.5 507.1L489.4 507.1L490.3 507.1L491.2 507.1L492.1 507.1L493.0 507.1L493.9 507.1L494.8 507.1L495.7 507.1L496.6 507.1L497.5 507.1L498.4 507.1L499.3 507.1L500.2 507.1L501.1 507.1L502.0 507.1L502.9 507.1L503.8 507.0L504.7 507.0L505.6 507.0L506.5 507.0L507.4 507.0L508.3 507.0L509.2 507.0L510.1 507.0L511.0 507.0L511.9 507.0L512.8 507.0L513.7 506.9L514.6 506.9L515.5 506.9L516.4 506.9L517.3 506.9L518.2 506.8L519.1 506.8L520.0 506.8L520.9 506.8L521.8 506.7L522.7 506.7L523.6 506.7L524.5 506.6L525.4 506.6L526.3 506.5L527.2 506.5L528.1 506.5L529.0 506.4L529.9 506.4L530.8 506.3L531.7 506.3L532.6 506.2L533.5 506.2L534.4 506.1L535.3 506.0L536.2 505.9L537.1 505.9L538.0 505.8L538.9 505.7L539.8 505.5L540.7 505.4L541.6 505.1L542.5 504.8L543.4 504.5L544.2 504.2L545.1 503.8L545.9 503.4L546.8 503.0L547.6 502.6L548.5 502.1L549.3 501.7L550.1 501.3L550.9 500.8L551.7 500.4L552.5 499.9L553.3 499.3L554.1 498.8L554.8 498.3L555.6 497.7L556.3 497.1L557.1 496.5L557.8 496.0L558.5 495.4L559.2 494.8L559.9 494.1L560.5 493.5L561.2 492.8L561.8 492.1L562.4 491.4L563.0 490.7L563.6 490.0L564.2 489.3L564.8 488.5L565.4 487.8L565.9 487.0L566.5 486.3L567.0 485.5L567.5 484.7L568.0 483.9L568.5 483.1L569.0 482.3L569.5 481.4L570.0 480.7L570.4 479.9L570.9 479.0L571.3 478.2L571.8 477.4L572.2 476.5L572.7 475.6L573.1 474.8L573.5 474.0L573.9 473.2L574.3 472.3L574.7 471.4L575.1 470.5L575.5 469.6L575.9 468.7L576.3 467.8L576.7 466.9L577.1 466.0L577.5 465.1L577.9 464.2L578.3 463.3L578.7 462.4L579.1 461.5L579.5 460.6L579.9 459.7L580.3 458.8L580.7 457.9L581.1 457.0L581.4 456.1L581.8 455.3L582.1 454.4L582.5 453.5L582.8 452.5L583.1 451.6L583.4 450.7L583.7 449.7L584.0 448.7L584.3 447.7L584.6 446.8L584.8 445.9L585.1 444.9L585.4 443.9L585.7 442.9L586.0 442.0L586.3 441.1L586.6 440.2L586.9 439.3L587.2 438.4L587.5 437.5L587.8 436.7L588.1 435.8L588.5 434.8L588.8 433.9L589.2 433.0L589.5 432.1L589.9 431.2L590.3 430.4L590.7 429.5L591.2 428.6L591.6 427.8L592.1 427.0L592.6 426.1L593.1 425.3L593.6 424.5L594.1 423.7L594.6 423.0L595.1 422.1L595.7 421.3L596.2 420.6L596.8 419.8L597.3 419.1L597.9 418.3L598.5 417.5L599.1 416.8L599.7 416.2L600.4 415.5L601.0 414.8L601.7 414.1L602.4 413.5L603.1 412.9L603.9 412.3L604.6 411.7L605.4 411.2L606.1 410.6L606.9 410.0L607.6 409.4L608.3 408.8L609.0 408.2L609.8 407.6L610.5 407.1L611.3 406.5L612.0 405.9L612.7 405.3L613.4 404.7L614.1 404.1L614.8 403.4L615.5 402.7L616.1 402.1L616.8 401.3L617.4 400.6L618.0 399.9L618.6 399.2L619.2 398.5L619.8 397.7L620.4 397.0L621.0 396.3L621.6 395.5L622.2 394.8L622.8 394.1L623.4 393.4L623.9 392.6L624.5 391.9L625.0 391.2L625.6 390.5L626.2 389.7L626.8 389.0L627.4 388.3L628.0 387.6L628.7 387.0L629.5 386.4L630.2 385.9L631.0 385.3L631.7 384.8L632.5 384.3L633.3 383.8L634.2 383.4L635.0 383.1L635.9 382.9L636.8 382.9L637.7 383.1L638.6 383.4L639.4 383.9L640.2 384.3L641.0 384.9L641.7 385.5L642.3 386.2L642.9 387.0L643.5 387.7L644.0 388.5L644.5 389.3L645.0 390.1L645.5 390.9L645.9 391.7L646.4 392.6L646.8 393.5L647.2 394.4L647.6 395.3L648.0 396.2L648.3 397.1L648.7 398.0L649.0 399.0L649.3 399.8L649.6 400.7L649.9 401.6L650.2 402.5L650.5 403.5L650.8 404.4L651.1 405.3L651.4 406.2L651.7 407.1L652.0 408.1L652.3 409.0L652.6 409.9L652.9 410.9L653.2 411.9L653.5 412.9L653.8 413.9L654.1 414.8L654.3 415.7L654.6 416.6L654.8 417.5L655.1 418.5L655.3 419.5L655.6 420.6L655.8 421.5L656.0 422.4L656.2 423.3L656.4 424.3L656.6 425.3L656.8 426.4L657.0 427.4L657.2 428.4L657.4 429.5L657.6 430.6L657.8 431.6L658.0 432.7L658.2 433.8L658.4 434.8L658.6 435.9L658.8 436.9L659.0 437.9L659.2 439.0L659.4 440.0L659.6 441.0L659.8 442.0L660.0 443.0L660.2 444.0L660.4 445.0L660.6 446.0L660.8 447.0L661.0 448.0L661.2 449.0L661.4 450.0L661.6 451.0L661.8 452.0L662.0 453.0L662.2 454.0L662.4 455.0L662.6 456.0L662.8 457.0L663.0 458.1L663.2 459.1L663.4 460.1L663.6 461.1L663.8 462.1L664.0 463.2L664.2 464.2L664.4 465.2L664.6 466.2L664.8 467.3L665.0 468.3L665.2 469.3L665.4 470.3L665.6 471.3L665.8 472.3L666.0 473.3L666.2 474.3L666.4 475.2L666.6 476.2L666.8 477.1L667.0 478.1L667.2 479.0L667.4 480.0L667.6 481.0L667.8 482.0L668.0 483.0L668.2 483.9L668.4 484.9L668.6 485.8L668.8 486.8L669.0 487.7L669.2 488.6L669.4 489.6L669.7 490.6L669.9 491.6L670.2 492.5L670.5 493.4L670.8 494.3L671.1 495.2L671.4 496.1L671.7 497.0L672.0 498.0L672.4 498.9L672.7 499.8L673.1 500.6L673.5 501.5L673.9 502.4L674.4 503.2L675.0 503.9L675.8 504.5L676.6 505.0L677.4 505.5L678.2 505.9L679.1 506.3L680.0 506.6L680.9 506.8L681.8 507.0L682.7 507.0L683.6 507.1L684.5 507.2L685.4 507.2L686.3 507.2L687.2 507.3L688.1 507.3L689.0 507.3L689.0 507.3" fill="none" stroke="#555" stroke-width="1" stroke-linejoin="round"/>
<path d="M458.8 507.2L459.7 507.2L460.6 507.2L461.5 507.2L462.4 507.2L463.3 507.2L464.2 507.2L465.1 507.2L466.0 507.2L466.9 507.2L467.8 507.2L468.7 507.2L469.6 507.2L470.5 507.2L471.4 507.2L472.3 507.2L473.2 507.2L474.1 507.2L475.0 507.2L475.9 507.2L476.8 507.2L477.7 507.2L478.6 507.2L479.5 507.2L480.4 507.2L481.3 507.2L482.2 507.2L483.1 507.1L484.0 507.1L484.9 507.1L485.8 507.1L486.7 507.1L487.6 507.1L488.5 507.1L489.4 507.1L490.3 507.1L491.2 507.1L492.1 507.1L493.0 507.1L493.9 507.1L494.8 507.1L495.7 507.1L496.6 507.1L497.5 507.1L498.4 507.1L499.3 507.0L500.2 507.0L501.1 507.0L502.0 507.0L502.9 507.0L503.8 507.0L504.7 507.0L505.6 507.0L506.5 507.0L507.4 507.0L508.3 506.9L509.2 506.9L510.1 506.9L511.0 506.8L511.9 506.8L512.8 506.8L513.7 506.7L514.6 506.7L515.5 506.6L516.4 506.5L517.3 506.5L518.2 506.4L519.1 506.4L520.0 506.3L520.9 506.2L521.8 506.1L522.7 506.0L523.6 505.9L524.5 505.8L525.4 505.7L526.3 505.5L527.2 505.4L528.1 505.3L529.0 505.1L529.9 505.0L530.8 504.9L531.7 504.8L532.6 504.7L533.5 504.6L534.4 504.5L535.3 504.4L536.2 504.3L537.1 504.1L538.0 504.0L538.9 503.8L539.8 503.6L540.7 503.3L541.5 502.9L542.3 502.5L543.1 501.9L543.9 501.4L544.6 500.9L545.4 500.3L546.1 499.7L546.8 499.1L547.5 498.5L548.2 497.9L548.9 497.3L549.6 496.6L550.2 495.9L550.8 495.2L551.4 494.5L552.0 493.8L552.6 493.0L553.2 492.2L553.8 491.5L554.3 490.8L554.9 490.0L555.4 489.2L555.9 488.4L556.4 487.6L556.9 486.8L557.4 485.9L557.9 485.1L558.3 484.3L558.8 483.5L559.2 482.7L559.7 481.9L560.1 481.0L560.6 480.2L561.0 479.3L561.5 478.4L561.9 477.5L562.3 476.7L562.7 475.8L563.1 475.0L563.5 474.1L563.9 473.2L564.3 472.3L564.7 471.4L565.1 470.5L565.5 469.6L565.9 468.7L566.3 467.8L566.7 467.0L567.1 466.1L567.5 465.2L567.9 464.3L568.3 463.5L568.7 462.6L569.1 461.7L569.5 460.8L569.9 459.9L570.3 459.1L570.7 458.2L571.1 457.3L571.5 456.5L571.9 455.6L572.3 454.8L572.7 453.9L573.1 453.1L573.5 452.2L573.9 451.4L574.3 450.6L574.7 449.7L575.1 448.9L575.5 448.1L575.9 447.2L576.3 446.4L576.8 445.5L577.2 444.6L577.7 443.8L578.1 442.9L578.6 442.1L579.1 441.3L579.6 440.4L580.1 439.6L580.6 438.8L581.1 437.9L581.6 437.2L582.1 436.4L582.6 435.6L583.2 434.8L583.7 434.0L584.3 433.3L584.9 432.6L585.5 431.9L586.1 431.2L586.7 430.5L587.3 429.8L588.0 429.1L588.6 428.4L589.3 427.7L589.9 427.1L590.6 426.5L591.3 425.8L592.1 425.2L592.8 424.7L593.6 424.2L594.4 423.7L595.3 423.4L596.1 423.1L597.0 422.8L597.9 422.6L598.8 422.3L599.7 422.1L600.6 421.8L601.5 421.4L602.3 421.0L603.0 420.5L603.7 419.9L604.4 419.2L605.1 418.5L605.7 417.8L606.3 417.1L606.9 416.4L607.5 415.7L608.1 415.0L608.7 414.3L609.4 413.6L610.0 412.9L610.7 412.2L611.3 411.5L611.9 410.8L612.5 410.1L613.1 409.4L613.7 408.6L614.3 407.8L614.8 407.0L615.3 406.3L615.8 405.4L616.3 404.6L616.7 403.8L617.2 402.9L617.6 402.1L618.0 401.3L618.4 400.4L618.8 399.5L619.2 398.7L619.6 397.8L620.0 396.9L620.4 396.1L620.8 395.2L621.2 394.4L621.6 393.6L622.0 392.7L622.5 391.8L622.9 390.9L623.3 390.1L623.7 389.3L624.1 388.5L624.5 387.6L624.9 386.8L625.3 386.0L625.7 385.2L626.2 384.3L626.6 383.4L627.1 382.6L627.6 381.7L628.1 381.0L628.6 380.2L629.2 379.4L629.9 378.7L630.5 378.0L631.1 377.3L631.8 376.6L632.4 376.0L633.1 375.4L633.9 374.9L634.8 374.6L635.7 374.5L636.6 374.8L637.4 375.2L638.1 375.8L638.8 376.4L639.5 377.0L640.2 377.7L640.7 378.5L641.2 379.4L641.7 380.2L642.1 381.1L642.5 382.0L642.9 382.8L643.3 383.6L643.7 384.6L644.1 385.4L644.4 386.3L644.8 387.3L645.1 388.3L645.4 389.1L645.7 390.0L646.0 390.9L646.3 391.9L646.6 392.8L646.9 393.9L647.2 394.8L647.4 395.8L647.7 396.8L647.9 397.8L648.2 398.8L648.4 399.8L648.7 400.9L648.9 401.8L649.2 402.8L649.4 403.7L649.7 404.6L650.0 405.6L650.3 406.5L650.7 407.4L651.0 408.4L651.4 409.3L651.7 410.2L652.1 411.0L652.4 411.9L652.8 412.8L653.1 413.8L653.5 414.7L653.8 415.6L654.1 416.5L654.4 417.5L654.7 418.6L654.9 419.5L655.2 420.5L655.4 421.5L655.6 422.5L655.8 423.4L656.0 424.4L656.2 425.4L656.4 426.4L656.6 427.5L656.8 428.6L657.0 429.6L657.2 430.7L657.4 431.8L657.6 432.9L657.8 434.0L658.0 435.1L658.2 436.1L658.4 437.2L658.6 438.2L658.8 439.2L659.0 440.2L659.2 441.2L659.4 442.2L659.6 443.2L659.8 444.2L660.0 445.2L660.2 446.2L660.4 447.2L660.6 448.3L660.8 449.3L661.0 450.3L661.2 451.3L661.4 452.3L661.6 453.3L661.8 454.3L662.0 455.3L662.2 456.3L662.4 457.3L662.6 458.3L662.8 459.3L663.0 460.3L663.2 461.4L663.4 462.4L663.6 463.4L663.8 464.4L664.0 465.5L664.2 466.5L664.4 467.5L664.6 468.5L664.8 469.5L665.0 470.6L665.2 471.6L665.4 472.5L665.6 473.5L665.8 474.5L666.0 475.5L666.2 476.4L666.4 477.3L666.6 478.3L666.8 479.3L667.0 480.3L667.2 481.2L667.4 482.2L667.6 483.2L667.8 484.2L668.0 485.1L668.2 486.1L668.4 487.0L668.6 487.9L668.9 489.0L669.1 490.0L669.4 491.0L669.6 491.9L669.9 493.0L670.2 493.9L670.5 494.8L670.8 495.7L671.1 496.6L671.4 497.4L671.8 498.4L672.1 499.3L672.5 500.2L672.9 501.1L673.3 501.9L673.7 502.8L674.3 503.6L675.0 504.2L675.7 504.7L676.5 505.2L677.3 505.6L678.2 506.0L679.0 506.4L679.9 506.7L680.8 506.9L681.7 507.0L682.6 507.1L683.5 507.1L684.4 507.2L685.3 507.2L686.2 507.2L687.1 507.3L688.0 507.3L688.9 507.3L689.0 507.3" fill="none" stroke="#555" stroke-width="1.1" stroke-dasharray="6 4" stroke-linejoin="round"/>
<path d="M458.8 507.2L459.7 507.2L460.6 507.2L461.5 507.2L462.4 507.2L463.3 507.2L464.2 507.2L465.1 507.2L466.0 507.2L466.9 507.2L467.8 507.2L468.7 507.2L469.6 507.2L470.5 507.2L471.4 507.2L472.3 507.2L473.2 507.2L474.1 507.2L475.0 507.2L475.9 507.2L476.8 507.2L477.7 507.2L478.6 507.2L479.5 507.2L480.4 507.1L481.3 507.1L482.2 507.1L483.1 507.1L484.0 507.1L484.9 507.1L485.8 507.1L486.7 507.1L487.6 507.1L488.5 507.1L489.4 507.1L490.3 507.1L491.2 507.1L492.1 507.1L493.0 507.1L493.9 507.1L494.8 507.0L495.7 507.0L496.6 507.0L497.5 507.0L498.4 507.0L499.3 507.0L500.2 507.0L501.1 507.0L502.0 507.0L502.9 506.9L503.8 506.9L504.7 506.9L505.6 506.8L506.5 506.8L507.4 506.7L508.3 506.7L509.2 506.6L510.1 506.6L511.0 506.5L511.9 506.4L512.8 506.4L513.7 506.3L514.6 506.2L515.5 506.2L516.4 506.1L517.3 506.0L518.2 505.9L519.1 505.8L520.0 505.7L520.9 505.5L521.8 505.4L522.7 505.3L523.6 505.2L524.5 505.1L525.4 504.9L526.3 504.8L527.2 504.7L528.1 504.6L529.0 504.5L529.9 504.4L530.8 504.3L531.7 504.2L532.6 504.1L533.5 503.9L534.4 503.7L535.3 503.5L536.2 503.2L537.0 502.8L537.9 502.4L538.7 501.9L539.5 501.5L540.3 500.9L541.0 500.4L541.8 499.9L542.5 499.3L543.3 498.7L544.0 498.1L544.8 497.5L545.5 496.9L546.2 496.2L546.8 495.6L547.5 494.9L548.1 494.2L548.7 493.5L549.3 492.8L549.9 492.0L550.5 491.2L551.0 490.5L551.6 489.8L552.1 489.0L552.7 488.3L553.2 487.5L553.7 486.7L554.2 485.9L554.7 485.1L555.2 484.3L555.7 483.4L556.2 482.7L556.6 481.8L557.1 481.0L557.5 480.2L558.0 479.3L558.4 478.5L558.9 477.6L559.3 476.7L559.7 475.9L560.1 475.0L560.5 474.1L560.9 473.2L561.3 472.3L561.7 471.4L562.1 470.5L562.4 469.7L562.8 468.8L563.1 468.0L563.5 467.1L563.8 466.3L564.2 465.4L564.5 464.5L564.9 463.7L565.2 462.8L565.6 461.9L565.9 461.0L566.3 460.1L566.6 459.2L567.0 458.2L567.3 457.3L567.7 456.4L568.0 455.4L568.4 454.5L568.7 453.6L569.1 452.8L569.4 451.9L569.8 451.0L570.2 450.1L570.6 449.2L571.0 448.3L571.4 447.4L571.8 446.6L572.2 445.7L572.6 444.9L573.1 444.0L573.5 443.2L574.0 442.3L574.4 441.5L574.9 440.7L575.4 439.9L575.9 439.1L576.4 438.3L576.9 437.5L577.5 436.7L578.0 436.0L578.6 435.2L579.2 434.5L579.8 433.8L580.5 433.1L581.1 432.5L581.8 431.9L582.5 431.3L583.3 430.7L584.0 430.2L584.8 429.7L585.6 429.3L586.4 428.8L587.2 428.4L588.1 428.0L588.9 427.7L589.8 427.4L590.7 427.3L591.6 427.4L592.5 427.6L593.4 427.9L594.2 428.4L595.1 428.8L595.9 429.2L596.8 429.5L597.7 429.7L598.6 429.7L599.5 429.5L600.3 429.1L601.1 428.6L601.9 428.1L602.6 427.5L603.3 426.9L604.0 426.2L604.6 425.6L605.3 424.9L605.9 424.2L606.5 423.5L607.0 422.7L607.5 421.9L608.0 421.1L608.4 420.2L608.9 419.3L609.3 418.5L609.7 417.7L610.1 416.8L610.5 416.0L610.9 415.1L611.3 414.2L611.7 413.3L612.0 412.5L612.4 411.6L612.7 410.6L613.1 409.6L613.4 408.8L613.7 407.9L614.0 407.0L614.3 406.1L614.6 405.2L614.9 404.3L615.2 403.4L615.5 402.5L615.8 401.6L616.1 400.7L616.4 399.9L616.7 398.9L617.1 397.9L617.4 397.0L617.8 396.1L618.1 395.2L618.5 394.3L618.8 393.5L619.2 392.6L619.5 391.7L619.9 390.8L620.2 389.9L620.6 389.0L620.9 388.2L621.3 387.3L621.7 386.4L622.1 385.5L622.5 384.6L622.9 383.7L623.3 382.9L623.7 382.0L624.2 381.1L624.6 380.3L625.1 379.5L625.6 378.6L626.1 377.8L626.6 377.1L627.2 376.3L627.7 375.5L628.3 374.8L629.0 374.1L629.6 373.4L630.3 372.7L630.9 372.0L631.6 371.4L632.4 371.0L633.3 370.9L634.2 371.1L635.1 371.4L635.9 371.8L636.7 372.3L637.5 372.9L638.1 373.6L638.6 374.4L639.1 375.2L639.6 376.1L640.0 377.0L640.4 377.8L640.8 378.6L641.2 379.4L641.6 380.3L642.0 381.2L642.4 382.0L642.7 382.9L643.1 383.8L643.4 384.8L643.8 385.8L644.1 386.6L644.4 387.5L644.7 388.4L645.0 389.3L645.3 390.3L645.5 391.2L645.8 392.1L646.0 393.1L646.3 394.1L646.5 395.2L646.8 396.2L647.0 397.3L647.3 398.3L647.5 399.3L647.8 400.3L648.0 401.3L648.3 402.2L648.6 403.2L648.9 404.1L649.2 405.0L649.5 405.9L649.9 406.8L650.2 407.7L650.6 408.6L651.0 409.5L651.4 410.4L651.8 411.4L652.1 412.2L652.5 413.0L652.8 413.9L653.2 414.9L653.5 415.9L653.8 416.8L654.1 417.7L654.4 418.7L654.7 419.7L654.9 420.6L655.2 421.7L655.4 422.6L655.6 423.6L655.8 424.6L656.0 425.6L656.2 426.6L656.4 427.7L656.6 428.8L656.8 429.9L657.0 431.0L657.2 432.1L657.4 433.2L657.6 434.3L657.8 435.3L658.0 436.4L658.2 437.4L658.4 438.5L658.6 439.5L658.8 440.5L659.0 441.5L659.2 442.5L659.4 443.5L659.6 444.5L659.8 445.5L660.0 446.5L660.2 447.5L660.4 448.5L660.6 449.5L660.8 450.5L661.0 451.5L661.2 452.5L661.4 453.5L661.6 454.5L661.8 455.5L662.0 456.5L662.2 457.6L662.4 458.6L662.6 459.6L662.8 460.6L663.0 461.6L663.2 462.6L663.4 463.7L663.6 464.7L663.8 465.7L664.0 466.7L664.2 467.8L664.4 468.8L664.6 469.8L664.8 470.8L665.0 471.8L665.2 472.8L665.4 473.8L665.6 474.7L665.8 475.7L666.0 476.6L666.2 477.6L666.4 478.6L666.6 479.5L666.8 480.5L667.0 481.5L667.2 482.5L667.4 483.4L667.6 484.4L667.8 485.4L668.0 486.3L668.2 487.2L668.4 488.1L668.6 489.2L668.9 490.2L669.1 491.2L669.4 492.1L669.7 493.1L670.0 494.0L670.3 494.9L670.6 495.8L670.9 496.7L671.2 497.6L671.5 498.5L671.9 499.4L672.2 500.3L672.6 501.2L673.0 502.1L673.5 502.9L674.0 503.6L674.7 504.2L675.5 504.7L676.3 505.2L677.1 505.6L677.9 506.0L678.8 506.4L679.7 506.6L680.6 506.8L681.5 507.0L682.4 507.0L683.3 507.1L684.2 507.2L685.1 507.2L686.0 507.2L686.9 507.3L687.8 507.3L688.7 507.3L689.0 507.3" fill="none" stroke="#888" stroke-width="1.05" stroke-dasharray="1.1 1.5" stroke-linejoin="round"/>
<path d="M458.8 507.2L459.7 507.2L460.6 507.2L461.5 507.2L462.4 507.2L463.3 507.2L464.2 507.2L465.1 507.2L466.0 507.2L466.9 507.2L467.8 507.2L468.7 507.2L469.6 507.2L470.5 507.2L471.4 507.2L472.3 507.2L473.2 507.2L474.1 507.1L475.0 507.1L475.9 507.1L476.8 507.1L477.7 507.1L478.6 507.1L479.5 507.1L480.4 507.1L481.3 507.1L482.2 507.1L483.1 507.1L484.0 507.1L484.9 507.1L485.8 507.0L486.7 507.0L487.6 507.0L488.5 507.0L489.4 507.0L490.3 507.0L491.2 507.0L492.1 507.0L493.0 507.0L493.9 506.9L494.8 506.9L495.7 506.9L496.6 506.9L497.5 506.8L498.4 506.8L499.3 506.8L500.2 506.7L501.1 506.7L502.0 506.7L502.9 506.6L503.8 506.6L504.7 506.5L505.6 506.5L506.5 506.4L507.4 506.3L508.3 506.2L509.2 506.1L510.1 505.9L511.0 505.8L511.9 505.7L512.8 505.5L513.7 505.4L514.6 505.3L515.5 505.1L516.4 505.0L517.3 504.9L518.2 504.8L519.1 504.7L520.0 504.6L520.9 504.4L521.8 504.3L522.7 504.1L523.6 504.0L524.5 503.7L525.4 503.5L526.3 503.2L527.1 502.8L528.0 502.4L528.8 501.9L529.6 501.5L530.4 500.9L531.1 500.4L531.9 499.9L532.6 499.3L533.4 498.7L534.1 498.1L534.9 497.5L535.6 496.9L536.3 496.3L536.9 495.6L537.6 495.0L538.2 494.2L538.8 493.6L539.4 492.8L540.0 492.1L540.6 491.3L541.2 490.6L541.7 489.9L542.3 489.1L542.8 488.3L543.3 487.6L543.8 486.7L544.3 485.9L544.8 485.1L545.2 484.3L545.7 483.4L546.1 482.6L546.6 481.7L547.0 480.8L547.4 480.0L547.8 479.1L548.2 478.3L548.6 477.5L549.0 476.6L549.4 475.7L549.8 474.8L550.2 473.8L550.6 473.0L550.9 472.1L551.3 471.3L551.6 470.4L552.0 469.5L552.3 468.6L552.7 467.7L553.0 466.8L553.4 465.9L553.7 465.0L554.1 464.1L554.4 463.1L554.8 462.2L555.1 461.2L555.5 460.3L555.8 459.3L556.1 458.4L556.4 457.6L556.7 456.7L557.0 455.8L557.3 454.9L557.6 454.0L557.9 453.1L558.2 452.2L558.5 451.2L558.8 450.3L559.1 449.3L559.4 448.3L559.7 447.3L560.0 446.2L560.3 445.4L560.5 444.5L560.8 443.6L561.0 442.7L561.3 441.8L561.5 440.9L561.8 440.0L562.0 439.1L562.3 438.1L562.5 437.2L562.8 436.2L563.0 435.2L563.3 434.2L563.5 433.2L563.8 432.2L564.0 431.1L564.3 430.1L564.5 429.0L564.8 428.0L565.0 427.0L565.3 426.0L565.5 425.0L565.8 424.0L566.0 423.0L566.3 422.1L566.5 421.2L566.8 420.3L567.1 419.2L567.4 418.2L567.7 417.2L568.0 416.2L568.3 415.2L568.6 414.2L568.9 413.2L569.2 412.2L569.5 411.3L569.8 410.3L570.1 409.4L570.4 408.5L570.7 407.6L571.0 406.8L571.3 405.8L571.7 404.9L572.0 404.0L572.4 403.1L572.8 402.2L573.2 401.3L573.6 400.4L574.0 399.5L574.4 398.7L574.8 397.8L575.2 397.0L575.6 396.2L576.1 395.3L576.7 394.6L577.3 393.9L578.1 393.4L579.0 393.0L579.8 392.7L580.7 392.5L581.6 392.5L582.5 392.8L583.3 393.4L584.0 394.0L584.6 394.6L585.3 395.3L585.9 396.0L586.5 396.7L587.0 397.5L587.5 398.3L587.9 399.1L588.3 400.0L588.7 400.8L589.1 401.7L589.5 402.6L589.9 403.5L590.3 404.4L590.7 405.3L591.1 406.1L591.5 407.0L591.9 408.0L592.3 408.8L592.6 409.7L593.0 410.6L593.3 411.5L593.7 412.3L594.0 413.1L594.4 414.1L594.8 414.9L595.3 415.8L595.8 416.6L596.3 417.3L596.8 418.1L597.3 418.9L597.8 419.7L598.4 420.4L599.0 421.1L599.8 421.7L600.7 421.9L601.6 421.7L602.4 421.3L603.2 420.8L603.9 420.2L604.6 419.6L605.3 418.9L605.9 418.3L606.6 417.6L607.3 417.0L607.9 416.2L608.5 415.5L609.1 414.8L609.6 414.0L610.2 413.2L610.7 412.4L611.2 411.6L611.7 410.8L612.1 410.0L612.6 409.2L613.0 408.4L613.5 407.5L613.9 406.6L614.3 405.7L614.7 404.8L615.0 403.9L615.4 403.0L615.7 402.1L616.1 401.1L616.4 400.2L616.7 399.3L617.0 398.4L617.3 397.5L617.6 396.5L617.8 395.6L618.1 394.6L618.3 393.6L618.6 392.6L618.8 391.5L619.0 390.6L619.2 389.6L619.4 388.7L619.6 387.8L619.8 386.8L620.0 385.8L620.2 384.8L620.4 383.9L620.6 382.9L620.8 381.9L621.0 380.9L621.2 379.9L621.4 379.0L621.6 378.0L621.8 377.1L622.0 376.2L622.2 375.2L622.4 374.3L622.6 373.3L622.8 372.3L623.0 371.3L623.2 370.2L623.4 369.2L623.6 368.1L623.8 367.0L624.0 366.0L624.2 364.9L624.4 363.8L624.6 362.8L624.8 361.8L625.0 360.8L625.2 359.9L625.4 359.0L625.7 357.9L625.9 356.9L626.2 356.0L626.5 355.1L626.8 354.2L627.3 353.3L627.7 352.5L628.2 351.6L628.7 350.8L629.2 350.0L629.8 349.3L630.6 348.7L631.5 348.6L632.3 349.1L633.0 349.7L633.6 350.4L634.2 351.2L634.7 351.9L635.3 352.7L635.8 353.5L636.2 354.4L636.6 355.2L637.0 356.1L637.4 357.0L637.7 357.9L638.1 358.8L638.4 359.8L638.8 360.8L639.1 361.6L639.4 362.5L639.7 363.5L640.0 364.4L640.3 365.4L640.5 366.3L640.8 367.2L641.0 368.1L641.3 369.0L641.5 370.0L641.8 370.9L642.0 371.9L642.3 372.9L642.5 373.9L642.8 374.9L643.0 375.9L643.3 376.9L643.5 377.9L643.8 378.9L644.0 380.0L644.3 381.0L644.5 382.1L644.7 383.0L644.9 383.9L645.1 384.8L645.3 385.7L645.5 386.6L645.7 387.5L645.9 388.5L646.1 389.4L646.3 390.3L646.5 391.3L646.7 392.2L646.9 393.2L647.1 394.1L647.3 395.0L647.5 396.0L647.7 397.0L647.9 398.0L648.1 399.0L648.3 400.1L648.5 401.2L648.7 402.3L648.9 403.4L649.1 404.5L649.3 405.6L649.5 406.6L649.7 407.6L649.9 408.6L650.1 409.4L650.4 410.5L650.6 411.3L650.9 412.3L651.3 413.3L651.6 414.1L652.0 415.1L652.4 416.0L652.8 416.9L653.1 417.8L653.4 418.8L653.7 419.6L653.9 420.6L654.2 421.7L654.4 422.6L654.6 423.5L654.8 424.5L655.0 425.5L655.2 426.6L655.4 427.6L655.6 428.7L655.8 429.8L656.0 430.9L656.2 432.0L656.4 433.1L656.6 434.2L656.8 435.3L657.0 436.4L657.2 437.4L657.4 438.5L657.6 439.5L657.8 440.5L658.0 441.5L658.2 442.5L658.4 443.5L658.6 444.5L658.8 445.5L659.0 446.5L659.2 447.5L659.4 448.5L659.6 449.5L659.8 450.5L660.0 451.5L660.2 452.5L660.4 453.5L660.6 454.5L660.8 455.5L661.0 456.5L661.2 457.6L661.4 458.6L661.6 459.6L661.8 460.6L662.0 461.6L662.2 462.6L662.4 463.7L662.6 464.7L662.8 465.7L663.0 466.7L663.2 467.8L663.4 468.8L663.6 469.8L663.8 470.8L664.0 471.8L664.2 472.8L664.4 473.8L664.6 474.7L664.8 475.7L665.0 476.6L665.2 477.6L665.4 478.6L665.6 479.5L665.8 480.5L666.0 481.5L666.2 482.5L666.4 483.4L666.6 484.4L666.8 485.4L667.0 486.3L667.2 487.2L667.4 488.1L667.6 489.2L667.9 490.2L668.1 491.2L668.4 492.1L668.7 493.1L669.0 494.0L669.3 494.9L669.6 495.8L669.9 496.7L670.2 497.6L670.5 498.5L670.9 499.5L671.2 500.3L671.6 501.3L672.0 502.1L672.5 502.9L673.0 503.6L673.7 504.2L674.5 504.7L675.3 505.2L676.2 505.6L677.0 506.0L677.9 506.3L678.8 506.6L679.7 506.8L680.6 506.9L681.5 507.0L682.4 507.1L683.3 507.1L684.2 507.2L685.1 507.2L686.0 507.2L686.9 507.3L687.8 507.3L688.7 507.3L689.0 507.3" fill="none" stroke="#555" stroke-width="1" stroke-dasharray="4.5 2 1.6 2.5" stroke-linejoin="round"/>
<path d="M458.8 507.2L459.7 507.2L460.6 507.2L461.5 507.2L462.4 507.2L463.3 507.2L464.2 507.2L465.1 507.2L466.0 507.2L466.9 507.2L467.8 507.2L468.7 507.2L469.6 507.2L470.5 507.2L471.4 507.2L472.3 507.2L473.2 507.1L474.1 507.1L475.0 507.1L475.9 507.1L476.8 507.1L477.7 507.1L478.6 507.1L479.5 507.1L480.4 507.1L481.3 507.1L482.2 507.1L483.1 507.1L484.0 507.1L484.9 507.0L485.8 507.0L486.7 507.0L487.6 507.0L488.5 507.0L489.4 507.0L490.3 507.0L491.2 507.0L492.1 506.9L493.0 506.9L493.9 506.9L494.8 506.9L495.7 506.9L496.6 506.9L497.5 506.9L498.4 506.9L499.3 506.9L500.2 506.9L501.1 506.9L502.0 506.8L502.9 506.8L503.8 506.8L504.7 506.8L505.6 506.8L506.5 506.7L507.4 506.7L508.3 506.6L509.2 506.5L510.1 506.4L511.0 506.3L511.9 506.1L512.8 506.0L513.7 505.8L514.6 505.6L515.5 505.5L516.4 505.2L517.3 505.0L518.2 504.7L519.1 504.3L519.9 504.0L520.8 503.6L521.6 503.2L522.5 502.8L523.3 502.4L524.1 501.9L524.9 501.5L525.7 500.9L526.5 500.4L527.2 499.8L528.0 499.2L528.7 498.6L529.4 498.0L530.1 497.4L530.7 496.7L531.4 496.0L532.0 495.3L532.6 494.6L533.1 493.8L533.7 493.1L534.2 492.3L534.8 491.5L535.3 490.8L535.8 489.9L536.3 489.1L536.7 488.3L537.2 487.4L537.6 486.6L538.1 485.7L538.5 484.8L539.0 483.9L539.4 483.0L539.9 482.1L540.3 481.2L540.7 480.4L541.1 479.5L541.5 478.7L541.9 477.8L542.3 476.9L542.7 476.0L543.0 475.2L543.4 474.2L543.7 473.2L544.0 472.3L544.3 471.4L544.6 470.4L544.9 469.5L545.1 468.6L545.4 467.7L545.6 466.8L545.9 465.9L546.1 465.0L546.4 464.1L546.6 463.3L546.9 462.4L547.1 461.5L547.4 460.6L547.6 459.7L547.9 458.8L548.1 457.9L548.4 457.0L548.6 456.1L548.9 455.2L549.1 454.3L549.4 453.3L549.6 452.3L549.9 451.3L550.1 450.3L550.4 449.3L550.6 448.3L550.9 447.3L551.1 446.2L551.4 445.2L551.6 444.1L551.9 443.1L552.1 442.1L552.4 441.1L552.6 440.1L552.9 439.1L553.1 438.2L553.4 437.2L553.6 436.3L553.9 435.3L554.1 434.3L554.4 433.3L554.6 432.3L554.9 431.3L555.1 430.2L555.4 429.1L555.6 428.2L555.8 427.3L556.0 426.4L556.2 425.4L556.4 424.4L556.6 423.4L556.8 422.4L557.0 421.4L557.2 420.4L557.4 419.4L557.6 418.4L557.8 417.4L558.0 416.4L558.2 415.3L558.4 414.3L558.6 413.4L558.8 412.4L559.0 411.4L559.2 410.4L559.4 409.3L559.6 408.3L559.8 407.3L560.0 406.3L560.2 405.3L560.4 404.3L560.6 403.2L560.8 402.2L561.0 401.2L561.2 400.2L561.4 399.2L561.6 398.2L561.8 397.2L562.0 396.2L562.2 395.2L562.4 394.2L562.6 393.2L562.8 392.3L563.0 391.3L563.2 390.3L563.4 389.4L563.6 388.4L563.8 387.5L564.0 386.5L564.2 385.6L564.4 384.7L564.6 383.7L564.8 382.8L565.0 381.8L565.2 380.9L565.4 380.0L565.6 379.1L565.8 378.1L566.0 377.2L566.2 376.3L566.4 375.4L566.6 374.6L566.8 373.5L567.1 372.4L567.3 371.3L567.6 370.3L567.8 369.3L568.1 368.3L568.3 367.3L568.6 366.3L568.8 365.4L569.1 364.4L569.3 363.5L569.6 362.5L569.8 361.6L570.1 360.7L570.3 359.8L570.6 358.9L570.8 358.0L571.1 357.0L571.4 355.9L571.7 355.0L572.0 354.0L572.3 353.1L572.6 352.2L572.9 351.3L573.2 350.4L573.5 349.6L573.8 348.7L574.1 347.8L574.4 347.0L574.8 346.0L575.1 345.1L575.5 344.2L575.9 343.3L576.3 342.4L576.8 341.6L577.4 340.9L578.1 340.2L578.7 339.6L579.4 339.0L580.2 338.6L581.1 338.4L582.0 338.7L582.7 339.3L583.4 340.0L584.0 340.8L584.5 341.6L585.1 342.4L585.5 343.3L585.9 344.1L586.2 345.1L586.5 346.0L586.8 346.9L587.1 347.9L587.4 348.9L587.7 349.8L587.9 350.7L588.2 351.6L588.4 352.4L588.7 353.3L588.9 354.3L589.2 355.2L589.4 356.3L589.7 357.3L589.9 358.4L590.1 359.3L590.3 360.2L590.5 361.1L590.7 362.0L590.9 363.0L591.1 363.9L591.3 364.8L591.5 365.8L591.7 366.7L591.9 367.6L592.1 368.5L592.3 369.4L592.5 370.3L592.7 371.3L592.9 372.2L593.1 373.2L593.3 374.1L593.5 375.1L593.7 376.0L593.9 377.0L594.1 377.9L594.3 378.9L594.5 379.8L594.7 380.8L594.9 381.7L595.1 382.6L595.3 383.5L595.5 384.4L595.8 385.5L596.0 386.6L596.2 387.5L596.4 388.4L596.6 389.3L596.8 390.1L597.0 391.0L597.3 392.1L597.5 393.2L597.8 394.2L598.0 395.2L598.3 396.2L598.5 397.1L598.8 398.0L599.1 399.0L599.4 399.8L599.7 400.8L600.1 401.8L600.4 402.7L600.8 403.7L601.1 404.5L601.5 405.4L602.0 406.3L602.5 407.0L603.2 407.7L603.9 408.2L604.8 408.6L605.7 408.7L606.5 408.2L607.2 407.7L607.9 407.0L608.5 406.3L609.1 405.5L609.6 404.7L610.0 403.9L610.4 403.0L610.8 402.2L611.1 401.3L611.5 400.3L611.8 399.3L612.1 398.5L612.4 397.6L612.7 396.7L613.0 395.7L613.3 394.8L613.5 393.9L613.8 392.9L614.0 391.9L614.3 390.9L614.5 389.8L614.8 388.7L615.0 387.6L615.3 386.5L615.5 385.5L615.8 384.4L616.0 383.3L616.3 382.3L616.5 381.2L616.8 380.1L617.0 379.0L617.2 378.1L617.4 377.3L617.6 376.4L617.8 375.5L618.0 374.6L618.2 373.7L618.4 372.8L618.6 371.9L618.9 370.8L619.1 369.8L619.4 368.7L619.6 367.7L619.9 366.7L620.1 365.7L620.4 364.7L620.6 363.6L620.9 362.6L621.1 361.6L621.4 360.6L621.6 359.6L621.9 358.6L622.1 357.7L622.4 356.8L622.7 355.8L623.0 354.9L623.3 354.0L623.7 353.2L624.1 352.2L624.5 351.3L624.9 350.5L625.3 349.7L625.8 348.8L626.4 348.0L627.0 347.4L627.6 346.7L628.3 346.1L629.1 345.5L629.9 345.1L630.8 345.0L631.7 345.4L632.4 346.0L633.0 346.7L633.6 347.4L634.2 348.1L634.7 348.9L635.2 349.8L635.6 350.8L635.9 351.7L636.3 352.6L636.6 353.5L636.9 354.4L637.2 355.3L637.5 356.2L637.8 357.2L638.1 358.1L638.4 359.0L638.7 360.0L639.0 360.9L639.3 361.8L639.6 362.8L639.9 363.8L640.2 364.8L640.5 365.8L640.7 366.7L641.0 367.6L641.2 368.5L641.5 369.4L641.7 370.3L642.0 371.3L642.2 372.2L642.5 373.2L642.7 374.2L643.0 375.2L643.2 376.2L643.5 377.2L643.7 378.3L644.0 379.3L644.2 380.2L644.4 381.1L644.6 382.0L644.8 383.0L645.0 383.9L645.2 384.8L645.4 385.8L645.6 386.8L645.8 387.8L646.0 388.8L646.2 389.8L646.4 390.7L646.6 391.8L646.8 392.8L647.0 393.8L647.2 394.8L647.4 395.8L647.6 396.8L647.8 397.8L648.0 398.8L648.2 399.8L648.4 400.7L648.6 401.7L648.8 402.7L649.0 403.7L649.2 404.7L649.4 405.7L649.6 406.7L649.8 407.7L650.0 408.7L650.2 409.7L650.4 410.8L650.6 411.8L650.8 412.8L651.0 413.8L651.2 414.8L651.4 415.8L651.6 416.8L651.8 417.8L652.0 418.8L652.2 419.9L652.4 420.9L652.6 421.9L652.8 422.9L653.0 423.9L653.2 424.9L653.4 425.9L653.6 426.9L653.8 427.9L654.0 428.9L654.2 429.9L654.4 430.9L654.6 431.9L654.8 432.9L655.0 433.9L655.2 434.9L655.4 435.9L655.6 436.9L655.8 437.9L656.0 439.0L656.2 440.0L656.4 441.0L656.6 442.0L656.8 443.0L657.0 444.0L657.2 445.0L657.4 446.0L657.6 447.0L657.8 448.0L658.0 449.0L658.2 450.0L658.4 451.0L658.6 452.0L658.8 453.0L659.0 454.0L659.2 455.0L659.4 456.0L659.6 457.0L659.8 458.1L660.0 459.1L660.2 460.1L660.4 461.1L660.6 462.1L660.8 463.2L661.0 464.2L661.2 465.2L661.4 466.2L661.6 467.3L661.8 468.3L662.0 469.3L662.2 470.3L662.4 471.3L662.6 472.3L662.8 473.3L663.0 474.3L663.2 475.2L663.4 476.2L663.6 477.1L663.8 478.1L664.0 479.0L664.2 480.0L664.4 481.0L664.6 482.0L664.8 483.0L665.0 483.9L665.2 484.9L665.4 485.8L665.6 486.8L665.8 487.7L666.0 488.6L666.2 489.6L666.5 490.6L666.7 491.6L667.0 492.5L667.3 493.4L667.6 494.3L667.9 495.2L668.2 496.1L668.5 497.0L668.8 497.8L669.1 498.8L669.5 499.7L669.8 500.6L670.2 501.5L670.7 502.4L671.2 503.2L671.8 503.9L672.5 504.4L673.3 504.9L674.1 505.4L675.0 505.8L675.8 506.1L676.7 506.4L677.6 506.7L678.5 506.9L679.4 507.0L680.3 507.0L681.2 507.1L682.1 507.2L683.0 507.2L683.9 507.2L684.8 507.3L685.7 507.3L686.6 507.3L687.3 507.3" fill="none" stroke="#000" stroke-width="1.95" stroke-linejoin="round"/>
<path d="M869.8 507.3L870.7 507.3L871.6 507.3L872.5 507.3L873.4 507.3L874.3 507.3L875.2 507.3L876.1 507.3L877.0 507.3L877.9 507.3L878.8 507.3L879.7 507.3L880.6 507.3L881.5 507.3L882.4 507.3L883.3 507.3L884.2 507.3L885.1 507.3L886.0 507.2L886.9 507.2L887.8 507.2L888.7 507.2L889.6 507.2L890.5 507.2L891.4 507.2L892.3 507.2L893.2 507.2L894.1 507.2L895.0 507.2L895.9 507.2L896.8 507.2L897.7 507.1L898.6 507.1L899.5 507.1L900.4 507.1L901.3 507.1L902.2 507.1L903.1 507.1L904.0 507.1L904.9 507.1L905.8 507.1L906.7 507.0L907.6 507.0L908.5 507.0L909.4 507.0L910.3 507.0L911.2 507.0L912.1 507.0L913.0 506.9L913.9 506.9L914.8 506.9L915.7 506.9L916.6 506.9L917.5 506.8L918.4 506.8L919.3 506.8L920.2 506.7L921.1 506.7L922.0 506.6L922.9 506.6L923.8 506.6L924.7 506.5L925.6 506.5L926.5 506.4L927.4 506.3L928.3 506.3L929.2 506.2L930.1 506.1L931.0 506.0L931.9 505.9L932.8 505.8L933.7 505.7L934.6 505.5L935.5 505.4L936.4 505.3L937.3 505.2L938.2 505.1L939.1 505.0L940.0 504.9L940.9 504.7L941.8 504.6L942.7 504.3L943.6 504.1L944.5 503.8L945.3 503.5L946.2 503.2L947.0 502.8L947.9 502.5L948.7 502.1L949.6 501.7L950.4 501.2L951.2 500.8L952.0 500.4L952.8 499.9L953.6 499.5L954.4 499.0L955.1 498.4L955.9 497.8L956.6 497.2L957.3 496.6L958.0 495.9L958.7 495.3L959.3 494.6L960.0 494.0L960.6 493.4L961.3 492.7L961.9 492.1L962.6 491.4L963.3 490.8L964.0 490.1L964.7 489.5L965.3 488.9L966.0 488.2L966.6 487.6L967.3 486.9L967.9 486.3L968.6 485.6L969.2 485.0L969.9 484.3L970.5 483.6L971.2 483.0L971.8 482.3L972.5 481.7L973.1 481.0L973.8 480.3L974.4 479.5L975.1 478.9L975.7 478.2L976.4 477.5L977.1 476.9L977.8 476.3L978.5 475.7L979.3 475.1L980.0 474.6L980.8 474.1L981.6 473.6L982.4 473.1L983.2 472.7L984.1 472.3L985.0 472.0L985.9 471.7L986.8 471.4L987.7 471.2L988.6 471.1L989.5 471.1L990.4 471.3L991.3 471.6L992.1 471.9L993.0 472.3L993.8 472.7L994.6 473.2L995.4 473.7L996.1 474.3L996.8 474.9L997.5 475.6L998.2 476.2L998.9 476.8L999.6 477.4L1000.3 477.9L1001.0 478.5L1001.7 479.1L1002.5 479.7L1003.2 480.2L1004.0 480.7L1004.8 481.2L1005.6 481.7L1006.5 482.1L1007.4 482.4L1008.3 482.6L1009.2 482.8L1010.1 483.0L1011.0 483.2L1011.9 483.3L1012.8 483.4L1013.7 483.5L1014.6 483.5L1015.5 483.5L1016.5 483.5L1017.4 483.5L1018.4 483.5L1019.3 483.5L1020.3 483.5L1021.2 483.5L1022.1 483.4L1023.0 483.2L1023.9 483.0L1024.8 482.8L1025.7 482.6L1026.6 482.5L1027.5 482.5L1028.4 482.6L1029.3 482.7L1030.2 482.9L1031.1 483.0L1032.0 483.2L1032.9 483.4L1033.8 483.7L1034.6 484.1L1035.5 484.5L1036.3 485.0L1037.0 485.6L1037.6 486.3L1038.3 487.0L1038.9 487.7L1039.5 488.4L1040.1 489.1L1040.6 489.9L1041.2 490.6L1041.7 491.4L1042.3 492.2L1042.8 492.9L1043.4 493.7L1043.9 494.5L1044.5 495.2L1045.0 496.0L1045.6 496.7L1046.2 497.5L1046.8 498.2L1047.4 498.9L1048.0 499.6L1048.6 500.3L1049.2 501.0L1049.9 501.7L1050.5 502.4L1051.2 503.1L1051.8 503.7L1052.5 504.4L1053.2 505.0L1053.9 505.5L1054.7 506.0L1055.5 506.5L1056.4 506.8L1057.3 507.0L1058.2 507.2L1059.1 507.3L1060.0 507.4L1060.9 507.4L1061.8 507.5L1062.7 507.5L1063.6 507.5L1064.6 507.5L1065.5 507.5L1066.5 507.5L1067.4 507.5L1068.4 507.5L1069.3 507.5L1070.3 507.5L1070.7 507.5" fill="none" stroke="#555" stroke-width="1" stroke-linejoin="round"/>
<path d="M869.8 507.3L870.7 507.3L871.6 507.3L872.5 507.3L873.4 507.3L874.3 507.3L875.2 507.3L876.1 507.3L877.0 507.3L877.9 507.3L878.8 507.3L879.7 507.3L880.6 507.3L881.5 507.3L882.4 507.3L883.3 507.3L884.2 507.2L885.1 507.2L886.0 507.2L886.9 507.2L887.8 507.2L888.7 507.2L889.6 507.2L890.5 507.2L891.4 507.2L892.3 507.2L893.2 507.2L894.1 507.2L895.0 507.1L895.9 507.1L896.8 507.1L897.7 507.1L898.6 507.1L899.5 507.1L900.4 507.1L901.3 507.1L902.2 507.0L903.1 507.0L904.0 507.0L904.9 507.0L905.8 507.0L906.7 507.0L907.6 506.9L908.5 506.9L909.4 506.9L910.3 506.8L911.2 506.8L912.1 506.8L913.0 506.7L913.9 506.7L914.8 506.6L915.7 506.5L916.6 506.5L917.5 506.4L918.4 506.3L919.3 506.3L920.2 506.2L921.1 506.1L922.0 505.9L922.9 505.8L923.8 505.6L924.7 505.4L925.6 505.1L926.5 504.9L927.4 504.7L928.3 504.4L929.2 504.2L930.1 504.0L931.0 503.8L931.9 503.6L932.8 503.4L933.7 503.2L934.6 502.9L935.5 502.7L936.4 502.5L937.3 502.3L938.2 502.0L939.1 501.7L940.0 501.4L940.8 501.1L941.7 500.7L942.5 500.3L943.3 499.9L944.1 499.3L944.9 498.8L945.6 498.3L946.4 497.7L947.1 497.1L947.8 496.5L948.5 495.8L949.2 495.2L949.9 494.5L950.5 493.9L951.2 493.3L951.8 492.6L952.5 492.0L953.1 491.4L953.8 490.7L954.4 490.0L955.1 489.3L955.7 488.6L956.3 487.9L956.9 487.1L957.5 486.4L958.1 485.6L958.6 484.9L959.2 484.2L959.7 483.5L960.3 482.7L960.8 482.0L961.4 481.2L961.9 480.4L962.5 479.7L963.0 478.9L963.6 478.1L964.1 477.3L964.7 476.5L965.2 475.8L965.7 475.0L966.2 474.2L966.7 473.4L967.2 472.6L967.7 471.9L968.2 471.1L968.7 470.2L969.2 469.4L969.7 468.6L970.2 467.8L970.7 467.0L971.2 466.2L971.7 465.4L972.1 464.6L972.6 463.8L973.0 462.9L973.5 462.1L973.9 461.2L974.4 460.4L974.8 459.5L975.3 458.7L975.7 457.9L976.2 457.0L976.7 456.2L977.3 455.4L977.8 454.7L978.5 454.0L979.1 453.3L979.8 452.7L980.4 452.0L981.1 451.3L981.8 450.7L982.6 450.2L983.4 449.7L984.3 449.4L985.2 449.4L986.1 449.6L986.9 449.9L987.8 450.3L988.6 450.8L989.4 451.3L990.0 452.0L990.6 452.7L991.1 453.5L991.6 454.3L992.0 455.1L992.5 455.9L992.9 456.7L993.4 457.5L993.9 458.3L994.3 459.2L994.8 460.1L995.2 460.9L995.6 461.7L996.0 462.6L996.4 463.4L996.8 464.3L997.2 465.1L997.6 466.0L998.0 466.8L998.4 467.7L998.8 468.5L999.2 469.4L999.7 470.2L1000.1 471.0L1000.6 471.9L1001.1 472.7L1001.6 473.6L1002.1 474.4L1002.6 475.3L1003.1 476.1L1003.6 476.8L1004.2 477.6L1004.7 478.3L1005.3 479.0L1006.0 479.7L1006.7 480.3L1007.4 480.9L1008.1 481.5L1008.9 482.0L1009.8 482.4L1010.6 482.8L1011.5 483.1L1012.4 483.4L1013.3 483.6L1014.2 483.8L1015.1 483.8L1016.0 483.8L1016.9 483.8L1017.8 483.7L1018.7 483.7L1019.6 483.7L1020.5 483.6L1021.4 483.5L1022.3 483.4L1023.2 483.2L1024.1 483.0L1025.0 482.9L1025.9 482.8L1026.8 482.7L1027.7 482.7L1028.6 482.8L1029.5 482.9L1030.4 483.0L1031.3 483.2L1032.2 483.4L1033.1 483.6L1034.0 483.9L1034.8 484.2L1035.7 484.6L1036.4 485.1L1037.1 485.8L1037.8 486.4L1038.4 487.1L1039.1 487.8L1039.7 488.6L1040.2 489.3L1040.8 490.1L1041.3 490.8L1041.9 491.6L1042.4 492.4L1043.0 493.1L1043.5 493.9L1044.1 494.7L1044.6 495.4L1045.2 496.2L1045.7 496.9L1046.3 497.7L1046.9 498.4L1047.5 499.1L1048.1 499.8L1048.7 500.5L1049.4 501.2L1050.0 501.8L1050.7 502.5L1051.3 503.2L1052.0 503.9L1052.7 504.5L1053.4 505.1L1054.1 505.6L1054.9 506.1L1055.7 506.6L1056.6 506.9L1057.5 507.1L1058.4 507.2L1059.3 507.3L1060.2 507.4L1061.1 507.5L1062.0 507.5L1062.9 507.5L1063.8 507.5L1064.8 507.5L1065.7 507.5L1066.7 507.5L1067.6 507.5L1068.6 507.5L1069.5 507.5L1070.5 507.5L1070.7 507.5" fill="none" stroke="#555" stroke-width="1.1" stroke-dasharray="6 4" stroke-linejoin="round"/>
<path d="M869.8 507.3L870.7 507.3L871.6 507.3L872.5 507.3L873.4 507.3L874.3 507.3L875.2 507.3L876.1 507.3L877.0 507.3L877.9 507.3L878.8 507.3L879.7 507.3L880.6 507.3L881.5 507.3L882.4 507.2L883.3 507.2L884.2 507.2L885.1 507.2L886.0 507.2L886.9 507.2L887.8 507.2L888.7 507.2L889.6 507.2L890.5 507.2L891.4 507.1L892.3 507.1L893.2 507.1L894.1 507.1L895.0 507.1L895.9 507.1L896.8 507.1L897.7 507.0L898.6 507.0L899.5 507.0L900.4 507.0L901.3 507.0L902.2 506.9L903.1 506.9L904.0 506.9L904.9 506.8L905.8 506.8L906.7 506.7L907.6 506.7L908.5 506.6L909.4 506.5L910.3 506.4L911.2 506.4L912.1 506.3L913.0 506.2L913.9 506.1L914.8 506.0L915.7 505.9L916.6 505.8L917.5 505.7L918.4 505.5L919.3 505.3L920.2 505.1L921.1 504.9L922.0 504.7L922.9 504.5L923.8 504.3L924.7 504.1L925.6 503.9L926.5 503.6L927.4 503.4L928.3 503.2L929.2 503.0L930.1 502.7L931.0 502.5L931.9 502.2L932.8 501.9L933.6 501.6L934.5 501.3L935.3 500.9L936.1 500.5L936.9 500.0L937.7 499.5L938.4 498.9L939.1 498.3L939.8 497.7L940.5 497.1L941.2 496.4L941.8 495.8L942.5 495.1L943.1 494.4L943.8 493.7L944.4 493.0L945.1 492.3L945.7 491.6L946.3 490.9L946.9 490.2L947.5 489.5L948.0 488.7L948.6 488.0L949.1 487.2L949.7 486.4L950.2 485.6L950.7 484.8L951.2 484.1L951.7 483.3L952.2 482.5L952.7 481.6L953.2 480.8L953.7 480.0L954.2 479.1L954.7 478.3L955.2 477.4L955.7 476.6L956.2 475.8L956.6 475.0L957.1 474.1L957.5 473.3L958.0 472.4L958.4 471.6L958.9 470.7L959.3 469.8L959.7 469.0L960.1 468.2L960.5 467.3L960.9 466.5L961.3 465.7L961.7 464.8L962.1 464.0L962.5 463.1L962.9 462.3L963.3 461.4L963.7 460.5L964.1 459.7L964.5 458.7L964.9 457.8L965.3 457.0L965.6 456.1L966.0 455.3L966.3 454.4L966.7 453.6L967.0 452.8L967.4 451.8L967.8 450.9L968.2 450.0L968.6 449.2L969.0 448.4L969.5 447.5L969.9 446.6L970.4 445.7L970.8 444.9L971.3 444.1L971.7 443.2L972.2 442.4L972.6 441.6L973.1 440.8L973.5 440.0L974.0 439.1L974.4 438.2L974.9 437.4L975.3 436.6L975.8 435.8L976.3 434.9L976.8 434.1L977.3 433.3L977.9 432.6L978.5 431.8L979.2 431.2L979.8 430.5L980.5 429.9L981.2 429.2L981.9 428.6L982.6 428.1L983.4 427.7L984.3 427.4L985.2 427.4L986.1 427.7L987.0 428.1L987.8 428.6L988.6 429.1L989.3 429.7L989.9 430.4L990.4 431.1L990.9 431.9L991.4 432.7L991.9 433.5L992.4 434.4L992.8 435.3L993.1 436.1L993.5 437.0L993.8 437.9L994.2 438.8L994.5 439.8L994.9 440.7L995.2 441.7L995.6 442.7L995.9 443.5L996.2 444.4L996.5 445.3L996.8 446.3L997.1 447.2L997.4 448.2L997.7 449.1L998.0 450.1L998.3 451.1L998.6 452.0L998.9 453.0L999.2 454.0L999.5 454.9L999.8 455.9L1000.1 456.8L1000.4 457.7L1000.7 458.7L1001.0 459.6L1001.3 460.6L1001.6 461.6L1001.9 462.6L1002.2 463.5L1002.5 464.5L1002.8 465.5L1003.1 466.5L1003.4 467.4L1003.7 468.4L1004.0 469.3L1004.3 470.1L1004.6 471.1L1005.0 472.0L1005.3 472.9L1005.7 473.8L1006.1 474.6L1006.5 475.5L1006.9 476.3L1007.4 477.2L1007.8 478.1L1008.3 478.8L1008.8 479.6L1009.4 480.4L1010.1 481.0L1010.9 481.5L1011.7 481.9L1012.5 482.3L1013.4 482.7L1014.3 482.9L1015.2 483.0L1016.1 483.1L1017.0 483.2L1017.9 483.2L1018.8 483.3L1019.7 483.3L1020.6 483.3L1021.5 483.3L1022.4 483.2L1023.3 483.1L1024.2 482.9L1025.1 482.8L1026.0 482.7L1026.9 482.7L1027.8 482.7L1028.7 482.8L1029.6 482.9L1030.5 483.1L1031.4 483.2L1032.3 483.4L1033.2 483.6L1034.1 483.9L1034.9 484.2L1035.8 484.7L1036.5 485.2L1037.2 485.9L1037.9 486.5L1038.5 487.2L1039.2 488.0L1039.8 488.7L1040.3 489.4L1040.9 490.2L1041.4 491.0L1042.0 491.8L1042.5 492.5L1043.1 493.3L1043.6 494.0L1044.2 494.8L1044.7 495.6L1045.3 496.3L1045.8 497.0L1046.4 497.8L1047.0 498.5L1047.6 499.2L1048.2 499.9L1048.9 500.6L1049.5 501.3L1050.2 502.0L1050.8 502.7L1051.5 503.4L1052.1 504.0L1052.8 504.7L1053.6 505.3L1054.4 505.8L1055.2 506.3L1056.0 506.7L1056.9 507.0L1057.8 507.1L1058.7 507.2L1059.6 507.3L1060.5 507.4L1061.4 507.5L1062.3 507.5L1063.2 507.5L1064.2 507.5L1065.1 507.5L1066.1 507.5L1067.0 507.5L1068.0 507.5L1068.9 507.5L1069.9 507.5L1070.7 507.5" fill="none" stroke="#888" stroke-width="1.05" stroke-dasharray="1.1 1.5" stroke-linejoin="round"/>
<path d="M869.8 507.3L870.7 507.3L871.6 507.3L872.5 507.3L873.4 507.3L874.3 507.3L875.2 507.3L876.1 507.3L877.0 507.3L877.9 507.3L878.8 507.3L879.7 507.2L880.6 507.2L881.5 507.2L882.4 507.2L883.3 507.2L884.2 507.2L885.1 507.2L886.0 507.2L886.9 507.2L887.8 507.1L888.7 507.1L889.6 507.1L890.5 507.1L891.4 507.1L892.3 507.1L893.2 507.0L894.1 507.0L895.0 507.0L895.9 507.0L896.8 507.0L897.7 506.9L898.6 506.9L899.5 506.8L900.4 506.8L901.3 506.7L902.2 506.7L903.1 506.6L904.0 506.6L904.9 506.5L905.8 506.4L906.7 506.3L907.6 506.2L908.5 506.2L909.4 506.1L910.3 506.0L911.2 505.8L912.1 505.7L913.0 505.5L913.9 505.3L914.8 505.1L915.7 504.8L916.6 504.6L917.5 504.3L918.4 504.0L919.3 503.7L920.2 503.4L921.1 503.2L922.0 502.9L922.9 502.6L923.8 502.3L924.6 502.0L925.5 501.6L926.3 501.3L927.2 500.9L928.0 500.5L928.9 500.1L929.7 499.7L930.5 499.2L931.3 498.7L932.0 498.2L932.8 497.6L933.5 497.0L934.1 496.3L934.8 495.6L935.4 494.8L936.0 494.1L936.5 493.4L937.1 492.6L937.6 491.8L938.2 491.0L938.7 490.2L939.2 489.5L939.7 488.7L940.2 487.9L940.7 487.1L941.2 486.4L941.7 485.5L942.2 484.8L942.6 483.9L943.1 483.1L943.5 482.2L944.0 481.3L944.4 480.5L944.8 479.7L945.2 478.8L945.6 478.0L946.0 477.1L946.4 476.3L946.8 475.4L947.2 474.5L947.6 473.7L948.0 472.8L948.4 472.0L948.8 471.2L949.2 470.3L949.6 469.5L950.0 468.6L950.4 467.8L950.8 467.0L951.2 466.1L951.6 465.2L952.0 464.4L952.4 463.5L952.8 462.6L953.2 461.8L953.6 460.9L954.0 460.0L954.4 459.1L954.8 458.1L955.2 457.2L955.6 456.3L955.9 455.4L956.3 454.6L956.6 453.7L957.0 452.8L957.3 451.9L957.7 451.0L958.0 450.1L958.4 449.2L958.7 448.3L959.1 447.4L959.4 446.5L959.8 445.5L960.1 444.6L960.5 443.7L960.8 442.8L961.2 441.9L961.5 441.0L961.9 440.0L962.2 439.1L962.6 438.2L962.9 437.2L963.3 436.3L963.6 435.4L964.0 434.4L964.3 433.5L964.7 432.6L965.0 431.7L965.4 430.8L965.7 429.9L966.1 429.0L966.4 428.1L966.8 427.2L967.1 426.3L967.5 425.4L967.8 424.5L968.2 423.6L968.5 422.7L968.9 421.8L969.2 421.0L969.6 420.1L969.9 419.2L970.3 418.4L970.6 417.5L971.0 416.7L971.3 415.8L971.7 415.0L972.0 414.2L972.4 413.2L972.8 412.3L973.2 411.4L973.6 410.4L974.0 409.5L974.4 408.6L974.8 407.7L975.2 406.8L975.6 406.0L976.0 405.1L976.4 404.2L976.8 403.3L977.2 402.4L977.6 401.5L978.0 400.6L978.4 399.7L978.8 398.9L979.2 398.0L979.7 397.2L980.1 396.3L980.6 395.5L981.2 394.7L981.7 394.0L982.3 393.2L982.8 392.5L983.4 391.7L984.1 391.0L984.8 390.5L985.7 390.3L986.6 390.4L987.5 390.7L988.4 391.1L989.2 391.6L989.9 392.1L990.5 392.8L991.0 393.6L991.4 394.5L991.7 395.3L992.1 396.2L992.4 397.2L992.7 398.0L993.0 398.9L993.3 399.8L993.6 400.7L993.9 401.7L994.2 402.6L994.4 403.5L994.7 404.5L994.9 405.6L995.2 406.7L995.4 407.5L995.6 408.5L995.8 409.5L996.0 410.5L996.2 411.6L996.4 412.8L996.6 413.9L996.8 415.1L997.0 416.3L997.2 417.4L997.4 418.5L997.6 419.5L997.8 420.5L998.0 421.5L998.2 422.5L998.4 423.5L998.6 424.4L998.8 425.4L999.0 426.3L999.2 427.2L999.4 428.2L999.6 429.1L999.8 430.1L1000.0 431.0L1000.2 432.0L1000.4 433.0L1000.6 434.0L1000.8 435.0L1001.0 436.0L1001.2 437.0L1001.4 438.0L1001.6 439.0L1001.8 440.0L1002.0 441.1L1002.2 442.1L1002.4 443.1L1002.6 444.1L1002.8 445.1L1003.0 446.1L1003.2 447.1L1003.4 448.1L1003.6 449.1L1003.8 450.1L1004.0 451.0L1004.2 452.0L1004.4 452.9L1004.6 453.8L1004.8 454.8L1005.0 455.7L1005.2 456.7L1005.4 457.7L1005.6 458.7L1005.8 459.6L1006.0 460.6L1006.2 461.6L1006.4 462.5L1006.6 463.5L1006.8 464.4L1007.0 465.3L1007.2 466.3L1007.5 467.4L1007.7 468.3L1008.0 469.2L1008.3 470.2L1008.6 471.1L1008.9 472.1L1009.3 473.0L1009.6 473.9L1010.0 474.8L1010.3 475.6L1010.7 476.5L1011.1 477.3L1011.6 478.1L1012.1 478.9L1012.8 479.5L1013.6 480.0L1014.4 480.5L1015.3 480.9L1016.1 481.2L1017.0 481.4L1017.9 481.5L1018.8 481.5L1019.8 481.5L1020.7 481.5L1021.7 481.5L1022.6 481.5L1023.6 481.5L1024.5 481.5L1025.4 481.5L1026.3 481.5L1027.2 481.6L1028.1 481.7L1029.0 481.7L1029.9 481.9L1030.8 482.0L1031.7 482.2L1032.6 482.5L1033.4 482.9L1034.2 483.4L1035.0 483.9L1035.7 484.5L1036.4 485.1L1037.1 485.7L1037.8 486.4L1038.4 487.1L1039.0 487.8L1039.6 488.5L1040.2 489.2L1040.7 490.0L1041.3 490.8L1041.8 491.6L1042.4 492.3L1042.9 493.1L1043.5 493.8L1044.0 494.6L1044.6 495.4L1045.1 496.1L1045.7 496.8L1046.3 497.6L1046.9 498.3L1047.5 499.0L1048.1 499.7L1048.7 500.4L1049.3 501.1L1050.0 501.8L1050.6 502.5L1051.3 503.2L1051.9 503.8L1052.6 504.4L1053.3 505.0L1054.0 505.6L1054.8 506.1L1055.6 506.5L1056.5 506.9L1057.4 507.1L1058.3 507.2L1059.2 507.3L1060.1 507.4L1061.0 507.5L1061.9 507.5L1062.8 507.5L1063.7 507.5L1064.7 507.5L1065.6 507.5L1066.6 507.5L1067.5 507.5L1068.5 507.5L1069.4 507.5L1070.4 507.5L1070.7 507.5" fill="none" stroke="#555" stroke-width="1" stroke-dasharray="4.5 2 1.6 2.5" stroke-linejoin="round"/>
<path d="M869.8 507.3L870.7 507.3L871.6 507.3L872.5 507.3L873.4 507.3L874.3 507.3L875.2 507.3L876.1 507.2L877.0 507.2L877.9 507.2L878.8 507.2L879.7 507.2L880.6 507.2L881.5 507.2L882.4 507.1L883.3 507.1L884.2 507.1L885.1 507.1L886.0 507.1L886.9 507.1L887.8 507.0L888.7 507.0L889.6 507.0L890.5 507.0L891.4 507.0L892.3 507.0L893.2 506.9L894.1 506.9L895.0 506.9L895.9 506.9L896.8 506.8L897.7 506.8L898.6 506.8L899.5 506.7L900.4 506.7L901.3 506.7L902.2 506.6L903.1 506.6L904.0 506.6L904.9 506.5L905.8 506.5L906.7 506.4L907.6 506.3L908.5 506.2L909.4 506.1L910.3 506.0L911.2 505.9L912.1 505.7L913.0 505.6L913.9 505.4L914.8 505.3L915.7 505.1L916.6 504.8L917.5 504.6L918.4 504.3L919.2 504.0L920.1 503.6L920.9 503.3L921.8 502.9L922.6 502.5L923.4 502.1L924.2 501.6L925.0 501.1L925.7 500.5L926.4 499.9L927.1 499.3L927.8 498.7L928.5 498.0L929.1 497.4L929.8 496.7L930.4 496.0L931.0 495.4L931.6 494.6L932.2 493.9L932.7 493.2L933.3 492.4L933.8 491.6L934.3 490.8L934.8 490.1L935.3 489.3L935.8 488.5L936.3 487.7L936.8 486.9L937.3 486.1L937.8 485.3L938.3 484.4L938.8 483.6L939.2 482.8L939.7 482.0L940.1 481.2L940.6 480.3L941.0 479.5L941.5 478.6L941.9 477.7L942.4 476.8L942.8 476.0L943.2 475.1L943.6 474.3L944.0 473.4L944.4 472.5L944.8 471.6L945.2 470.7L945.6 469.7L946.0 468.8L946.4 467.9L946.7 467.0L947.1 466.2L947.4 465.4L947.8 464.5L948.1 463.7L948.5 462.8L948.8 461.9L949.2 461.0L949.5 460.1L949.9 459.2L950.2 458.4L950.6 457.5L950.9 456.5L951.3 455.6L951.6 454.7L952.0 453.8L952.3 452.9L952.7 452.0L953.0 451.1L953.4 450.2L953.7 449.3L954.1 448.4L954.4 447.4L954.8 446.5L955.1 445.6L955.5 444.7L955.8 443.7L956.2 442.8L956.5 441.9L956.9 440.9L957.2 440.0L957.6 439.1L957.9 438.2L958.3 437.2L958.6 436.3L959.0 435.4L959.3 434.4L959.7 433.5L960.0 432.6L960.4 431.7L960.7 430.8L961.1 429.9L961.4 429.0L961.8 428.1L962.1 427.2L962.5 426.3L962.8 425.4L963.2 424.5L963.5 423.6L963.9 422.7L964.2 421.8L964.6 420.9L964.9 420.0L965.3 419.1L965.6 418.2L966.0 417.3L966.3 416.4L966.7 415.5L967.0 414.6L967.4 413.7L967.7 412.8L968.1 411.8L968.4 410.9L968.8 410.0L969.1 409.1L969.5 408.2L969.8 407.3L970.2 406.3L970.5 405.4L970.9 404.5L971.2 403.5L971.6 402.6L971.9 401.7L972.3 400.8L972.6 399.9L973.0 399.0L973.3 398.1L973.7 397.2L974.0 396.3L974.4 395.5L974.7 394.6L975.1 393.8L975.4 393.0L975.8 392.1L976.2 391.2L976.6 390.3L977.0 389.3L977.4 388.4L977.8 387.5L978.1 386.6L978.5 385.8L978.8 384.9L979.2 384.1L979.5 383.2L979.9 382.3L980.3 381.4L980.7 380.6L981.2 379.8L981.7 379.0L982.2 378.1L982.7 377.3L983.2 376.5L983.8 375.8L984.5 375.2L985.2 374.6L986.0 374.1L986.9 373.7L987.8 373.7L988.7 374.1L989.5 374.5L990.2 375.1L990.9 375.6L991.5 376.4L991.9 377.2L992.3 378.1L992.7 378.9L993.0 379.8L993.4 380.7L993.7 381.6L994.0 382.5L994.2 383.4L994.5 384.4L994.7 385.5L994.9 386.3L995.1 387.3L995.3 388.2L995.5 389.3L995.7 390.5L995.9 391.4L996.0 392.4L996.2 393.3L996.3 394.4L996.5 395.4L996.6 396.5L996.8 397.6L996.9 398.7L997.1 399.7L997.2 400.8L997.4 401.9L997.5 403.0L997.7 404.1L997.8 405.1L998.0 406.1L998.1 407.1L998.3 408.1L998.4 409.1L998.6 410.1L998.7 411.1L998.9 412.0L999.0 413.0L999.2 414.0L999.3 415.0L999.5 416.0L999.6 416.9L999.8 417.9L999.9 418.9L1000.1 419.8L1000.2 420.8L1000.4 421.8L1000.5 422.7L1000.7 423.6L1000.8 424.6L1001.0 425.5L1001.1 426.5L1001.3 427.4L1001.4 428.3L1001.6 429.2L1001.7 430.1L1001.9 431.1L1002.0 432.0L1002.2 432.9L1002.3 433.8L1002.5 434.7L1002.6 435.6L1002.8 436.5L1003.0 437.6L1003.2 438.8L1003.4 440.0L1003.6 441.1L1003.8 442.3L1004.0 443.4L1004.2 444.6L1004.4 445.7L1004.6 446.9L1004.8 448.1L1005.0 449.2L1005.2 450.3L1005.4 451.4L1005.6 452.5L1005.8 453.6L1006.0 454.6L1006.2 455.6L1006.4 456.6L1006.6 457.6L1006.8 458.5L1007.0 459.5L1007.3 460.6L1007.5 461.6L1007.8 462.6L1008.0 463.6L1008.3 464.6L1008.5 465.6L1008.8 466.7L1009.0 467.6L1009.2 468.7L1009.5 469.7L1009.7 470.6L1010.1 471.5L1010.5 472.5L1010.9 473.3L1011.3 474.1L1011.8 474.9L1012.4 475.6L1013.1 476.2L1013.8 476.7L1014.6 477.3L1015.4 477.7L1016.3 477.8L1017.2 477.8L1018.1 477.7L1019.0 477.7L1019.9 477.6L1020.8 477.5L1021.7 477.5L1022.6 477.5L1023.5 477.6L1024.4 477.7L1025.3 477.8L1026.2 478.0L1027.1 478.2L1028.0 478.4L1028.9 478.7L1029.7 479.2L1030.5 479.6L1031.3 480.0L1032.1 480.6L1032.9 481.2L1033.6 481.8L1034.3 482.4L1034.9 483.1L1035.6 483.7L1036.2 484.4L1036.8 485.1L1037.4 485.8L1038.0 486.6L1038.6 487.3L1039.2 488.1L1039.8 488.8L1040.3 489.5L1040.9 490.3L1041.4 491.0L1042.0 491.8L1042.5 492.5L1043.1 493.3L1043.6 494.0L1044.2 494.8L1044.7 495.6L1045.3 496.3L1045.8 497.0L1046.4 497.8L1047.0 498.5L1047.6 499.2L1048.2 499.9L1048.9 500.6L1049.5 501.3L1050.2 502.0L1050.8 502.7L1051.5 503.4L1052.1 504.0L1052.8 504.7L1053.6 505.3L1054.4 505.8L1055.2 506.3L1056.0 506.7L1056.9 507.0L1057.8 507.1L1058.7 507.2L1059.6 507.3L1060.5 507.4L1061.4 507.5L1062.3 507.5L1063.2 507.5L1064.2 507.5L1065.1 507.5L1066.1 507.5L1067.0 507.5L1068.0 507.5L1068.9 507.5L1069.9 507.5L1070.7 507.5" fill="none" stroke="#000" stroke-width="1.95" stroke-linejoin="round"/>
<path d="M150.7 799.6L151.6 799.6L152.5 799.6L153.4 799.6L154.3 799.6L155.2 799.6L156.1 799.6L157.0 799.6L157.9 799.6L158.8 799.5L159.7 799.5L160.6 799.5L161.5 799.5L162.4 799.5L163.3 799.4L164.2 799.4L165.1 799.3L166.0 799.2L166.9 799.1L167.8 799.0L168.7 798.9L169.6 798.8L170.5 798.6L171.4 798.5L172.3 798.3L173.2 798.2L174.1 797.9L175.0 797.7L175.9 797.4L176.7 797.0L177.6 796.6L178.4 796.2L179.2 795.8L180.0 795.3L180.8 794.9L181.6 794.4L182.4 793.9L183.2 793.4L184.0 792.9L184.7 792.3L185.5 791.7L186.2 791.1L186.9 790.5L187.6 789.8L188.3 789.2L188.9 788.5L189.6 787.9L190.2 787.2L190.9 786.5L191.5 785.8L192.1 785.1L192.7 784.4L193.3 783.6L193.8 782.9L194.4 782.1L194.9 781.4L195.5 780.6L196.0 779.8L196.6 778.9L197.1 778.2L197.6 777.4L198.1 776.6L198.6 775.7L199.0 774.9L199.5 774.1L199.9 773.3L200.4 772.5L200.8 771.6L201.3 770.8L201.7 769.9L202.2 769.0L202.6 768.1L203.1 767.2L203.5 766.4L203.9 765.5L204.3 764.7L204.7 763.8L205.1 762.9L205.5 762.1L205.9 761.2L206.3 760.3L206.7 759.3L207.1 758.4L207.5 757.5L207.9 756.6L208.3 755.7L208.7 754.8L209.1 753.8L209.5 752.9L209.9 752.0L210.3 751.1L210.7 750.1L211.1 749.2L211.5 748.2L211.8 747.4L212.2 746.6L212.5 745.7L212.9 744.9L213.2 744.0L213.6 743.2L213.9 742.3L214.3 741.4L214.6 740.5L215.0 739.7L215.3 738.8L215.7 737.9L216.0 737.0L216.4 736.1L216.7 735.2L217.1 734.2L217.4 733.3L217.8 732.4L218.1 731.5L218.5 730.5L218.8 729.6L219.2 728.7L219.5 727.7L219.9 726.8L220.2 725.9L220.6 724.9L220.9 724.0L221.3 723.0L221.6 722.1L222.0 721.1L222.3 720.1L222.7 719.2L223.0 718.2L223.4 717.2L223.7 716.3L224.1 715.3L224.4 714.3L224.8 713.4L225.1 712.4L225.5 711.5L225.8 710.6L226.2 709.6L226.5 708.7L226.9 707.7L227.2 706.8L227.6 705.8L227.9 704.9L228.3 703.9L228.6 703.0L229.0 702.0L229.3 701.2L229.6 700.3L229.9 699.5L230.2 698.6L230.5 697.6L230.9 696.7L231.2 695.9L231.6 695.0L232.0 694.1L232.4 693.2L232.8 692.4L233.2 691.5L233.6 690.7L234.1 689.8L234.5 689.0L235.0 688.2L235.5 687.4L236.0 686.6L236.5 685.8L237.1 685.1L237.7 684.3L238.3 683.6L238.9 682.8L239.5 682.1L240.1 681.5L240.7 680.8L241.4 680.2L242.2 679.7L243.1 679.3L244.0 679.3L244.9 679.6L245.7 680.1L246.4 680.7L247.1 681.3L247.8 681.9L248.5 682.6L249.1 683.2L249.7 684.0L250.2 684.8L250.7 685.6L251.2 686.4L251.6 687.3L252.0 688.1L252.4 689.0L252.8 689.9L253.2 690.8L253.6 691.6L253.9 692.5L254.3 693.5L254.6 694.4L254.9 695.3L255.2 696.3L255.5 697.3L255.7 698.2L256.0 699.2L256.2 700.1L256.5 701.1L256.7 702.2L256.9 703.1L257.1 704.2L257.3 705.4L257.5 706.3L257.6 707.3L257.8 708.2L257.9 709.2L258.1 710.1L258.2 711.0L258.4 712.1L258.6 713.1L258.8 714.0L259.0 715.0L259.2 715.9L259.5 717.0L259.7 718.0L260.0 719.1L260.2 720.1L260.5 721.1L260.7 722.1L261.0 723.0L261.2 724.0L261.5 725.0L261.7 726.0L262.0 727.0L262.2 727.9L262.5 728.9L262.7 729.9L263.0 730.8L263.2 731.8L263.5 732.7L263.7 733.6L264.0 734.5L264.2 735.4L264.5 736.3L264.7 737.2L265.0 738.1L265.2 739.0L265.5 739.8L265.7 740.7L266.0 741.6L266.2 742.5L266.5 743.4L266.7 744.3L267.0 745.3L267.3 746.3L267.6 747.2L267.9 748.0L268.3 748.9L268.7 749.9L269.1 750.8L269.5 751.7L269.9 752.5L270.3 753.4L270.7 754.2L271.2 755.0L271.7 755.8L272.2 756.6L272.9 757.3L273.6 757.9L274.4 758.4L275.2 758.8L276.0 759.2L276.9 759.5L277.8 759.7L278.7 759.9L279.6 759.9L280.5 760.0L281.4 760.1L282.3 760.2L283.1 760.6L283.9 761.2L284.6 761.8L285.2 762.5L285.8 763.2L286.4 763.9L287.0 764.7L287.6 765.4L288.1 766.2L288.6 767.0L289.0 767.9L289.5 768.7L289.9 769.6L290.4 770.4L290.8 771.3L291.3 772.2L291.7 773.1L292.1 773.9L292.5 774.8L292.9 775.7L293.3 776.6L293.7 777.5L294.1 778.4L294.5 779.4L294.9 780.3L295.3 781.2L295.7 782.1L296.1 783.1L296.5 784.0L296.9 784.8L297.2 785.7L297.6 786.6L297.9 787.4L298.3 788.3L298.6 789.1L299.0 790.1L299.4 790.9L299.8 791.7L300.3 792.6L300.8 793.4L301.3 794.2L301.8 795.0L302.3 795.8L302.8 796.6L303.4 797.3L304.0 798.0L304.8 798.6L305.7 798.9L306.6 799.1L307.5 799.3L308.4 799.4L309.3 799.5L310.2 799.5L311.1 799.5L312.0 799.6L312.9 799.6L313.8 799.6L314.7 799.6L315.0 799.6" fill="none" stroke="#555" stroke-width="1" stroke-linejoin="round"/>
<path d="M150.7 799.6L151.6 799.6L152.5 799.6L153.4 799.6L154.3 799.5L155.2 799.5L156.1 799.5L157.0 799.4L157.9 799.4L158.8 799.3L159.7 799.3L160.6 799.1L161.5 798.9L162.4 798.7L163.3 798.4L164.1 798.0L165.0 797.6L165.8 797.2L166.7 796.8L167.5 796.4L168.3 796.0L169.1 795.5L169.9 795.1L170.7 794.6L171.4 794.1L172.2 793.5L172.9 792.9L173.6 792.3L174.3 791.7L175.0 791.0L175.6 790.4L176.3 789.7L176.9 789.1L177.6 788.4L178.2 787.8L178.9 787.1L179.5 786.4L180.2 785.7L180.8 785.1L181.4 784.4L182.0 783.6L182.6 782.9L183.2 782.1L183.7 781.4L184.3 780.6L184.8 779.8L185.3 779.0L185.8 778.2L186.3 777.4L186.8 776.6L187.2 775.8L187.7 775.0L188.1 774.1L188.6 773.2L189.0 772.4L189.5 771.5L189.9 770.6L190.4 769.7L190.8 768.8L191.2 768.0L191.6 767.2L192.0 766.3L192.4 765.5L192.8 764.6L193.2 763.7L193.6 762.8L194.0 761.9L194.4 761.0L194.8 760.0L195.2 759.2L195.5 758.4L195.9 757.5L196.2 756.7L196.6 755.8L196.9 754.8L197.3 753.9L197.6 752.9L198.0 752.0L198.3 751.0L198.7 750.0L199.0 749.2L199.3 748.3L199.6 747.3L200.0 746.3L200.3 745.4L200.7 744.4L201.0 743.4L201.4 742.5L201.7 741.5L202.1 740.6L202.4 739.7L202.8 738.7L203.1 737.8L203.5 736.8L203.8 735.8L204.2 734.8L204.5 734.0L204.8 733.1L205.1 732.2L205.4 731.4L205.7 730.5L206.0 729.6L206.3 728.7L206.6 727.7L206.9 726.8L207.2 725.9L207.5 724.9L207.8 724.0L208.1 723.0L208.4 722.0L208.7 721.0L209.0 720.0L209.3 719.0L209.6 718.0L209.8 717.1L210.1 716.2L210.3 715.3L210.6 714.3L210.8 713.4L211.1 712.4L211.3 711.4L211.6 710.4L211.8 709.5L212.1 708.5L212.3 707.5L212.6 706.4L212.8 705.5L213.1 704.5L213.3 703.5L213.6 702.5L213.8 701.5L214.1 700.6L214.3 699.6L214.6 698.7L214.8 697.7L215.1 696.8L215.3 695.9L215.6 694.9L215.8 694.0L216.1 693.1L216.3 692.2L216.6 691.2L216.8 690.3L217.1 689.4L217.3 688.5L217.6 687.6L217.8 686.7L218.1 685.8L218.3 684.9L218.6 684.0L218.8 683.1L219.1 682.2L219.3 681.4L219.6 680.3L219.9 679.3L220.2 678.3L220.5 677.3L220.8 676.3L221.1 675.3L221.4 674.4L221.7 673.4L222.0 672.5L222.3 671.5L222.6 670.6L222.9 669.6L223.2 668.7L223.5 667.8L223.8 666.9L224.1 665.9L224.4 665.0L224.7 664.1L225.0 663.1L225.3 662.2L225.6 661.2L225.9 660.3L226.2 659.3L226.5 658.3L226.8 657.3L227.1 656.3L227.4 655.3L227.7 654.2L228.0 653.2L228.3 652.2L228.6 651.2L228.9 650.2L229.2 649.2L229.5 648.2L229.8 647.3L230.1 646.3L230.4 645.4L230.7 644.5L231.0 643.7L231.4 642.7L231.7 641.8L232.1 640.9L232.4 640.0L232.8 639.1L233.1 638.2L233.5 637.4L233.8 636.5L234.2 635.6L234.6 634.7L235.0 633.8L235.4 633.0L235.9 632.1L236.3 631.3L236.8 630.5L237.3 629.7L237.8 628.9L238.3 628.1L238.8 627.3L239.3 626.6L239.9 625.8L240.5 625.2L241.2 624.5L242.0 624.1L242.8 623.7L243.7 623.4L244.6 623.3L245.5 623.6L246.2 624.2L246.8 624.9L247.4 625.6L247.9 626.4L248.4 627.2L248.8 628.0L249.2 628.8L249.5 629.8L249.8 630.7L250.1 631.7L250.4 632.7L250.7 633.6L250.9 634.5L251.2 635.5L251.4 636.4L251.6 637.4L251.8 638.5L252.0 639.6L252.2 640.8L252.3 641.7L252.5 642.6L252.6 643.5L252.8 644.4L252.9 645.3L253.1 646.2L253.3 647.4L253.5 648.5L253.7 649.7L253.9 650.8L254.1 652.0L254.3 653.2L254.4 654.1L254.6 655.0L254.7 655.9L254.9 656.8L255.0 657.7L255.2 658.7L255.3 659.6L255.5 660.6L255.6 661.5L255.8 662.5L255.9 663.5L256.1 664.5L256.2 665.5L256.4 666.4L256.5 667.5L256.7 668.5L256.8 669.5L257.0 670.6L257.1 671.6L257.3 672.7L257.4 673.9L257.6 675.0L257.7 676.2L257.9 677.4L258.0 678.7L258.1 679.6L258.2 680.5L258.3 681.5L258.4 682.5L258.5 683.5L258.6 684.5L258.7 685.5L258.8 686.5L258.9 687.5L259.0 688.5L259.1 689.5L259.2 690.4L259.3 691.3L259.4 692.2L259.6 693.5L259.7 694.8L259.9 695.9L260.0 697.1L260.2 698.3L260.3 699.4L260.5 700.5L260.6 701.6L260.8 702.7L260.9 703.8L261.1 704.9L261.2 706.0L261.4 707.2L261.5 708.3L261.7 709.5L261.8 710.7L262.0 711.9L262.1 713.0L262.3 714.2L262.4 715.4L262.6 716.6L262.7 717.7L262.9 718.9L263.0 720.1L263.2 721.3L263.3 722.5L263.5 723.7L263.6 725.0L263.8 726.2L263.9 727.4L264.1 728.6L264.2 729.7L264.4 730.8L264.5 731.9L264.7 732.9L264.8 733.8L265.0 735.0L265.2 736.1L265.4 737.2L265.6 738.3L265.8 739.3L266.0 740.4L266.2 741.4L266.4 742.4L266.6 743.3L266.8 744.2L267.1 745.3L267.3 746.2L267.6 747.1L267.9 748.0L268.2 748.9L268.7 749.7L269.2 750.5L269.7 751.2L270.3 752.0L271.0 752.6L271.7 753.3L272.4 753.8L273.1 754.4L273.9 755.0L274.6 755.6L275.3 756.3L275.9 756.9L276.6 757.5L277.3 758.2L278.0 758.8L278.7 759.5L279.3 760.2L279.9 760.9L280.5 761.7L281.0 762.5L281.5 763.3L282.0 764.1L282.5 764.9L282.9 765.8L283.4 766.7L283.8 767.6L284.1 768.5L284.5 769.4L284.8 770.3L285.1 771.2L285.4 772.0L285.7 772.9L286.0 773.8L286.4 774.7L286.7 775.7L287.1 776.6L287.4 777.6L287.8 778.5L288.1 779.4L288.5 780.4L288.8 781.3L289.2 782.2L289.5 783.1L289.9 784.0L290.2 784.9L290.6 785.8L290.9 786.7L291.3 787.6L291.6 788.5L292.0 789.4L292.3 790.3L292.7 791.2L293.1 792.1L293.6 792.9L294.1 793.7L294.6 794.5L295.1 795.3L295.7 796.0L296.3 796.7L297.0 797.4L297.7 797.9L298.5 798.5L299.3 798.9L300.1 799.2L301.0 799.4L301.9 799.4L302.8 799.5L303.7 799.5L304.6 799.6L305.5 799.6L306.0 799.6" fill="none" stroke="#555" stroke-width="1.1" stroke-dasharray="6 4" stroke-linejoin="round"/>
<path d="M518.4 799.5L519.3 799.5L520.2 799.5L521.1 799.5L522.0 799.5L522.9 799.5L523.8 799.5L524.7 799.5L525.6 799.5L526.5 799.5L527.4 799.5L528.3 799.5L529.2 799.5L530.1 799.5L531.0 799.5L531.9 799.5L532.8 799.5L533.7 799.5L534.6 799.5L535.5 799.5L536.4 799.4L537.3 799.4L538.2 799.4L539.1 799.4L540.0 799.4L540.9 799.4L541.8 799.4L542.7 799.4L543.6 799.4L544.5 799.4L545.4 799.4L546.3 799.4L547.2 799.4L548.1 799.3L549.0 799.3L549.9 799.3L550.8 799.3L551.7 799.3L552.6 799.3L553.5 799.3L554.4 799.3L555.3 799.3L556.2 799.3L557.1 799.2L558.0 799.2L558.9 799.2L559.8 799.2L560.7 799.2L561.6 799.2L562.5 799.1L563.4 799.1L564.3 799.1L565.2 799.0L566.1 799.0L567.0 798.9L567.9 798.9L568.8 798.8L569.7 798.8L570.6 798.7L571.5 798.6L572.4 798.5L573.3 798.5L574.2 798.4L575.1 798.3L576.0 798.2L576.9 798.1L577.8 797.9L578.7 797.8L579.6 797.6L580.5 797.4L581.4 797.2L582.3 797.0L583.2 796.8L584.1 796.5L585.0 796.3L585.9 796.0L586.8 795.7L587.6 795.4L588.5 795.1L589.3 794.7L590.2 794.3L591.0 793.9L591.9 793.5L592.7 793.1L593.5 792.6L594.3 792.2L595.1 791.7L595.9 791.2L596.7 790.7L597.5 790.2L598.2 789.7L599.0 789.1L599.7 788.6L600.5 788.0L601.2 787.5L602.0 786.9L602.7 786.3L603.5 785.7L604.2 785.1L605.0 784.5L605.7 783.9L606.4 783.4L607.1 782.8L607.8 782.2L608.5 781.6L609.2 781.0L609.9 780.3L610.6 779.7L611.3 779.1L612.0 778.4L612.7 777.8L613.4 777.1L614.1 776.5L614.8 775.9L615.5 775.3L616.2 774.7L616.9 774.0L617.6 773.4L618.3 772.8L619.0 772.2L619.7 771.5L620.4 770.9L621.1 770.3L621.8 769.7L622.5 769.1L623.2 768.5L623.9 767.9L624.6 767.3L625.4 766.7L626.1 766.1L626.8 765.5L627.5 765.0L628.2 764.4L628.9 763.8L629.7 763.2L630.4 762.6L631.2 762.1L631.9 761.6L632.7 761.1L633.5 760.7L634.4 760.3L635.2 760.0L636.1 759.6L636.9 759.3L637.8 759.0L638.7 758.8L639.6 758.6L640.5 758.6L641.4 758.6L642.3 758.7L643.2 758.7L644.1 758.8L645.0 758.9L645.9 759.0L646.8 759.3L647.7 759.5L648.6 759.8L649.4 760.2L650.3 760.6L651.0 761.2L651.7 761.8L652.3 762.5L652.8 763.3L653.4 764.1L653.9 764.9L654.4 765.7L654.9 766.5L655.4 767.3L655.9 768.0L656.4 768.8L656.9 769.7L657.3 770.5L657.8 771.4L658.2 772.2L658.7 773.1L659.1 773.9L659.6 774.7L660.1 775.5L660.6 776.2L661.2 777.0L661.9 777.6L662.6 778.2L663.3 778.8L664.0 779.4L664.8 779.9L665.5 780.4L666.3 780.9L667.1 781.5L667.9 782.0L668.6 782.5L669.4 783.0L670.2 783.4L671.0 783.9L671.8 784.4L672.6 784.9L673.3 785.5L674.0 786.2L674.6 786.9L675.1 787.7L675.5 788.5L676.0 789.3L676.4 790.1L676.9 791.0L677.3 791.8L677.8 792.6L678.4 793.3L679.0 794.1L679.6 794.9L680.2 795.6L680.8 796.3L681.4 797.0L682.1 797.5L682.9 798.0L683.8 798.3L684.7 798.6L685.6 798.8L686.5 799.0L687.4 799.2L688.3 799.3L689.2 799.4L690.0 799.4" fill="none" stroke="#555" stroke-width="1" stroke-linejoin="round"/>
<path d="M518.4 799.5L519.3 799.5L520.2 799.5L521.1 799.5L522.0 799.5L522.9 799.5L523.8 799.5L524.7 799.5L525.6 799.5L526.5 799.5L527.4 799.5L528.3 799.5L529.2 799.5L530.1 799.5L531.0 799.5L531.9 799.5L532.8 799.5L533.7 799.5L534.6 799.5L535.5 799.5L536.4 799.4L537.3 799.4L538.2 799.4L539.1 799.4L540.0 799.4L540.9 799.4L541.8 799.4L542.7 799.4L543.6 799.4L544.5 799.4L545.4 799.4L546.3 799.4L547.2 799.4L548.1 799.4L549.0 799.3L549.9 799.3L550.8 799.3L551.7 799.3L552.6 799.3L553.5 799.3L554.4 799.3L555.3 799.3L556.2 799.3L557.1 799.2L558.0 799.2L558.9 799.2L559.8 799.2L560.7 799.2L561.6 799.2L562.5 799.1L563.4 799.1L564.3 799.0L565.2 799.0L566.1 798.9L567.0 798.8L567.9 798.8L568.8 798.7L569.7 798.6L570.6 798.5L571.5 798.4L572.4 798.3L573.3 798.2L574.2 798.1L575.1 798.0L576.0 797.9L576.9 797.7L577.8 797.5L578.7 797.3L579.6 797.1L580.5 796.9L581.4 796.6L582.3 796.4L583.2 796.1L584.1 795.8L585.0 795.5L585.8 795.2L586.7 794.9L587.5 794.5L588.4 794.1L589.2 793.7L590.1 793.3L590.9 792.9L591.7 792.4L592.5 791.9L593.3 791.4L594.0 790.9L594.8 790.4L595.5 789.8L596.2 789.2L596.9 788.6L597.6 788.0L598.3 787.4L599.0 786.7L599.7 786.1L600.4 785.4L601.0 784.8L601.7 784.1L602.3 783.5L603.0 782.8L603.6 782.2L604.3 781.5L604.9 780.9L605.6 780.2L606.2 779.5L606.9 778.8L607.5 778.1L608.2 777.4L608.8 776.7L609.4 776.0L610.0 775.4L610.6 774.7L611.2 774.0L611.8 773.3L612.4 772.6L613.0 771.9L613.6 771.2L614.2 770.4L614.8 769.7L615.4 769.0L616.0 768.3L616.6 767.6L617.2 766.8L617.8 766.1L618.4 765.3L619.0 764.6L619.6 763.8L620.2 763.0L620.8 762.3L621.4 761.5L622.0 760.7L622.6 760.0L623.2 759.2L623.8 758.5L624.4 757.7L625.0 757.0L625.6 756.3L626.2 755.6L626.8 754.8L627.4 754.1L628.0 753.3L628.6 752.6L629.2 751.8L629.8 751.1L630.4 750.4L631.0 749.7L631.7 749.0L632.3 748.3L633.0 747.6L633.7 747.0L634.4 746.4L635.2 745.8L635.9 745.2L636.6 744.6L637.4 744.1L638.2 743.6L639.0 743.1L639.9 742.9L640.8 742.8L641.7 742.8L642.6 742.7L643.5 742.7L644.4 742.7L645.3 742.7L646.2 743.0L647.0 743.4L647.8 743.9L648.5 744.5L649.2 745.2L649.9 745.8L650.5 746.4L651.1 747.1L651.7 747.8L652.2 748.7L652.7 749.5L653.2 750.3L653.7 751.1L654.1 752.0L654.6 752.9L655.0 753.8L655.4 754.6L655.8 755.4L656.2 756.3L656.6 757.1L656.9 758.0L657.3 759.0L657.6 759.9L657.9 760.7L658.2 761.6L658.5 762.5L658.8 763.4L659.1 764.3L659.4 765.1L659.7 766.0L660.0 767.0L660.4 767.9L660.7 768.7L661.1 769.6L661.5 770.4L662.0 771.3L662.4 772.2L662.9 773.0L663.3 773.8L663.8 774.7L664.3 775.5L664.8 776.3L665.4 777.1L665.9 777.9L666.5 778.6L667.1 779.3L667.7 780.0L668.4 780.6L669.1 781.3L669.8 781.9L670.5 782.5L671.2 783.2L671.8 783.9L672.4 784.6L672.9 785.5L673.4 786.3L673.9 787.1L674.4 787.9L674.8 788.7L675.3 789.5L675.8 790.3L676.3 791.1L676.8 791.9L677.4 792.7L677.9 793.5L678.4 794.3L679.0 795.1L679.6 795.8L680.2 796.5L681.0 797.0L681.8 797.4L682.7 797.8L683.5 798.1L684.4 798.4L685.3 798.7L686.2 798.9L687.1 799.1L688.0 799.3L688.9 799.4L689.8 799.4L690.0 799.4" fill="none" stroke="#555" stroke-width="1.1" stroke-dasharray="6 4" stroke-linejoin="round"/>
<path d="M518.4 799.5L519.3 799.5L520.2 799.5L521.1 799.5L522.0 799.5L522.9 799.5L523.8 799.5L524.7 799.5L525.6 799.5L526.5 799.5L527.4 799.5L528.3 799.5L529.2 799.5L530.1 799.5L531.0 799.5L531.9 799.5L532.8 799.5L533.7 799.5L534.6 799.5L535.5 799.5L536.4 799.4L537.3 799.4L538.2 799.4L539.1 799.4L540.0 799.4L540.9 799.4L541.8 799.4L542.7 799.4L543.6 799.4L544.5 799.4L545.4 799.4L546.3 799.4L547.2 799.4L548.1 799.4L549.0 799.3L549.9 799.3L550.8 799.3L551.7 799.3L552.6 799.3L553.5 799.3L554.4 799.3L555.3 799.3L556.2 799.3L557.1 799.2L558.0 799.2L558.9 799.2L559.8 799.2L560.7 799.2L561.6 799.2L562.5 799.1L563.4 799.0L564.3 799.0L565.2 798.9L566.1 798.8L567.0 798.7L567.9 798.6L568.8 798.5L569.7 798.3L570.6 798.2L571.5 798.1L572.4 797.9L573.3 797.8L574.2 797.6L575.1 797.5L576.0 797.3L576.9 797.1L577.8 796.9L578.7 796.7L579.6 796.4L580.5 796.1L581.4 795.8L582.3 795.5L583.1 795.2L584.0 794.9L584.8 794.6L585.7 794.2L586.5 793.9L587.4 793.5L588.2 793.1L589.1 792.7L589.9 792.3L590.7 791.9L591.5 791.4L592.3 790.9L593.0 790.3L593.7 789.8L594.4 789.1L595.1 788.4L595.7 787.7L596.3 787.0L596.9 786.3L597.5 785.5L598.1 784.8L598.6 784.0L599.2 783.2L599.7 782.4L600.3 781.6L600.8 780.8L601.4 780.0L601.9 779.2L602.5 778.4L603.0 777.6L603.6 776.8L604.1 776.1L604.6 775.3L605.1 774.5L605.6 773.7L606.1 772.8L606.6 772.0L607.1 771.1L607.5 770.3L608.0 769.5L608.4 768.7L608.9 767.9L609.3 767.1L609.8 766.3L610.2 765.5L610.7 764.7L611.1 763.8L611.6 762.9L612.0 762.0L612.4 761.2L612.8 760.4L613.2 759.6L613.6 758.8L614.0 757.9L614.4 757.1L614.8 756.3L615.2 755.4L615.6 754.6L616.0 753.8L616.4 753.0L616.9 752.1L617.3 751.2L617.8 750.3L618.2 749.4L618.7 748.6L619.1 747.7L619.6 746.8L620.0 746.0L620.5 745.1L620.9 744.3L621.4 743.4L621.8 742.6L622.3 741.8L622.7 740.9L623.2 740.1L623.6 739.4L624.1 738.5L624.6 737.7L625.1 736.9L625.6 736.1L626.1 735.4L626.6 734.6L627.1 733.8L627.7 733.0L628.2 732.2L628.8 731.5L629.3 730.7L629.9 730.0L630.5 729.2L631.1 728.5L631.7 727.8L632.3 727.1L633.0 726.4L633.6 725.8L634.3 725.1L635.0 724.5L635.7 723.9L636.5 723.3L637.3 722.8L638.1 722.4L639.0 722.1L639.8 721.8L640.7 721.5L641.6 721.3L642.5 721.2L643.4 721.2L644.3 721.2L645.2 721.3L646.1 721.3L647.0 721.7L647.7 722.3L648.4 722.9L649.0 723.5L649.7 724.3L650.2 725.0L650.8 725.8L651.3 726.6L651.7 727.4L652.2 728.3L652.6 729.2L652.9 730.1L653.3 731.0L653.6 731.9L653.9 732.9L654.2 733.9L654.4 734.8L654.7 735.7L654.9 736.6L655.2 737.5L655.4 738.4L655.7 739.4L655.9 740.3L656.2 741.3L656.4 742.2L656.7 743.1L656.9 744.0L657.2 744.9L657.5 746.0L657.8 747.0L658.1 748.0L658.4 749.0L658.7 750.0L659.0 751.1L659.3 752.1L659.6 753.1L659.9 754.2L660.2 755.2L660.5 756.2L660.8 757.3L661.1 758.3L661.4 759.3L661.7 760.2L662.0 761.2L662.3 762.2L662.6 763.1L662.9 764.0L663.2 764.9L663.5 765.8L663.8 766.6L664.1 767.5L664.4 768.4L664.7 769.3L665.1 770.3L665.4 771.3L665.8 772.2L666.1 773.2L666.5 774.1L666.8 775.0L667.2 775.8L667.5 776.7L667.9 777.5L668.3 778.5L668.7 779.4L669.1 780.3L669.5 781.2L669.9 782.1L670.3 782.9L670.7 783.8L671.1 784.6L671.5 785.4L671.9 786.3L672.4 787.1L672.8 788.0L673.3 788.8L673.8 789.6L674.3 790.3L674.8 791.1L675.3 791.9L675.9 792.7L676.4 793.5L677.0 794.2L677.6 795.0L678.2 795.7L678.9 796.3L679.7 796.9L680.5 797.2L681.4 797.6L682.2 797.9L683.1 798.2L684.0 798.5L684.9 798.7L685.8 798.9L686.7 799.1L687.6 799.2L688.5 799.3L689.4 799.4L690.0 799.4" fill="none" stroke="#888" stroke-width="1.05" stroke-dasharray="1.1 1.5" stroke-linejoin="round"/>
<path d="M518.4 799.5L519.3 799.5L520.2 799.5L521.1 799.5L522.0 799.5L522.9 799.5L523.8 799.5L524.7 799.5L525.6 799.5L526.5 799.5L527.4 799.5L528.3 799.5L529.2 799.5L530.1 799.5L531.0 799.5L531.9 799.5L532.8 799.5L533.7 799.5L534.6 799.5L535.5 799.5L536.4 799.5L537.3 799.5L538.2 799.4L539.1 799.4L540.0 799.4L540.9 799.4L541.8 799.4L542.7 799.4L543.6 799.4L544.5 799.4L545.4 799.4L546.3 799.4L547.2 799.4L548.1 799.4L549.0 799.4L549.9 799.4L550.8 799.3L551.7 799.3L552.6 799.3L553.5 799.3L554.4 799.3L555.3 799.3L556.2 799.3L557.1 799.2L558.0 799.2L558.9 799.2L559.8 799.1L560.7 799.0L561.6 799.0L562.5 798.9L563.4 798.8L564.3 798.7L565.2 798.6L566.1 798.5L567.0 798.4L567.9 798.3L568.8 798.2L569.7 798.0L570.6 797.9L571.5 797.8L572.4 797.6L573.3 797.5L574.2 797.3L575.1 797.1L576.0 796.9L576.9 796.6L577.8 796.4L578.7 796.1L579.6 795.8L580.4 795.5L581.3 795.0L582.1 794.6L582.8 794.1L583.6 793.5L584.3 792.9L585.0 792.3L585.7 791.6L586.3 791.0L587.0 790.3L587.6 789.6L588.3 788.9L588.9 788.2L589.6 787.5L590.2 786.8L590.8 786.1L591.4 785.4L591.9 784.6L592.5 783.9L593.0 783.1L593.6 782.3L594.1 781.5L594.6 780.7L595.1 779.9L595.6 779.1L596.1 778.2L596.6 777.4L597.1 776.5L597.6 775.7L598.0 774.9L598.5 774.1L598.9 773.3L599.4 772.4L599.8 771.5L600.3 770.7L600.7 769.8L601.1 768.9L601.5 768.1L601.9 767.3L602.3 766.4L602.7 765.6L603.1 764.7L603.5 763.9L603.9 763.0L604.3 762.1L604.7 761.2L605.1 760.3L605.5 759.4L605.9 758.5L606.3 757.5L606.7 756.7L607.0 755.8L607.4 755.0L607.7 754.1L608.1 753.3L608.4 752.4L608.8 751.5L609.1 750.7L609.5 749.8L609.8 748.9L610.2 748.0L610.5 747.2L610.9 746.3L611.2 745.4L611.6 744.5L611.9 743.6L612.3 742.7L612.6 741.8L613.0 740.9L613.3 739.9L613.7 739.0L614.0 738.1L614.4 737.2L614.7 736.3L615.1 735.3L615.4 734.4L615.8 733.5L616.1 732.6L616.5 731.8L616.8 730.9L617.2 730.0L617.5 729.2L617.9 728.3L618.2 727.5L618.6 726.6L618.9 725.8L619.3 725.0L619.6 724.1L620.0 723.3L620.3 722.4L620.7 721.5L621.0 720.7L621.4 719.8L621.7 718.8L622.1 717.9L622.4 717.0L622.8 716.0L623.1 715.0L623.5 714.0L623.8 713.2L624.1 712.3L624.4 711.4L624.7 710.6L625.0 709.7L625.3 708.8L625.6 708.0L625.9 707.1L626.2 706.2L626.5 705.3L626.8 704.5L627.1 703.6L627.4 702.8L627.7 701.9L628.0 700.9L628.4 700.0L628.7 699.0L629.1 698.0L629.4 697.1L629.8 696.1L630.1 695.1L630.5 694.2L630.8 693.2L631.2 692.3L631.5 691.3L631.9 690.4L632.2 689.4L632.6 688.5L632.9 687.6L633.3 686.7L633.6 685.7L634.0 684.8L634.3 683.9L634.7 683.0L635.0 682.1L635.4 681.2L635.7 680.4L636.1 679.5L636.4 678.6L636.8 677.7L637.1 676.9L637.5 676.0L637.8 675.1L638.2 674.2L638.5 673.3L638.9 672.5L639.2 671.6L639.6 670.8L640.0 669.8L640.4 668.9L640.8 668.0L641.2 667.1L641.6 666.3L642.0 665.4L642.5 664.5L642.9 663.7L643.4 662.9L643.8 662.1L644.3 661.3L644.8 660.5L645.4 659.7L646.0 659.0L646.7 658.3L647.4 657.8L648.1 657.2L649.0 656.8L649.9 656.9L650.7 657.2L651.5 657.7L652.2 658.3L652.9 659.0L653.3 659.9L653.7 660.7L654.0 661.6L654.3 662.5L654.6 663.4L654.9 664.3L655.2 665.3L655.5 666.1L655.8 667.1L656.1 668.0L656.4 669.0L656.7 670.0L657.0 670.9L657.2 671.9L657.5 672.8L657.7 673.8L658.0 674.8L658.2 675.8L658.5 676.8L658.7 677.9L658.9 678.8L659.1 679.7L659.3 680.6L659.5 681.6L659.7 682.5L659.9 683.5L660.1 684.5L660.3 685.6L660.5 686.6L660.7 687.7L660.9 688.8L661.1 690.0L661.3 691.1L661.5 692.3L661.7 693.2L661.8 694.2L662.0 695.2L662.1 696.2L662.3 697.2L662.4 698.3L662.6 699.4L662.7 700.5L662.9 701.6L663.0 702.7L663.2 703.9L663.3 705.0L663.5 706.2L663.6 707.3L663.8 708.5L663.9 709.7L664.1 710.9L664.2 712.1L664.4 713.2L664.5 714.4L664.7 715.6L664.8 716.8L665.0 718.0L665.1 719.2L665.3 720.5L665.4 721.7L665.6 723.0L665.7 724.2L665.9 725.5L666.0 726.8L666.2 728.0L666.3 729.3L666.5 730.5L666.6 731.8L666.8 733.0L666.9 734.2L667.1 735.4L667.2 736.6L667.4 737.8L667.5 739.0L667.7 740.1L667.8 741.3L668.0 742.5L668.1 743.7L668.3 744.9L668.4 746.0L668.6 747.2L668.7 748.3L668.9 749.5L669.0 750.6L669.2 751.6L669.3 752.7L669.5 753.8L669.6 754.8L669.8 755.7L669.9 756.7L670.1 757.6L670.2 758.5L670.4 759.4L670.6 760.6L670.8 761.7L671.0 762.9L671.2 764.0L671.4 765.0L671.6 766.1L671.8 767.1L672.0 768.1L672.2 769.1L672.4 770.1L672.6 771.0L672.8 772.0L673.0 772.9L673.2 774.0L673.5 775.0L673.7 776.0L674.0 777.0L674.2 778.0L674.5 779.0L674.7 779.9L675.0 780.8L675.2 781.7L675.5 782.7L675.8 783.7L676.1 784.6L676.4 785.5L676.8 786.5L677.1 787.4L677.5 788.3L677.8 789.2L678.2 790.1L678.5 791.0L678.9 791.9L679.2 792.7L679.6 793.6L680.0 794.5L680.5 795.3L681.0 796.1L681.6 796.8L682.4 797.2L683.3 797.6L684.1 797.9L685.0 798.2L685.9 798.5L686.8 798.7L687.7 798.9L688.6 799.1L689.5 799.2L690.4 799.3L691.3 799.4L692.0 799.4" fill="none" stroke="#555" stroke-width="1" stroke-dasharray="4.5 2 1.6 2.5" stroke-linejoin="round"/>
<path d="M518.4 799.5L519.3 799.5L520.2 799.5L521.1 799.5L522.0 799.5L522.9 799.5L523.8 799.5L524.7 799.5L525.6 799.5L526.5 799.5L527.4 799.5L528.3 799.5L529.2 799.5L530.1 799.5L531.0 799.4L531.9 799.4L532.8 799.4L533.7 799.4L534.6 799.4L535.5 799.4L536.4 799.4L537.3 799.4L538.2 799.4L539.1 799.4L540.0 799.4L540.9 799.4L541.8 799.4L542.7 799.4L543.6 799.4L544.5 799.4L545.4 799.4L546.3 799.4L547.2 799.4L548.1 799.4L549.0 799.4L549.9 799.3L550.8 799.3L551.7 799.3L552.6 799.3L553.5 799.3L554.4 799.3L555.3 799.3L556.2 799.3L557.1 799.2L558.0 799.2L558.9 799.1L559.8 799.1L560.7 799.0L561.6 798.9L562.5 798.8L563.4 798.7L564.3 798.6L565.2 798.5L566.1 798.3L567.0 798.2L567.9 798.1L568.8 797.9L569.7 797.6L570.6 797.4L571.5 797.1L572.3 796.8L573.2 796.4L574.0 796.1L574.9 795.7L575.7 795.2L576.6 794.8L577.4 794.4L578.2 794.0L579.0 793.5L579.7 792.9L580.5 792.4L581.2 791.8L581.9 791.2L582.6 790.6L583.3 789.9L583.9 789.3L584.6 788.6L585.2 787.9L585.9 787.2L586.5 786.5L587.1 785.8L587.6 785.0L588.2 784.3L588.7 783.5L589.3 782.7L589.8 781.9L590.3 781.1L590.8 780.3L591.3 779.5L591.8 778.7L592.2 777.9L592.7 777.1L593.1 776.2L593.6 775.4L594.0 774.5L594.4 773.6L594.8 772.8L595.2 771.9L595.6 771.1L596.0 770.2L596.4 769.3L596.8 768.4L597.2 767.5L597.6 766.6L597.9 765.8L598.3 764.9L598.6 764.0L599.0 763.2L599.3 762.3L599.7 761.3L600.0 760.4L600.4 759.5L600.7 758.6L601.1 757.7L601.4 756.7L601.8 755.8L602.1 754.9L602.5 753.9L602.8 753.0L603.2 752.0L603.5 751.1L603.9 750.1L604.2 749.2L604.6 748.2L604.9 747.2L605.3 746.2L605.6 745.4L605.9 744.5L606.2 743.7L606.5 742.8L606.8 741.9L607.1 741.1L607.4 740.2L607.7 739.3L608.0 738.4L608.3 737.5L608.6 736.6L608.9 735.7L609.2 734.8L609.5 733.9L609.8 733.0L610.1 732.1L610.4 731.2L610.7 730.3L611.0 729.3L611.3 728.4L611.6 727.5L611.9 726.6L612.2 725.6L612.5 724.7L612.8 723.7L613.1 722.8L613.4 721.8L613.7 720.9L614.0 719.9L614.3 719.0L614.6 718.0L614.9 717.0L615.2 716.1L615.5 715.2L615.8 714.2L616.1 713.3L616.4 712.4L616.7 711.5L617.0 710.6L617.3 709.7L617.6 708.8L617.9 707.9L618.2 707.0L618.5 706.2L618.8 705.3L619.1 704.4L619.4 703.5L619.7 702.7L620.0 701.8L620.3 700.9L620.6 700.0L620.9 699.1L621.2 698.2L621.5 697.3L621.8 696.4L622.1 695.6L622.4 694.7L622.7 693.8L623.0 692.9L623.3 692.0L623.6 691.1L623.9 690.2L624.2 689.3L624.5 688.4L624.8 687.4L625.1 686.5L625.4 685.6L625.7 684.6L626.0 683.6L626.3 682.7L626.6 681.7L626.9 680.7L627.2 679.7L627.5 678.7L627.8 677.7L628.1 676.7L628.4 675.7L628.7 674.7L629.0 673.7L629.3 672.7L629.6 671.8L629.9 670.8L630.2 669.8L630.5 668.8L630.8 667.8L631.1 666.8L631.4 665.8L631.7 664.8L632.0 663.8L632.3 662.8L632.6 661.8L632.9 660.8L633.2 659.8L633.5 658.9L633.8 657.9L634.1 657.0L634.4 656.0L634.7 655.1L635.0 654.2L635.3 653.3L635.6 652.4L635.9 651.5L636.2 650.6L636.5 649.7L636.8 648.8L637.1 647.9L637.4 647.1L637.7 646.2L638.0 645.3L638.3 644.4L638.6 643.6L638.9 642.7L639.2 641.8L639.5 640.9L639.8 640.0L640.1 639.0L640.4 638.0L640.7 637.1L641.0 636.1L641.3 635.1L641.6 634.1L641.9 633.2L642.2 632.2L642.5 631.3L642.8 630.4L643.1 629.5L643.5 628.6L643.8 627.7L644.2 626.9L644.6 626.1L645.1 625.2L645.5 624.4L646.0 623.5L646.5 622.7L647.1 621.9L647.6 621.2L648.2 620.5L648.7 619.7L649.3 619.0L649.9 618.3L650.5 617.7L651.3 617.2L652.2 617.0L652.9 617.7L653.3 618.5L653.7 619.4L654.1 620.3L654.5 621.2L654.8 622.1L655.1 623.0L655.4 624.0L655.7 625.0L655.9 626.0L656.2 627.1L656.4 628.0L656.6 629.0L656.8 630.0L657.0 631.0L657.2 632.0L657.4 633.1L657.6 634.2L657.8 635.3L658.0 636.4L658.2 637.5L658.4 638.6L658.6 639.7L658.7 640.6L658.9 641.6L659.0 642.5L659.2 643.5L659.3 644.5L659.5 645.5L659.6 646.6L659.8 647.7L659.9 648.7L660.1 649.8L660.2 650.9L660.4 652.0L660.5 653.2L660.7 654.3L660.8 655.4L661.0 656.5L661.1 657.6L661.3 658.7L661.4 659.9L661.6 661.0L661.7 662.2L661.9 663.3L662.0 664.5L662.2 665.7L662.3 666.8L662.5 668.0L662.6 669.2L662.8 670.5L662.9 671.7L663.1 672.9L663.2 674.1L663.4 675.4L663.5 676.6L663.7 677.9L663.8 679.2L664.0 680.5L664.1 681.7L664.3 683.0L664.4 684.3L664.6 685.7L664.7 687.0L664.9 688.3L665.0 689.2L665.1 690.1L665.2 691.0L665.3 691.9L665.4 692.8L665.5 693.8L665.6 694.7L665.7 695.6L665.8 696.5L665.9 697.5L666.0 698.4L666.1 699.4L666.2 700.3L666.3 701.3L666.4 702.3L666.5 703.3L666.6 704.3L666.7 705.3L666.8 706.4L666.9 707.4L667.0 708.5L667.1 709.6L667.2 710.6L667.3 711.7L667.4 712.8L667.5 713.9L667.6 714.9L667.7 716.0L667.8 717.0L667.9 718.1L668.0 719.1L668.1 720.1L668.2 721.0L668.3 722.0L668.4 722.9L668.5 723.8L668.6 725.1L668.8 726.4L668.9 727.7L669.1 728.9L669.2 730.1L669.4 731.3L669.5 732.5L669.7 733.7L669.8 734.8L670.0 736.0L670.1 737.1L670.3 738.3L670.4 739.4L670.6 740.6L670.7 741.7L670.9 742.9L671.0 744.1L671.2 745.3L671.3 746.5L671.5 747.8L671.6 749.1L671.8 750.3L671.9 751.6L672.1 752.9L672.2 754.2L672.4 755.5L672.5 756.7L672.7 758.0L672.8 759.2L673.0 760.4L673.1 761.6L673.3 762.7L673.4 763.8L673.6 764.8L673.7 765.8L673.9 766.7L674.0 767.6L674.2 768.6L674.3 769.5L674.5 770.3L674.7 771.5L674.9 772.6L675.1 773.8L675.3 774.8L675.5 775.9L675.7 776.9L675.9 777.9L676.1 778.9L676.3 779.8L676.5 780.7L676.7 781.7L677.0 782.7L677.2 783.6L677.5 784.6L677.8 785.6L678.1 786.5L678.4 787.5L678.7 788.4L679.0 789.2L679.4 790.2L679.7 791.1L680.1 792.0L680.5 792.8L680.9 793.7L681.4 794.5L682.1 795.2L682.8 795.8L683.5 796.4L684.2 797.0L685.0 797.5L685.8 797.9L686.7 798.3L687.6 798.5L688.5 798.6L689.4 798.7L690.3 798.8L691.2 798.8L692.1 798.9L693.0 798.9L693.9 798.9L694.8 799.0L695.7 799.0L696.6 799.0L697.3 799.0" fill="none" stroke="#000" stroke-width="1.95" stroke-linejoin="round"/>
<path d="M896.5 799.4L897.4 799.4L898.3 799.4L899.2 799.4L900.1 799.4L901.0 799.4L901.9 799.4L902.8 799.4L903.7 799.4L904.6 799.4L905.5 799.4L906.4 799.4L907.3 799.4L908.2 799.4L909.1 799.4L910.0 799.4L910.9 799.4L911.8 799.4L912.7 799.4L913.6 799.4L914.5 799.4L915.4 799.3L916.3 799.3L917.2 799.3L918.1 799.3L919.0 799.3L919.9 799.3L920.8 799.3L921.7 799.3L922.6 799.3L923.5 799.3L924.4 799.3L925.3 799.3L926.2 799.3L927.1 799.3L928.0 799.3L928.9 799.2L929.8 799.2L930.7 799.2L931.6 799.2L932.5 799.2L933.4 799.2L934.3 799.2L935.2 799.2L936.1 799.2L937.0 799.1L937.9 799.1L938.8 799.1L939.7 799.1L940.6 799.1L941.5 799.1L942.4 799.0L943.3 799.0L944.2 798.9L945.1 798.8L946.0 798.7L946.9 798.7L947.8 798.6L948.7 798.4L949.6 798.3L950.5 798.2L951.4 798.1L952.3 797.9L953.2 797.8L954.1 797.6L955.0 797.5L955.9 797.3L956.8 797.1L957.7 796.9L958.6 796.6L959.5 796.3L960.3 796.0L961.2 795.7L962.0 795.3L962.9 795.0L963.7 794.6L964.6 794.2L965.4 793.8L966.3 793.4L967.1 792.9L968.0 792.5L968.8 792.1L969.7 791.6L970.5 791.2L971.3 790.7L972.1 790.2L972.8 789.7L973.6 789.2L974.3 788.6L975.1 788.1L975.8 787.5L976.6 786.9L977.3 786.4L978.1 785.8L978.8 785.2L979.6 784.7L980.3 784.2L981.1 783.7L981.9 783.1L982.7 782.6L983.5 782.1L984.3 781.6L985.1 781.1L985.9 780.6L986.7 780.1L987.5 779.6L988.3 779.1L989.1 778.6L989.9 778.1L990.7 777.6L991.5 777.1L992.3 776.6L993.1 776.1L993.9 775.6L994.7 775.1L995.5 774.6L996.3 774.1L997.1 773.6L997.9 773.1L998.7 772.6L999.5 772.2L1000.3 771.7L1001.1 771.3L1001.9 770.9L1002.7 770.5L1003.5 770.0L1004.4 769.6L1005.2 769.2L1006.1 768.8L1006.9 768.3L1007.8 768.0L1008.6 767.6L1009.5 767.4L1010.4 767.1L1011.3 766.9L1012.2 766.7L1013.1 766.4L1014.0 766.2L1014.9 766.0L1015.8 765.7L1016.7 765.5L1017.6 765.3L1018.5 765.1L1019.4 765.0L1020.3 764.9L1021.2 764.8L1022.1 764.8L1023.0 764.8L1023.9 765.0L1024.8 765.2L1025.7 765.5L1026.6 765.8L1027.5 766.1L1028.3 766.5L1029.1 767.0L1029.9 767.5L1030.7 768.0L1031.4 768.7L1032.0 769.3L1032.6 770.1L1033.1 770.8L1033.7 771.6L1034.2 772.4L1034.8 773.1L1035.3 773.9L1035.9 774.6L1036.5 775.4L1037.1 776.0L1037.7 776.8L1038.4 777.5L1039.0 778.2L1039.7 778.9L1040.3 779.5L1041.0 780.2L1041.7 780.9L1042.4 781.5L1043.1 782.1L1043.8 782.6L1044.6 783.2L1045.4 783.6L1046.2 784.1L1047.0 784.6L1047.8 785.2L1048.5 785.8L1049.1 786.5L1049.7 787.2L1050.2 788.0L1050.7 788.8L1051.2 789.6L1051.7 790.4L1052.2 791.2L1052.8 791.9L1053.3 792.6L1053.9 793.4L1054.4 794.1L1055.0 794.9L1055.6 795.6L1056.3 796.2L1057.0 796.8L1057.8 797.3L1058.6 797.7L1059.4 798.1L1060.3 798.5L1061.2 798.8L1062.1 799.0L1063.0 799.1L1063.9 799.2L1064.8 799.2L1065.7 799.3L1066.6 799.3L1067.5 799.4L1068.4 799.4L1069.3 799.4L1070.0 799.4" fill="none" stroke="#555" stroke-width="1" stroke-linejoin="round"/>
<path d="M896.5 799.4L897.4 799.4L898.3 799.4L899.2 799.4L900.1 799.4L901.0 799.4L901.9 799.4L902.8 799.4L903.7 799.4L904.6 799.4L905.5 799.4L906.4 799.4L907.3 799.4L908.2 799.4L909.1 799.4L910.0 799.4L910.9 799.4L911.8 799.4L912.7 799.4L913.6 799.4L914.5 799.4L915.4 799.4L916.3 799.3L917.2 799.3L918.1 799.3L919.0 799.3L919.9 799.3L920.8 799.3L921.7 799.3L922.6 799.3L923.5 799.3L924.4 799.3L925.3 799.3L926.2 799.3L927.1 799.3L928.0 799.3L928.9 799.2L929.8 799.2L930.7 799.2L931.6 799.2L932.5 799.2L933.4 799.2L934.3 799.2L935.2 799.2L936.1 799.2L937.0 799.1L937.9 799.1L938.8 799.1L939.7 799.1L940.6 799.1L941.5 799.1L942.4 799.0L943.3 798.9L944.2 798.9L945.1 798.8L946.0 798.7L946.9 798.6L947.8 798.5L948.7 798.3L949.6 798.2L950.5 798.0L951.4 797.9L952.3 797.7L953.2 797.5L954.1 797.4L955.0 797.2L955.9 797.0L956.8 796.8L957.7 796.5L958.5 796.2L959.4 795.8L960.2 795.5L961.1 795.1L961.9 794.7L962.8 794.3L963.6 793.9L964.4 793.4L965.2 793.0L966.0 792.6L966.8 792.1L967.6 791.7L968.4 791.2L969.2 790.8L970.0 790.3L970.8 789.8L971.6 789.3L972.4 788.8L973.2 788.3L973.9 787.8L974.7 787.2L975.4 786.7L976.2 786.1L976.9 785.5L977.7 785.0L978.4 784.4L979.2 783.9L979.9 783.3L980.7 782.7L981.4 782.2L982.2 781.7L982.9 781.1L983.7 780.6L984.4 780.0L985.2 779.4L985.9 778.9L986.7 778.3L987.4 777.8L988.2 777.2L988.9 776.7L989.7 776.1L990.4 775.5L991.2 775.0L991.9 774.5L992.7 774.0L993.4 773.5L994.2 772.9L994.9 772.4L995.7 771.9L996.4 771.3L997.2 770.7L997.9 770.2L998.6 769.5L999.3 768.9L999.9 768.2L1000.5 767.5L1001.1 766.7L1001.6 765.9L1002.2 765.2L1002.7 764.4L1003.3 763.6L1003.9 762.9L1004.5 762.2L1005.2 761.6L1006.0 761.1L1006.8 760.6L1007.6 760.2L1008.4 759.7L1009.2 759.2L1009.9 758.6L1010.6 758.0L1011.3 757.4L1012.0 756.7L1012.7 756.1L1013.4 755.6L1014.2 755.1L1015.1 754.7L1015.9 754.4L1016.8 754.1L1017.7 753.9L1018.6 753.7L1019.5 753.5L1020.4 753.4L1021.3 753.3L1022.2 753.2L1023.1 753.1L1024.0 753.1L1024.9 753.2L1025.8 753.4L1026.7 753.7L1027.6 754.0L1028.4 754.4L1029.3 754.8L1030.1 755.2L1030.8 755.7L1031.6 756.3L1032.3 757.0L1032.8 757.7L1033.3 758.5L1033.8 759.3L1034.2 760.2L1034.6 761.1L1035.0 762.0L1035.4 762.9L1035.8 763.8L1036.2 764.7L1036.6 765.7L1037.0 766.6L1037.4 767.5L1037.8 768.4L1038.2 769.2L1038.6 770.0L1039.0 770.9L1039.4 771.7L1039.8 772.6L1040.2 773.5L1040.6 774.4L1041.0 775.2L1041.4 776.1L1041.8 776.9L1042.3 777.8L1042.7 778.7L1043.2 779.5L1043.7 780.3L1044.2 781.0L1044.8 781.8L1045.4 782.5L1046.1 783.2L1046.7 783.8L1047.4 784.5L1048.0 785.2L1048.6 785.9L1049.2 786.6L1049.8 787.4L1050.3 788.3L1050.7 789.1L1051.2 789.9L1051.6 790.7L1052.1 791.6L1052.5 792.4L1053.0 793.2L1053.6 794.0L1054.2 794.7L1054.8 795.4L1055.5 796.1L1056.1 796.7L1056.8 797.4L1057.6 797.9L1058.4 798.3L1059.3 798.5L1060.2 798.7L1061.1 798.8L1062.0 798.9L1062.9 799.0L1063.8 799.1L1064.7 799.2L1065.6 799.3L1066.5 799.3L1067.4 799.4L1068.3 799.4L1069.2 799.4L1070.0 799.4" fill="none" stroke="#555" stroke-width="1.1" stroke-dasharray="6 4" stroke-linejoin="round"/>
<path d="M896.5 799.4L897.4 799.4L898.3 799.4L899.2 799.4L900.1 799.4L901.0 799.4L901.9 799.4L902.8 799.4L903.7 799.4L904.6 799.4L905.5 799.4L906.4 799.4L907.3 799.4L908.2 799.4L909.1 799.4L910.0 799.4L910.9 799.4L911.8 799.4L912.7 799.4L913.6 799.4L914.5 799.4L915.4 799.4L916.3 799.3L917.2 799.3L918.1 799.3L919.0 799.3L919.9 799.3L920.8 799.3L921.7 799.3L922.6 799.3L923.5 799.3L924.4 799.3L925.3 799.3L926.2 799.3L927.1 799.3L928.0 799.3L928.9 799.2L929.8 799.2L930.7 799.2L931.6 799.2L932.5 799.2L933.4 799.2L934.3 799.2L935.2 799.2L936.1 799.2L937.0 799.1L937.9 799.1L938.8 799.1L939.7 799.1L940.6 799.1L941.5 799.0L942.4 799.0L943.3 798.9L944.2 798.8L945.1 798.7L946.0 798.6L946.9 798.5L947.8 798.3L948.7 798.2L949.6 798.0L950.5 797.8L951.4 797.6L952.3 797.4L953.2 797.2L954.1 797.0L955.0 796.8L955.9 796.6L956.8 796.3L957.6 796.0L958.5 795.6L959.3 795.3L960.2 794.9L961.0 794.5L961.8 794.0L962.6 793.6L963.4 793.2L964.2 792.7L965.0 792.2L965.8 791.7L966.6 791.2L967.4 790.7L968.2 790.2L969.0 789.7L969.8 789.2L970.6 788.7L971.4 788.2L972.1 787.6L972.9 787.1L973.6 786.5L974.4 785.9L975.1 785.4L975.8 784.8L976.5 784.2L977.2 783.6L977.9 783.0L978.6 782.4L979.3 781.7L980.0 781.1L980.7 780.4L981.4 779.8L982.1 779.1L982.7 778.4L983.4 777.7L984.0 777.0L984.6 776.3L985.2 775.6L985.8 774.9L986.4 774.2L987.0 773.5L987.6 772.8L988.2 772.1L988.8 771.4L989.4 770.7L990.0 770.1L990.6 769.4L991.2 768.7L991.8 768.0L992.4 767.3L993.0 766.7L993.6 766.0L994.2 765.3L994.8 764.6L995.4 763.9L996.0 763.2L996.7 762.5L997.3 761.8L998.0 761.1L998.6 760.4L999.3 759.7L999.9 759.0L1000.6 758.4L1001.3 757.7L1002.0 757.1L1002.7 756.4L1003.3 755.8L1004.0 755.1L1004.6 754.4L1005.2 753.7L1005.8 752.9L1006.4 752.2L1006.9 751.4L1007.5 750.6L1008.1 749.9L1008.7 749.2L1009.3 748.5L1010.0 747.9L1010.7 747.2L1011.4 746.6L1012.1 746.0L1012.8 745.4L1013.5 744.8L1014.2 744.2L1014.9 743.5L1015.5 742.9L1016.2 742.3L1016.8 741.6L1017.5 741.0L1018.3 740.4L1019.1 740.0L1019.9 739.6L1020.8 739.2L1021.6 738.9L1022.5 738.6L1023.4 738.4L1024.3 738.4L1025.2 738.6L1026.1 738.9L1027.0 739.3L1027.8 739.7L1028.6 740.2L1029.3 740.8L1030.0 741.5L1030.6 742.2L1031.2 743.0L1031.7 743.7L1032.3 744.5L1032.8 745.3L1033.2 746.2L1033.7 747.1L1034.1 747.9L1034.5 748.8L1034.9 749.7L1035.2 750.5L1035.6 751.4L1035.9 752.3L1036.3 753.1L1036.6 754.0L1037.0 754.9L1037.3 755.8L1037.7 756.7L1038.0 757.6L1038.4 758.4L1038.7 759.3L1039.1 760.2L1039.4 761.2L1039.8 762.1L1040.1 763.1L1040.5 764.0L1040.8 765.0L1041.2 766.0L1041.5 766.8L1041.8 767.7L1042.1 768.5L1042.4 769.4L1042.7 770.3L1043.0 771.1L1043.3 772.0L1043.6 773.0L1044.0 773.9L1044.3 774.9L1044.7 775.9L1045.0 776.9L1045.3 777.7L1045.6 778.6L1045.9 779.4L1046.2 780.3L1046.5 781.2L1046.8 782.1L1047.1 782.9L1047.5 783.9L1047.8 784.8L1048.2 785.8L1048.5 786.6L1048.9 787.6L1049.3 788.4L1049.7 789.2L1050.1 790.0L1050.5 790.8L1051.0 791.7L1051.4 792.6L1051.9 793.4L1052.4 794.2L1052.9 795.0L1053.5 795.7L1054.2 796.3L1055.0 796.9L1055.7 797.4L1056.5 797.8L1057.4 798.3L1058.2 798.6L1059.1 798.9L1060.0 799.0L1060.9 799.1L1061.8 799.1L1062.7 799.2L1063.6 799.2L1064.5 799.3L1065.4 799.3L1066.3 799.3L1067.2 799.4L1068.1 799.4L1069.0 799.4L1069.9 799.4L1070.0 799.4" fill="none" stroke="#888" stroke-width="1.05" stroke-dasharray="1.1 1.5" stroke-linejoin="round"/>
<path d="M896.5 799.4L897.4 799.4L898.3 799.4L899.2 799.4L900.1 799.4L901.0 799.4L901.9 799.4L902.8 799.4L903.7 799.4L904.6 799.4L905.5 799.4L906.4 799.4L907.3 799.4L908.2 799.4L909.1 799.4L910.0 799.4L910.9 799.4L911.8 799.4L912.7 799.4L913.6 799.3L914.5 799.3L915.4 799.3L916.3 799.3L917.2 799.3L918.1 799.3L919.0 799.3L919.9 799.3L920.8 799.3L921.7 799.3L922.6 799.3L923.5 799.3L924.4 799.2L925.3 799.2L926.2 799.2L927.1 799.2L928.0 799.2L928.9 799.2L929.8 799.2L930.7 799.2L931.6 799.2L932.5 799.1L933.4 799.1L934.3 799.1L935.2 799.1L936.1 799.1L937.0 799.0L937.9 799.0L938.8 798.9L939.7 798.8L940.6 798.7L941.5 798.6L942.4 798.5L943.3 798.4L944.2 798.2L945.1 798.1L946.0 797.9L946.9 797.8L947.8 797.6L948.7 797.4L949.6 797.3L950.5 797.1L951.4 796.9L952.3 796.7L953.2 796.4L954.1 796.1L955.0 795.8L955.8 795.5L956.7 795.1L957.5 794.8L958.4 794.4L959.2 794.0L960.1 793.6L960.9 793.2L961.8 792.8L962.6 792.4L963.4 791.9L964.2 791.5L965.0 791.0L965.8 790.5L966.6 790.0L967.3 789.4L968.1 788.9L968.8 788.3L969.5 787.7L970.2 787.1L970.9 786.5L971.6 785.9L972.3 785.2L973.0 784.6L973.7 784.0L974.4 783.3L975.1 782.6L975.8 782.0L976.5 781.3L977.1 780.7L977.8 780.0L978.4 779.4L979.1 778.7L979.7 777.9L980.3 777.3L980.9 776.6L981.5 775.9L982.1 775.1L982.7 774.4L983.3 773.7L983.9 772.9L984.5 772.2L985.0 771.4L985.6 770.7L986.1 769.9L986.7 769.1L987.2 768.3L987.7 767.6L988.2 766.8L988.7 766.0L989.2 765.2L989.7 764.3L990.2 763.5L990.7 762.7L991.2 761.8L991.6 761.0L992.1 760.2L992.5 759.4L993.0 758.6L993.4 757.8L993.9 756.9L994.3 756.1L994.8 755.2L995.2 754.3L995.6 753.5L996.0 752.7L996.4 751.8L996.8 751.0L997.2 750.2L997.6 749.4L998.0 748.5L998.4 747.7L998.8 746.8L999.2 746.0L999.6 745.2L1000.0 744.3L1000.4 743.5L1000.8 742.6L1001.2 741.7L1001.6 740.8L1002.0 739.9L1002.4 739.1L1002.8 738.2L1003.2 737.3L1003.6 736.4L1004.0 735.5L1004.4 734.7L1004.8 733.8L1005.2 733.0L1005.6 732.2L1006.0 731.3L1006.4 730.4L1006.8 729.5L1007.2 728.6L1007.6 727.7L1008.0 726.8L1008.3 726.0L1008.7 725.1L1009.0 724.3L1009.4 723.4L1009.7 722.5L1010.1 721.7L1010.4 720.8L1010.8 720.0L1011.1 719.1L1011.5 718.3L1011.9 717.4L1012.3 716.4L1012.7 715.5L1013.1 714.7L1013.5 713.8L1013.9 713.0L1014.3 712.1L1014.7 711.3L1015.1 710.5L1015.5 709.6L1016.0 708.8L1016.4 707.9L1016.9 707.1L1017.4 706.3L1017.9 705.5L1018.4 704.7L1018.9 703.9L1019.5 703.1L1020.0 702.3L1020.6 701.6L1021.2 700.8L1021.8 700.1L1022.5 699.5L1023.2 698.9L1023.9 698.2L1024.6 697.6L1025.4 697.1L1026.1 696.5L1026.9 696.1L1027.8 695.7L1028.7 695.6L1029.6 695.7L1030.4 696.1L1031.2 696.6L1032.0 697.2L1032.7 697.7L1033.4 698.4L1033.9 699.1L1034.4 699.9L1034.9 700.8L1035.3 701.6L1035.8 702.5L1036.2 703.4L1036.7 704.3L1037.1 705.2L1037.6 706.0L1038.0 706.8L1038.5 707.7L1038.9 708.5L1039.4 709.4L1039.8 710.2L1040.2 711.0L1040.6 711.9L1041.0 712.9L1041.3 713.7L1041.7 714.7L1042.0 715.6L1042.3 716.5L1042.6 717.4L1042.9 718.4L1043.2 719.3L1043.4 720.3L1043.7 721.3L1043.9 722.3L1044.1 723.2L1044.3 724.3L1044.5 725.3L1044.7 726.5L1044.9 727.6L1045.0 728.5L1045.2 729.5L1045.3 730.4L1045.5 731.4L1045.6 732.4L1045.8 733.4L1045.9 734.5L1046.1 735.6L1046.2 736.7L1046.4 737.8L1046.5 738.9L1046.7 740.1L1046.8 741.2L1047.0 742.4L1047.1 743.7L1047.2 744.6L1047.3 745.6L1047.4 746.7L1047.5 747.8L1047.6 748.9L1047.7 750.1L1047.8 751.3L1047.9 752.6L1048.0 753.8L1048.1 755.1L1048.2 756.3L1048.3 757.6L1048.4 758.8L1048.5 760.0L1048.6 761.2L1048.7 762.3L1048.8 763.5L1048.9 764.5L1049.0 765.5L1049.1 766.4L1049.3 767.7L1049.4 768.9L1049.6 770.0L1049.7 771.2L1049.9 772.3L1050.0 773.4L1050.2 774.4L1050.3 775.5L1050.5 776.5L1050.6 777.5L1050.8 778.5L1050.9 779.4L1051.1 780.3L1051.3 781.5L1051.5 782.5L1051.7 783.5L1051.9 784.4L1052.1 785.5L1052.4 786.4L1052.7 787.3L1053.0 788.2L1053.3 789.2L1053.7 790.1L1054.0 791.0L1054.4 791.9L1054.8 792.8L1055.3 793.6L1055.8 794.5L1056.3 795.3L1057.0 796.0L1057.7 796.5L1058.5 797.0L1059.3 797.5L1060.2 797.9L1061.0 798.3L1061.9 798.6L1062.8 798.8L1063.7 799.0L1064.6 799.1L1065.5 799.1L1066.4 799.2L1067.3 799.3L1068.2 799.3L1069.1 799.3L1070.0 799.4L1070.9 799.4L1071.8 799.4L1072.0 799.4" fill="none" stroke="#555" stroke-width="1" stroke-dasharray="4.5 2 1.6 2.5" stroke-linejoin="round"/>
<path d="M896.5 799.4L897.4 799.4L898.3 799.4L899.2 799.4L900.1 799.4L901.0 799.4L901.9 799.4L902.8 799.4L903.7 799.4L904.6 799.4L905.5 799.4L906.4 799.4L907.3 799.4L908.2 799.4L909.1 799.4L910.0 799.3L910.9 799.3L911.8 799.3L912.7 799.3L913.6 799.3L914.5 799.3L915.4 799.3L916.3 799.3L917.2 799.3L918.1 799.3L919.0 799.3L919.9 799.3L920.8 799.3L921.7 799.3L922.6 799.3L923.5 799.3L924.4 799.3L925.3 799.3L926.2 799.3L927.1 799.3L928.0 799.3L928.9 799.3L929.8 799.3L930.7 799.2L931.6 799.2L932.5 799.2L933.4 799.2L934.3 799.2L935.2 799.2L936.1 799.2L937.0 799.1L937.9 799.1L938.8 799.0L939.7 798.9L940.6 798.9L941.5 798.8L942.4 798.7L943.3 798.5L944.2 798.4L945.1 798.3L946.0 798.2L946.9 798.0L947.8 797.9L948.7 797.7L949.6 797.4L950.5 797.2L951.4 796.9L952.3 796.6L953.1 796.3L954.0 796.0L954.8 795.6L955.7 795.3L956.5 794.9L957.4 794.5L958.2 794.1L959.0 793.7L959.8 793.2L960.6 792.7L961.4 792.2L962.2 791.7L963.0 791.2L963.7 790.7L964.5 790.1L965.2 789.6L966.0 789.0L966.7 788.4L967.4 787.8L968.1 787.2L968.8 786.6L969.5 785.9L970.2 785.3L970.8 784.6L971.5 784.0L972.1 783.2L972.7 782.6L973.3 781.8L973.9 781.1L974.5 780.3L975.1 779.6L975.6 778.9L976.2 778.1L976.7 777.4L977.3 776.6L977.8 775.8L978.4 775.0L978.9 774.2L979.4 773.4L979.9 772.6L980.4 771.8L980.9 771.0L981.4 770.1L981.8 769.3L982.3 768.5L982.7 767.7L983.2 766.8L983.6 765.9L984.0 765.1L984.4 764.3L984.8 763.4L985.2 762.6L985.6 761.7L986.0 760.9L986.4 760.0L986.8 759.2L987.2 758.3L987.6 757.4L988.0 756.6L988.4 755.7L988.8 754.8L989.2 753.9L989.6 753.0L990.0 752.1L990.4 751.2L990.8 750.2L991.2 749.3L991.6 748.4L991.9 747.6L992.3 746.7L992.6 745.9L993.0 745.0L993.3 744.1L993.7 743.2L994.0 742.3L994.4 741.4L994.7 740.6L995.1 739.7L995.4 738.8L995.8 737.9L996.1 737.0L996.5 736.1L996.8 735.3L997.2 734.4L997.5 733.5L997.9 732.6L998.2 731.7L998.6 730.9L998.9 730.0L999.3 729.1L999.6 728.3L1000.0 727.4L1000.3 726.5L1000.7 725.7L1001.0 724.8L1001.4 724.0L1001.7 723.1L1002.1 722.3L1002.4 721.4L1002.8 720.6L1003.1 719.7L1003.5 718.9L1003.8 718.0L1004.2 717.2L1004.5 716.4L1004.9 715.5L1005.2 714.7L1005.6 713.9L1005.9 713.0L1006.3 712.2L1006.7 711.3L1007.1 710.3L1007.5 709.4L1007.9 708.5L1008.3 707.5L1008.7 706.6L1009.1 705.7L1009.5 704.8L1009.9 703.9L1010.3 703.1L1010.7 702.3L1011.1 701.5L1011.5 700.6L1011.9 699.8L1012.3 698.9L1012.7 698.0L1013.1 697.1L1013.4 696.2L1013.8 695.4L1014.1 694.5L1014.5 693.6L1014.8 692.6L1015.2 691.7L1015.5 690.9L1015.9 690.0L1016.2 689.1L1016.6 688.2L1017.0 687.4L1017.5 686.5L1017.9 685.7L1018.4 684.8L1018.9 684.1L1019.5 683.2L1020.0 682.5L1020.6 681.7L1021.2 681.0L1021.8 680.2L1022.4 679.5L1023.0 678.7L1023.6 677.9L1024.1 677.2L1024.7 676.4L1025.2 675.7L1025.8 674.9L1026.3 674.1L1026.9 673.3L1027.4 672.6L1028.0 671.9L1028.7 671.2L1029.3 670.5L1030.0 669.9L1030.7 669.2L1031.5 668.8L1032.4 668.9L1033.1 669.5L1033.6 670.3L1034.1 671.1L1034.6 671.9L1035.1 672.8L1035.6 673.6L1036.0 674.4L1036.4 675.3L1036.7 676.2L1037.1 677.1L1037.4 678.0L1037.8 678.9L1038.1 679.9L1038.5 680.8L1038.8 681.8L1039.2 682.7L1039.5 683.6L1039.9 684.5L1040.2 685.4L1040.6 686.4L1040.9 687.3L1041.2 688.3L1041.5 689.2L1041.8 690.1L1042.0 691.1L1042.3 692.1L1042.5 693.1L1042.7 694.2L1042.9 695.4L1043.0 696.3L1043.2 697.3L1043.3 698.3L1043.5 699.4L1043.6 700.5L1043.8 701.6L1043.9 702.7L1044.1 703.8L1044.2 704.9L1044.4 706.0L1044.5 707.1L1044.7 708.2L1044.8 709.3L1045.0 710.5L1045.1 711.6L1045.3 712.8L1045.4 713.9L1045.6 715.1L1045.7 716.3L1045.9 717.5L1046.0 718.8L1046.2 720.0L1046.3 721.2L1046.5 722.4L1046.6 723.7L1046.8 724.9L1046.9 726.1L1047.1 727.3L1047.2 728.5L1047.4 729.8L1047.5 731.0L1047.7 732.2L1047.8 733.5L1048.0 734.7L1048.1 736.0L1048.3 737.3L1048.4 738.5L1048.6 739.8L1048.7 741.0L1048.9 742.2L1049.0 743.5L1049.2 744.7L1049.3 745.9L1049.5 747.1L1049.6 748.3L1049.8 749.6L1049.9 750.8L1050.1 752.0L1050.2 753.2L1050.4 754.5L1050.5 755.7L1050.7 756.9L1050.8 758.1L1051.0 759.2L1051.1 760.4L1051.3 761.5L1051.4 762.7L1051.6 763.8L1051.7 764.9L1051.9 766.0L1052.0 767.1L1052.2 768.2L1052.3 769.3L1052.5 770.4L1052.6 771.5L1052.8 772.5L1052.9 773.6L1053.1 774.6L1053.2 775.6L1053.4 776.6L1053.5 777.5L1053.7 778.6L1053.9 779.7L1054.1 780.6L1054.3 781.5L1054.5 782.4L1054.8 783.5L1055.0 784.5L1055.3 785.5L1055.5 786.5L1055.8 787.4L1056.1 788.4L1056.4 789.3L1056.7 790.2L1057.1 791.1L1057.5 791.9L1057.9 792.8L1058.4 793.6L1058.9 794.4L1059.4 795.2L1059.9 796.0L1060.5 796.7L1061.2 797.4L1062.0 797.8L1062.9 798.1L1063.8 798.4L1064.7 798.6L1065.6 798.8L1066.5 798.9L1067.4 799.0L1068.3 799.1L1069.2 799.2L1070.1 799.2L1071.0 799.3L1071.9 799.3L1072.8 799.4L1073.7 799.4L1074.6 799.4L1074.7 799.4" fill="none" stroke="#000" stroke-width="1.95" stroke-linejoin="round"/>
<text x="59.71" y="249.50" font-size="25.0" style="" fill="#000">10</text>
<text x="84.71" y="240.50" font-size="18.3" style="" fill="#000">−1</text>
<text x="119.05" y="249.50" font-size="25.0" style="" fill="#000">10</text>
<text x="144.05" y="240.50" font-size="18.3" style="" fill="#000">0</text>
<text x="173.22" y="249.50" font-size="25.0" style="" fill="#000">10</text>
<text x="198.22" y="240.50" font-size="18.3" style="" fill="#000">1</text>
<text x="227.39" y="249.50" font-size="25.0" style="" fill="#000">10</text>
<text x="252.39" y="240.50" font-size="18.3" style="" fill="#000">2</text>
<text x="281.56" y="249.50" font-size="25.0" style="" fill="#000">10</text>
<text x="306.56" y="240.50" font-size="18.3" style="" fill="#000">3</text>
<text x="335.73" y="249.50" font-size="25.0" style="" fill="#000">10</text>
<text x="360.73" y="240.50" font-size="18.3" style="" fill="#000">4</text>
<text x="72.25" y="228.80" font-size="25.0" style="" text-anchor="end" fill="#000">0</text>
<text x="72.25" y="169.90" font-size="25.0" style="" text-anchor="end" fill="#000">1</text>
<text x="72.25" y="111.00" font-size="25.0" style="" text-anchor="end" fill="#000">2</text>
<text x="72.25" y="52.10" font-size="25.0" style="" text-anchor="end" fill="#000">3</text>
<text x="431.66" y="249.50" font-size="25.0" style="" fill="#000">10</text>
<text x="456.66" y="240.50" font-size="18.3" style="" fill="#000">−1</text>
<text x="491.00" y="249.50" font-size="25.0" style="" fill="#000">10</text>
<text x="516.00" y="240.50" font-size="18.3" style="" fill="#000">0</text>
<text x="545.18" y="249.50" font-size="25.0" style="" fill="#000">10</text>
<text x="570.18" y="240.50" font-size="18.3" style="" fill="#000">1</text>
<text x="599.36" y="249.50" font-size="25.0" style="" fill="#000">10</text>
<text x="624.36" y="240.50" font-size="18.3" style="" fill="#000">2</text>
<text x="653.54" y="249.50" font-size="25.0" style="" fill="#000">10</text>
<text x="678.54" y="240.50" font-size="18.3" style="" fill="#000">3</text>
<text x="707.72" y="249.50" font-size="25.0" style="" fill="#000">10</text>
<text x="732.72" y="240.50" font-size="18.3" style="" fill="#000">4</text>
<text x="444.20" y="228.80" font-size="25.0" style="" text-anchor="end" fill="#000">0</text>
<text x="444.20" y="184.62" font-size="25.0" style="" text-anchor="end" fill="#000">1</text>
<text x="444.20" y="140.45" font-size="25.0" style="" text-anchor="end" fill="#000">2</text>
<text x="444.20" y="96.28" font-size="25.0" style="" text-anchor="end" fill="#000">3</text>
<text x="444.20" y="52.10" font-size="25.0" style="" text-anchor="end" fill="#000">4</text>
<text x="807.86" y="249.50" font-size="25.0" style="" fill="#000">10</text>
<text x="832.86" y="240.50" font-size="18.3" style="" fill="#000">−1</text>
<text x="867.18" y="249.50" font-size="25.0" style="" fill="#000">10</text>
<text x="892.18" y="240.50" font-size="18.3" style="" fill="#000">0</text>
<text x="921.35" y="249.50" font-size="25.0" style="" fill="#000">10</text>
<text x="946.35" y="240.50" font-size="18.3" style="" fill="#000">1</text>
<text x="975.50" y="249.50" font-size="25.0" style="" fill="#000">10</text>
<text x="1000.50" y="240.50" font-size="18.3" style="" fill="#000">2</text>
<text x="1029.66" y="249.50" font-size="25.0" style="" fill="#000">10</text>
<text x="1054.66" y="240.50" font-size="18.3" style="" fill="#000">3</text>
<text x="1083.83" y="249.50" font-size="25.0" style="" fill="#000">10</text>
<text x="1108.83" y="240.50" font-size="18.3" style="" fill="#000">4</text>
<text x="820.40" y="228.80" font-size="25.0" style="" text-anchor="end" fill="#000">0</text>
<text x="820.40" y="193.46" font-size="25.0" style="" text-anchor="end" fill="#000">1</text>
<text x="820.40" y="158.12" font-size="25.0" style="" text-anchor="end" fill="#000">2</text>
<text x="820.40" y="122.78" font-size="25.0" style="" text-anchor="end" fill="#000">3</text>
<text x="820.40" y="87.44" font-size="25.0" style="" text-anchor="end" fill="#000">4</text>
<text x="820.40" y="52.10" font-size="25.0" style="" text-anchor="end" fill="#000">5</text>
<text x="59.71" y="537.70" font-size="25.0" style="" fill="#000">10</text>
<text x="84.71" y="528.70" font-size="18.3" style="" fill="#000">−1</text>
<text x="119.05" y="537.70" font-size="25.0" style="" fill="#000">10</text>
<text x="144.05" y="528.70" font-size="18.3" style="" fill="#000">0</text>
<text x="173.22" y="537.70" font-size="25.0" style="" fill="#000">10</text>
<text x="198.22" y="528.70" font-size="18.3" style="" fill="#000">1</text>
<text x="227.39" y="537.70" font-size="25.0" style="" fill="#000">10</text>
<text x="252.39" y="528.70" font-size="18.3" style="" fill="#000">2</text>
<text x="281.56" y="537.70" font-size="25.0" style="" fill="#000">10</text>
<text x="306.56" y="528.70" font-size="18.3" style="" fill="#000">3</text>
<text x="335.73" y="537.70" font-size="25.0" style="" fill="#000">10</text>
<text x="360.73" y="528.70" font-size="18.3" style="" fill="#000">4</text>
<text x="72.25" y="517.00" font-size="25.0" style="" text-anchor="end" fill="#000">0</text>
<text x="72.25" y="472.73" font-size="25.0" style="" text-anchor="end" fill="#000">1</text>
<text x="72.25" y="428.45" font-size="25.0" style="" text-anchor="end" fill="#000">2</text>
<text x="72.25" y="384.18" font-size="25.0" style="" text-anchor="end" fill="#000">3</text>
<text x="72.25" y="339.90" font-size="25.0" style="" text-anchor="end" fill="#000">4</text>
<text x="431.66" y="537.50" font-size="25.0" style="" fill="#000">10</text>
<text x="456.66" y="528.50" font-size="18.3" style="" fill="#000">−1</text>
<text x="491.00" y="537.50" font-size="25.0" style="" fill="#000">10</text>
<text x="516.00" y="528.50" font-size="18.3" style="" fill="#000">0</text>
<text x="545.18" y="537.50" font-size="25.0" style="" fill="#000">10</text>
<text x="570.18" y="528.50" font-size="18.3" style="" fill="#000">1</text>
<text x="599.36" y="537.50" font-size="25.0" style="" fill="#000">10</text>
<text x="624.36" y="528.50" font-size="18.3" style="" fill="#000">2</text>
<text x="653.54" y="537.50" font-size="25.0" style="" fill="#000">10</text>
<text x="678.54" y="528.50" font-size="18.3" style="" fill="#000">3</text>
<text x="707.72" y="537.50" font-size="25.0" style="" fill="#000">10</text>
<text x="732.72" y="528.50" font-size="18.3" style="" fill="#000">4</text>
<text x="444.20" y="516.80" font-size="25.0" style="" text-anchor="end" fill="#000">0</text>
<text x="444.20" y="457.90" font-size="25.0" style="" text-anchor="end" fill="#000">1</text>
<text x="444.20" y="399.00" font-size="25.0" style="" text-anchor="end" fill="#000">2</text>
<text x="444.20" y="340.10" font-size="25.0" style="" text-anchor="end" fill="#000">3</text>
<text x="841.26" y="537.50" font-size="25.0" style="" fill="#000">10</text>
<text x="866.26" y="528.50" font-size="18.3" style="" fill="#000">−1</text>
<text x="893.94" y="537.50" font-size="25.0" style="" fill="#000">10</text>
<text x="918.94" y="528.50" font-size="18.3" style="" fill="#000">0</text>
<text x="941.46" y="537.50" font-size="25.0" style="" fill="#000">10</text>
<text x="966.46" y="528.50" font-size="18.3" style="" fill="#000">1</text>
<text x="988.98" y="537.50" font-size="25.0" style="" fill="#000">10</text>
<text x="1013.98" y="528.50" font-size="18.3" style="" fill="#000">2</text>
<text x="1036.50" y="537.50" font-size="25.0" style="" fill="#000">10</text>
<text x="1061.50" y="528.50" font-size="18.3" style="" fill="#000">3</text>
<text x="1084.02" y="537.50" font-size="25.0" style="" fill="#000">10</text>
<text x="1109.02" y="528.50" font-size="18.3" style="" fill="#000">4</text>
<text x="853.80" y="516.80" font-size="25.0" style="" text-anchor="end" fill="#000">0</text>
<text x="853.80" y="456.00" font-size="25.0" style="" text-anchor="end" fill="#000">0.005</text>
<text x="853.80" y="395.20" font-size="25.0" style="" text-anchor="end" fill="#000">0.010</text>
<text x="853.80" y="334.40" font-size="25.0" style="" text-anchor="end" fill="#000">0.015</text>
<text x="59.71" y="831.00" font-size="25.0" style="" fill="#000">10</text>
<text x="84.71" y="822.00" font-size="18.3" style="" fill="#000">−1</text>
<text x="119.06" y="831.00" font-size="25.0" style="" fill="#000">10</text>
<text x="144.06" y="822.00" font-size="18.3" style="" fill="#000">0</text>
<text x="173.25" y="831.00" font-size="25.0" style="" fill="#000">10</text>
<text x="198.25" y="822.00" font-size="18.3" style="" fill="#000">1</text>
<text x="227.44" y="831.00" font-size="25.0" style="" fill="#000">10</text>
<text x="252.44" y="822.00" font-size="18.3" style="" fill="#000">2</text>
<text x="281.63" y="831.00" font-size="25.0" style="" fill="#000">10</text>
<text x="306.63" y="822.00" font-size="18.3" style="" fill="#000">3</text>
<text x="335.82" y="831.00" font-size="25.0" style="" fill="#000">10</text>
<text x="360.82" y="822.00" font-size="18.3" style="" fill="#000">4</text>
<text x="72.25" y="809.60" font-size="25.0" style="" text-anchor="end" fill="#000">0</text>
<text x="72.25" y="765.35" font-size="25.0" style="" text-anchor="end" fill="#000">2</text>
<text x="72.25" y="721.10" font-size="25.0" style="" text-anchor="end" fill="#000">4</text>
<text x="72.25" y="676.85" font-size="25.0" style="" text-anchor="end" fill="#000">6</text>
<text x="72.25" y="632.60" font-size="25.0" style="" text-anchor="end" fill="#000">8</text>
<text x="464.56" y="830.50" font-size="25.0" style="" fill="#000">10</text>
<text x="489.56" y="821.50" font-size="18.3" style="" fill="#000">−1</text>
<text x="517.34" y="830.50" font-size="25.0" style="" fill="#000">10</text>
<text x="542.34" y="821.50" font-size="18.3" style="" fill="#000">0</text>
<text x="564.96" y="830.50" font-size="25.0" style="" fill="#000">10</text>
<text x="589.96" y="821.50" font-size="18.3" style="" fill="#000">1</text>
<text x="612.58" y="830.50" font-size="25.0" style="" fill="#000">10</text>
<text x="637.58" y="821.50" font-size="18.3" style="" fill="#000">2</text>
<text x="660.20" y="830.50" font-size="25.0" style="" fill="#000">10</text>
<text x="685.20" y="821.50" font-size="18.3" style="" fill="#000">3</text>
<text x="707.82" y="830.50" font-size="25.0" style="" fill="#000">10</text>
<text x="732.82" y="821.50" font-size="18.3" style="" fill="#000">4</text>
<text x="477.10" y="809.10" font-size="25.0" style="" text-anchor="end" fill="#000">0</text>
<text x="477.10" y="748.07" font-size="25.0" style="" text-anchor="end" fill="#000">0.005</text>
<text x="477.10" y="687.03" font-size="25.0" style="" text-anchor="end" fill="#000">0.010</text>
<text x="477.10" y="626.00" font-size="25.0" style="" text-anchor="end" fill="#000">0.015</text>
<text x="840.86" y="830.30" font-size="25.0" style="" fill="#000">10</text>
<text x="865.86" y="821.30" font-size="18.3" style="" fill="#000">−1</text>
<text x="893.61" y="830.30" font-size="25.0" style="" fill="#000">10</text>
<text x="918.61" y="821.30" font-size="18.3" style="" fill="#000">0</text>
<text x="941.18" y="830.30" font-size="25.0" style="" fill="#000">10</text>
<text x="966.18" y="821.30" font-size="18.3" style="" fill="#000">1</text>
<text x="988.76" y="830.30" font-size="25.0" style="" fill="#000">10</text>
<text x="1013.76" y="821.30" font-size="18.3" style="" fill="#000">2</text>
<text x="1036.35" y="830.30" font-size="25.0" style="" fill="#000">10</text>
<text x="1061.35" y="821.30" font-size="18.3" style="" fill="#000">3</text>
<text x="1083.92" y="830.30" font-size="25.0" style="" fill="#000">10</text>
<text x="1108.92" y="821.30" font-size="18.3" style="" fill="#000">4</text>
<text x="853.40" y="808.90" font-size="25.0" style="" text-anchor="end" fill="#000">0</text>
<text x="853.40" y="747.90" font-size="25.0" style="" text-anchor="end" fill="#000">0.005</text>
<text x="853.40" y="686.90" font-size="25.0" style="" text-anchor="end" fill="#000">0.010</text>
<text x="853.40" y="625.90" font-size="25.0" style="" text-anchor="end" fill="#000">0.015</text>
<rect x="97.6" y="53.2" width="81.8" height="116.5" fill="#fff" stroke="#666" stroke-width="1"/>
<path d="M106.2 68.4H131.3" fill="none" stroke="#555" stroke-width="1"/>
<text x="144.32" y="74.60" font-size="18.5" style="" fill="#000">h20</text>
<path d="M106.2 89.8H131.3" fill="none" stroke="#555" stroke-width="1.1" stroke-dasharray="6 4"/>
<text x="144.32" y="96.10" font-size="18.5" style="" fill="#000">h26</text>
<path d="M106.2 110.9H131.3" fill="none" stroke="#888" stroke-width="1.05" stroke-dasharray="1.1 1.5"/>
<text x="144.32" y="117.60" font-size="18.5" style="" fill="#000">h31</text>
<path d="M106.2 132.4H131.3" fill="none" stroke="#555" stroke-width="1" stroke-dasharray="4.5 2 1.6 2.5"/>
<text x="144.32" y="139.30" font-size="18.5" style="" fill="#000">h38</text>
<path d="M106.2 153.9H131.3" fill="none" stroke="#000" stroke-width="1.95"/>
<text x="144.32" y="160.90" font-size="18.5" style="" fill="#000">h42</text>
<text x="7.87" y="31.20" font-size="28">(</text>
<g transform="translate(18.20,32.10) scale(1.06,1)"><text x="-0.89" y="0" font-size="30" style="font-style:italic">a</text></g>
<text x="33.81" y="31.20" font-size="28">)</text>
<text x="382.87" y="31.20" font-size="28">(</text>
<g transform="translate(393.50,32.10) scale(1.04,1)"><text x="-1.11" y="0" font-size="30" style="font-style:italic">b</text></g>
<text x="408.81" y="31.20" font-size="28">)</text>
<text x="749.97" y="31.20" font-size="28">(</text>
<g transform="translate(760.80,32.10) scale(1.0,1)"><text x="-0.92" y="0" font-size="30" style="font-style:italic">c</text></g>
<text x="774.21" y="31.20" font-size="28">)</text>
<text x="6.82" y="318.90" font-size="28">(</text>
<g transform="translate(17.20,319.80) scale(1.05,1)"><text x="-0.91" y="0" font-size="30" style="font-style:italic">d</text></g>
<text x="33.81" y="318.90" font-size="28">)</text>
<text x="384.77" y="318.90" font-size="28">(</text>
<g transform="translate(395.10,319.80) scale(1.0,1)"><text x="-0.92" y="0" font-size="30" style="font-style:italic">e</text></g>
<text x="408.81" y="318.90" font-size="28">)</text>
<text x="746.57" y="318.90" font-size="28">(</text>
<g transform="translate(756.10,319.80) scale(1.32,1)"><text x="-0.34" y="0" font-size="30" style="font-style:italic">f</text></g>
<text x="773.81" y="318.90" font-size="28">)</text>
<text x="7.67" y="608.70" font-size="28">(</text>
<g transform="translate(18.20,609.60) scale(0.98,1)"><text x="-0.01" y="0" font-size="30" style="font-style:italic">g</text></g>
<text x="33.81" y="608.70" font-size="28">)</text>
<text x="382.67" y="608.70" font-size="28">(</text>
<g transform="translate(393.50,609.60) scale(1.07,1)"><text x="-1.08" y="0" font-size="30" style="font-style:italic">h</text></g>
<text x="408.81" y="608.70" font-size="28">)</text>
<text x="754.77" y="608.70" font-size="28">(</text>
<g transform="translate(766.20,609.60) scale(1.1,1)"><text x="-1.67" y="0" font-size="30" style="font-style:italic">i</text></g>
<text x="774.21" y="608.70" font-size="28">)</text>
<text x="79.77" y="29.30" font-size="23.5">(</text>
<path d="M90.40 18.60l11.2 11.2M101.60 18.60l-11.2 11.2" stroke="#000" stroke-width="1.45" fill="none"/>
<text x="111.70" y="30.20" font-size="25.0" style="" fill="#000">10</text>
<text x="136.69" y="20.60" font-size="18.3" style="" fill="#000">−3</text>
<text x="157.44" y="29.30" font-size="23.5">)</text>
<text x="451.87" y="29.30" font-size="23.5">(</text>
<path d="M462.50 18.60l11.2 11.2M473.70 18.60l-11.2 11.2" stroke="#000" stroke-width="1.45" fill="none"/>
<text x="483.80" y="30.20" font-size="25.0" style="" fill="#000">10</text>
<text x="508.79" y="20.60" font-size="18.3" style="" fill="#000">−3</text>
<text x="529.54" y="29.30" font-size="23.5">)</text>
<text x="832.57" y="29.30" font-size="23.5">(</text>
<path d="M843.20 18.60l11.2 11.2M854.40 18.60l-11.2 11.2" stroke="#000" stroke-width="1.45" fill="none"/>
<text x="864.50" y="30.20" font-size="25.0" style="" fill="#000">10</text>
<text x="889.49" y="20.60" font-size="18.3" style="" fill="#000">−3</text>
<text x="910.24" y="29.30" font-size="23.5">)</text>
<text x="79.77" y="314.70" font-size="23.5">(</text>
<path d="M90.40 304.00l11.2 11.2M101.60 304.00l-11.2 11.2" stroke="#000" stroke-width="1.45" fill="none"/>
<text x="111.70" y="315.60" font-size="25.0" style="" fill="#000">10</text>
<text x="136.69" y="306.00" font-size="18.3" style="" fill="#000">−3</text>
<text x="157.44" y="314.70" font-size="23.5">)</text>
<text x="451.77" y="314.70" font-size="23.5">(</text>
<path d="M462.40 304.00l11.2 11.2M473.60 304.00l-11.2 11.2" stroke="#000" stroke-width="1.45" fill="none"/>
<text x="483.70" y="315.60" font-size="25.0" style="" fill="#000">10</text>
<text x="508.69" y="306.00" font-size="18.3" style="" fill="#000">−3</text>
<text x="529.44" y="314.70" font-size="23.5">)</text>
<text x="79.77" y="608.10" font-size="23.5">(</text>
<path d="M90.40 597.40l11.2 11.2M101.60 597.40l-11.2 11.2" stroke="#000" stroke-width="1.45" fill="none"/>
<text x="111.70" y="609.00" font-size="25.0" style="" fill="#000">10</text>
<text x="136.69" y="599.40" font-size="18.3" style="" fill="#000">−3</text>
<text x="157.44" y="608.10" font-size="23.5">)</text>
<text x="191.80" y="280.80" font-size="25.0" style="" fill="#000">Inlet</text>
<text x="539.61" y="280.80" font-size="25.0" style="font-style:italic;" fill="#000">x</text>
<path d="M552.70 285.50L561.50 264.10" stroke="#000" stroke-width="1.35" fill="none"/>
<text x="563.41" y="280.80" font-size="25.0" style="font-style:italic;" fill="#000">C</text>
<path d="M585.80 269.90h16.9M585.80 275.50h16.9" stroke="#000" stroke-width="1.45" fill="none"/>
<text x="608.45" y="280.80" font-size="25.0" style="" fill="#000">0.1</text>
<text x="902.51" y="280.80" font-size="25.0" style="font-style:italic;" fill="#000">x</text>
<path d="M915.60 285.50L924.40 264.10" stroke="#000" stroke-width="1.35" fill="none"/>
<text x="926.31" y="280.80" font-size="25.0" style="font-style:italic;" fill="#000">C</text>
<path d="M948.70 269.90h16.9M948.70 275.50h16.9" stroke="#000" stroke-width="1.45" fill="none"/>
<text x="971.35" y="280.80" font-size="25.0" style="" fill="#000">0.25</text>
<text x="164.61" y="567.20" font-size="25.0" style="font-style:italic;" fill="#000">x</text>
<path d="M177.70 571.90L186.50 550.50" stroke="#000" stroke-width="1.35" fill="none"/>
<text x="188.41" y="567.20" font-size="25.0" style="font-style:italic;" fill="#000">C</text>
<path d="M210.80 556.30h16.9M210.80 561.90h16.9" stroke="#000" stroke-width="1.45" fill="none"/>
<text x="233.45" y="567.20" font-size="25.0" style="" fill="#000">0.5</text>
<text x="539.61" y="567.20" font-size="25.0" style="font-style:italic;" fill="#000">x</text>
<path d="M552.70 571.90L561.50 550.50" stroke="#000" stroke-width="1.35" fill="none"/>
<text x="563.41" y="567.20" font-size="25.0" style="font-style:italic;" fill="#000">C</text>
<path d="M585.80 556.30h16.9M585.80 561.90h16.9" stroke="#000" stroke-width="1.45" fill="none"/>
<text x="608.45" y="567.20" font-size="25.0" style="" fill="#000">0.6</text>
<text x="908.21" y="567.20" font-size="25.0" style="font-style:italic;" fill="#000">x</text>
<path d="M921.30 571.90L930.10 550.50" stroke="#000" stroke-width="1.35" fill="none"/>
<text x="932.01" y="567.20" font-size="25.0" style="font-style:italic;" fill="#000">C</text>
<path d="M954.40 556.30h16.9M954.40 561.90h16.9" stroke="#000" stroke-width="1.45" fill="none"/>
<text x="977.05" y="567.20" font-size="25.0" style="" fill="#000">0.7</text>
<text x="173.91" y="907.30" font-size="25.0" style="font-style:italic;" fill="#000">x</text>
<path d="M187.00 912.00L195.80 890.60" stroke="#000" stroke-width="1.35" fill="none"/>
<text x="197.71" y="907.30" font-size="25.0" style="font-style:italic;" fill="#000">C</text>
<path d="M220.10 896.40h16.9M220.10 902.00h16.9" stroke="#000" stroke-width="1.45" fill="none"/>
<text x="241.50" y="907.30" font-size="25.0" style="" fill="#000">1</text>
<text x="542.91" y="907.30" font-size="25.0" style="font-style:italic;" fill="#000">x</text>
<path d="M556.00 912.00L564.80 890.60" stroke="#000" stroke-width="1.35" fill="none"/>
<text x="566.71" y="907.30" font-size="25.0" style="font-style:italic;" fill="#000">C</text>
<path d="M589.10 896.40h16.9M589.10 902.00h16.9" stroke="#000" stroke-width="1.45" fill="none"/>
<text x="610.50" y="907.30" font-size="25.0" style="" fill="#000">1.33</text>
<text x="925.41" y="907.30" font-size="25.0" style="font-style:italic;" fill="#000">x</text>
<path d="M938.50 912.00L947.30 890.60" stroke="#000" stroke-width="1.35" fill="none"/>
<text x="949.21" y="907.30" font-size="25.0" style="font-style:italic;" fill="#000">C</text>
<path d="M971.60 896.40h16.9M971.60 902.00h16.9" stroke="#000" stroke-width="1.45" fill="none"/>
<text x="993.00" y="907.30" font-size="25.0" style="" fill="#000">1.5</text>
<text x="200.30" y="871.30" font-size="27.5" style="font-style:italic;" fill="#000">y</text>
<path d="M213.00 870.60h13.2M219.60 864.30v12.9" stroke="#000" stroke-width="1.3" fill="none"/>
<text x="593.90" y="871.30" font-size="27.5" style="font-style:italic;" fill="#000">y</text>
<path d="M606.60 870.60h13.2M613.20 864.30v12.9" stroke="#000" stroke-width="1.3" fill="none"/>
<text x="968.10" y="871.30" font-size="27.5" style="font-style:italic;" fill="#000">y</text>
<path d="M980.80 870.60h13.2M987.40 864.30v12.9" stroke="#000" stroke-width="1.3" fill="none"/>
<g transform="translate(36.00,179.30) rotate(-90)"><text x="0.90" y="0" font-size="29" style="font-style:italic">v</text><text x="15.20" y="0" font-size="29" style="font-style:italic">v</text><line x1="0" y1="-19.9" x2="29.5" y2="-19.9" stroke="#000" stroke-width="1.5"/><path d="M30.1 5.7L40.3 -19.9" stroke="#000" stroke-width="1.4" fill="none"/><g transform="translate(45.8,0) scale(0.88,1)"><text x="-2.75" y="0" font-size="30" style="font-style:italic">U</text></g><text x="67.82" y="-11.5" font-size="20">2</text><text x="68.49" y="4.3" font-size="20" style="font-style:italic" textLength="25.5" lengthAdjust="spacing">ref</text></g>
<g transform="translate(36.00,473.60) rotate(-90)"><text x="0.90" y="0" font-size="29" style="font-style:italic">v</text><text x="15.20" y="0" font-size="29" style="font-style:italic">v</text><line x1="0" y1="-19.9" x2="29.5" y2="-19.9" stroke="#000" stroke-width="1.5"/><path d="M30.1 5.7L40.3 -19.9" stroke="#000" stroke-width="1.4" fill="none"/><g transform="translate(45.8,0) scale(0.88,1)"><text x="-2.75" y="0" font-size="30" style="font-style:italic">U</text></g><text x="67.82" y="-11.5" font-size="20">2</text><text x="68.49" y="4.3" font-size="20" style="font-style:italic" textLength="25.5" lengthAdjust="spacing">ref</text></g>
<g transform="translate(36.00,759.20) rotate(-90)"><text x="0.90" y="0" font-size="29" style="font-style:italic">v</text><text x="15.20" y="0" font-size="29" style="font-style:italic">v</text><line x1="0" y1="-19.9" x2="29.5" y2="-19.9" stroke="#000" stroke-width="1.5"/><path d="M30.1 5.7L40.3 -19.9" stroke="#000" stroke-width="1.4" fill="none"/><g transform="translate(45.8,0) scale(0.88,1)"><text x="-2.75" y="0" font-size="30" style="font-style:italic">U</text></g><text x="67.82" y="-11.5" font-size="20">2</text><text x="68.49" y="4.3" font-size="20" style="font-style:italic" textLength="25.5" lengthAdjust="spacing">ref</text></g>
</svg>
</body></html>
